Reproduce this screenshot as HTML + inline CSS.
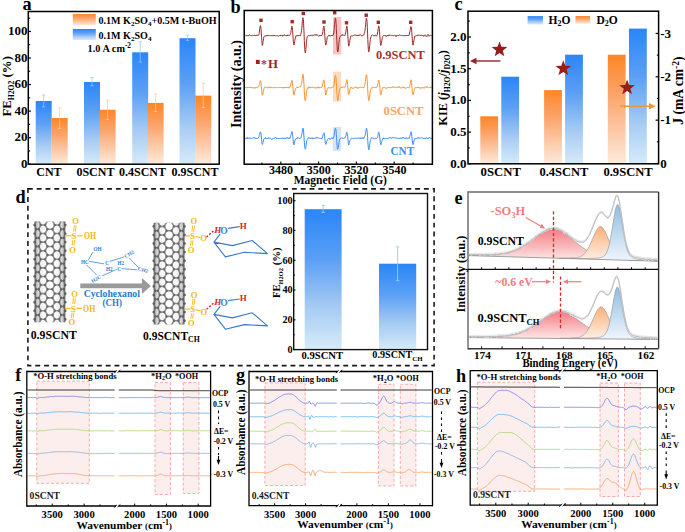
<!DOCTYPE html>
<html><head><meta charset="utf-8"><style>
html,body{margin:0;padding:0;background:#fff;width:685px;height:532px;overflow:hidden;}
svg{display:block;}
</style></head><body>
<svg width="685" height="532" viewBox="0 0 685 532" font-family="Liberation Serif">
<defs><linearGradient id="gb" x1="0" y1="0" x2="0" y2="1">
<stop offset="0" stop-color="#2a86f8"/><stop offset="0.35" stop-color="#5a9ff5"/><stop offset="0.7" stop-color="#a6cbf3"/><stop offset="1" stop-color="#d6ebf9"/></linearGradient>
<linearGradient id="go" x1="0" y1="0" x2="0" y2="1">
<stop offset="0" stop-color="#fc8626"/><stop offset="0.35" stop-color="#fba267"/><stop offset="0.7" stop-color="#fcc9a6"/><stop offset="1" stop-color="#fdebdc"/></linearGradient>
<linearGradient id="tubeg" x1="0" y1="0" x2="1" y2="0">
<stop offset="0" stop-color="#555" stop-opacity="0.55"/><stop offset="0.18" stop-color="#777" stop-opacity="0.15"/><stop offset="0.5" stop-color="#fff" stop-opacity="0"/><stop offset="0.82" stop-color="#777" stop-opacity="0.15"/><stop offset="1" stop-color="#555" stop-opacity="0.55"/></linearGradient>
<linearGradient id="gre" x1="0" y1="0" x2="0" y2="1"><stop offset="0" stop-color="#f47f83"/><stop offset="1" stop-color="#fdeaea"/></linearGradient>
<linearGradient id="gor" x1="0" y1="0" x2="0" y2="1"><stop offset="0" stop-color="#fbb079"/><stop offset="1" stop-color="#fdf1e7"/></linearGradient>
<linearGradient id="gbl" x1="0" y1="0" x2="0" y2="1"><stop offset="0" stop-color="#8ebde2"/><stop offset="1" stop-color="#f0f6fc"/></linearGradient></defs>
<rect width="685" height="532" fill="#fff"/>
<rect x="35.7" y="101" width="16" height="63.2" fill="url(#gb)" stroke="none" stroke-width="1"/>
<rect x="84" y="82" width="16" height="82.2" fill="url(#gb)" stroke="none" stroke-width="1"/>
<rect x="132.2" y="52.3" width="16" height="111.9" fill="url(#gb)" stroke="none" stroke-width="1"/>
<rect x="179.5" y="38.2" width="16" height="126" fill="url(#gb)" stroke="none" stroke-width="1"/>
<rect x="51.7" y="118" width="16" height="46.2" fill="url(#go)" stroke="none" stroke-width="1"/>
<rect x="99.6" y="109.7" width="16" height="54.5" fill="url(#go)" stroke="none" stroke-width="1"/>
<rect x="147.6" y="102.9" width="16" height="61.3" fill="url(#go)" stroke="none" stroke-width="1"/>
<rect x="195.2" y="95.6" width="16" height="68.6" fill="url(#go)" stroke="none" stroke-width="1"/>
<line x1="43.7" y1="95" x2="43.7" y2="106.9" stroke="#9ac8ee" stroke-width="0.75"/>
<line x1="42" y1="95" x2="45.4" y2="95" stroke="#9ac8ee" stroke-width="0.75"/>
<line x1="42" y1="106.9" x2="45.4" y2="106.9" stroke="#9ac8ee" stroke-width="0.75"/>
<line x1="92" y1="77.6" x2="92" y2="85.8" stroke="#9ac8ee" stroke-width="0.75"/>
<line x1="90.3" y1="77.6" x2="93.7" y2="77.6" stroke="#9ac8ee" stroke-width="0.75"/>
<line x1="90.3" y1="85.8" x2="93.7" y2="85.8" stroke="#9ac8ee" stroke-width="0.75"/>
<line x1="140.2" y1="41.7" x2="140.2" y2="62" stroke="#9ac8ee" stroke-width="0.75"/>
<line x1="138.5" y1="41.7" x2="141.9" y2="41.7" stroke="#9ac8ee" stroke-width="0.75"/>
<line x1="138.5" y1="62" x2="141.9" y2="62" stroke="#9ac8ee" stroke-width="0.75"/>
<line x1="187.5" y1="35" x2="187.5" y2="40.4" stroke="#9ac8ee" stroke-width="0.75"/>
<line x1="185.8" y1="35" x2="189.2" y2="35" stroke="#9ac8ee" stroke-width="0.75"/>
<line x1="185.8" y1="40.4" x2="189.2" y2="40.4" stroke="#9ac8ee" stroke-width="0.75"/>
<line x1="59.7" y1="107.8" x2="59.7" y2="128.5" stroke="#fcc8a6" stroke-width="0.75"/>
<line x1="58" y1="107.8" x2="61.4" y2="107.8" stroke="#fcc8a6" stroke-width="0.75"/>
<line x1="58" y1="128.5" x2="61.4" y2="128.5" stroke="#fcc8a6" stroke-width="0.75"/>
<line x1="107.6" y1="100.1" x2="107.6" y2="119.5" stroke="#fcc8a6" stroke-width="0.75"/>
<line x1="105.9" y1="100.1" x2="109.3" y2="100.1" stroke="#fcc8a6" stroke-width="0.75"/>
<line x1="105.9" y1="119.5" x2="109.3" y2="119.5" stroke="#fcc8a6" stroke-width="0.75"/>
<line x1="155.6" y1="94.1" x2="155.6" y2="111.6" stroke="#fcc8a6" stroke-width="0.75"/>
<line x1="153.9" y1="94.1" x2="157.3" y2="94.1" stroke="#fcc8a6" stroke-width="0.75"/>
<line x1="153.9" y1="111.6" x2="157.3" y2="111.6" stroke="#fcc8a6" stroke-width="0.75"/>
<line x1="203.2" y1="83.4" x2="203.2" y2="107.6" stroke="#fcc8a6" stroke-width="0.75"/>
<line x1="201.5" y1="83.4" x2="204.9" y2="83.4" stroke="#fcc8a6" stroke-width="0.75"/>
<line x1="201.5" y1="107.6" x2="204.9" y2="107.6" stroke="#fcc8a6" stroke-width="0.75"/>
<rect x="28.3" y="11.5" width="190.9" height="152.7" fill="none" stroke="#000" stroke-width="1.5"/>
<line x1="28.3" y1="164.2" x2="30.9" y2="164.2" stroke="#000" stroke-width="1.2"/>
<text x="27.6" y="167.7" font-size="13" text-anchor="end" fill="#000" font-weight="bold" font-family="Liberation Serif">0</text>
<line x1="28.3" y1="150.92" x2="30.1" y2="150.92" stroke="#000" stroke-width="1.2"/>
<line x1="28.3" y1="137.65" x2="30.9" y2="137.65" stroke="#000" stroke-width="1.2"/>
<text x="27.6" y="141.15" font-size="13" text-anchor="end" fill="#000" font-weight="bold" font-family="Liberation Serif">20</text>
<line x1="28.3" y1="124.38" x2="30.1" y2="124.38" stroke="#000" stroke-width="1.2"/>
<line x1="28.3" y1="111.1" x2="30.9" y2="111.1" stroke="#000" stroke-width="1.2"/>
<text x="27.6" y="114.6" font-size="13" text-anchor="end" fill="#000" font-weight="bold" font-family="Liberation Serif">40</text>
<line x1="28.3" y1="97.82" x2="30.1" y2="97.82" stroke="#000" stroke-width="1.2"/>
<line x1="28.3" y1="84.55" x2="30.9" y2="84.55" stroke="#000" stroke-width="1.2"/>
<text x="27.6" y="88.05" font-size="13" text-anchor="end" fill="#000" font-weight="bold" font-family="Liberation Serif">60</text>
<line x1="28.3" y1="71.27" x2="30.1" y2="71.27" stroke="#000" stroke-width="1.2"/>
<line x1="28.3" y1="58" x2="30.9" y2="58" stroke="#000" stroke-width="1.2"/>
<text x="27.6" y="61.5" font-size="13" text-anchor="end" fill="#000" font-weight="bold" font-family="Liberation Serif">80</text>
<line x1="28.3" y1="44.72" x2="30.1" y2="44.72" stroke="#000" stroke-width="1.2"/>
<line x1="28.3" y1="31.45" x2="30.9" y2="31.45" stroke="#000" stroke-width="1.2"/>
<text x="27.6" y="34.95" font-size="13" text-anchor="end" fill="#000" font-weight="bold" font-family="Liberation Serif">100</text>
<line x1="28.3" y1="18.18" x2="30.1" y2="18.18" stroke="#000" stroke-width="1.2"/>
<rect x="72.8" y="14" width="23" height="11.4" fill="url(#go)" stroke="none" stroke-width="1"/>
<rect x="72.8" y="29" width="23" height="11" fill="url(#gb)" stroke="none" stroke-width="1"/>
<text x="98.4" y="24" font-size="10.1" text-anchor="start" fill="#000" font-weight="bold" font-family="Liberation Serif">0.1M K<tspan dy="2.2" font-size="70%">2</tspan><tspan dy="-2.2">SO</tspan><tspan dy="2.2" font-size="70%">4</tspan><tspan dy="-2.2">+0.5M t-BuOH</tspan></text>
<text x="98.4" y="38.6" font-size="10.1" text-anchor="start" fill="#000" font-weight="bold" font-family="Liberation Serif">0.1M K<tspan dy="2.2" font-size="70%">2</tspan><tspan dy="-2.2">SO</tspan><tspan dy="2.2" font-size="70%">4</tspan></text>
<text x="87.5" y="52.4" font-size="10.3" text-anchor="start" fill="#000" font-weight="bold" font-family="Liberation Serif">1.0 A cm<tspan dy="-4" font-size="70%">-2</tspan></text>
<text x="48.9" y="176" font-size="12" text-anchor="middle" fill="#000" font-weight="bold" font-family="Liberation Serif">CNT</text>
<text x="95.4" y="176" font-size="12" text-anchor="middle" fill="#000" font-weight="bold" font-family="Liberation Serif">0SCNT</text>
<text x="142.5" y="176" font-size="12" text-anchor="middle" fill="#000" font-weight="bold" font-family="Liberation Serif">0.4SCNT</text>
<text x="195" y="176" font-size="12" text-anchor="middle" fill="#000" font-weight="bold" font-family="Liberation Serif">0.9SCNT</text>
<text x="11.4" y="86.3" font-size="12.8" text-anchor="middle" fill="#000" font-weight="bold" font-family="Liberation Serif" transform="rotate(-90 11.4 86.3)">FE<tspan dy="3" font-size="60%">H2O2</tspan><tspan dy="-3"> (%)</tspan></text>
<text x="22.4" y="9.9" font-size="18.3" text-anchor="start" fill="#000" font-weight="bold" font-family="Liberation Serif">a</text>
<rect x="333" y="17" width="8.2" height="37.5" fill="#f6b9b9" stroke="none" stroke-width="1" opacity="0.85"/>
<rect x="333" y="71.7" width="8.2" height="29.8" fill="#fcd5b4" stroke="none" stroke-width="1" opacity="0.85"/>
<rect x="332.8" y="127" width="8.4" height="24" fill="#cfe2f5" stroke="none" stroke-width="1" opacity="0.9"/>
<path d="M244.8 35.4 245.1 35.6 245.3 35.5 245.6 35.4 245.8 35.2 246.1 35.2 246.3 35.7 246.6 35.7 246.8 36 247.1 35.8 247.3 35.8 247.6 35.8 247.8 35.2 248.1 35.5 248.3 35.7 248.6 35.8 248.8 35.1 249.1 34.8 249.3 34.8 249.6 34.9 249.8 35.3 250.1 35.3 250.3 35.6 250.6 35.3 250.8 35.5 251.1 35.6 251.3 35.4 251.6 35.9 251.8 35.9 252.1 36.1 252.3 35.7 252.6 35.4 252.8 35.3 253.1 35.4 253.3 35.6 253.6 35.6 253.8 35.4 254.1 35.2 254.3 35.2 254.6 35.7 254.8 35.4 255.1 35.5 255.3 35.6 255.6 35.1 255.8 35.3 256.1 35.8 256.3 35.1 256.6 35.1 256.8 35.2 257.1 35.1 257.3 35.4 257.6 35.4 257.8 34.9 258.1 35.3 258.3 35.3 258.6 35.1 258.8 34.8 259.1 33.7 259.3 32.2 259.6 30 259.8 28.5 260.1 26.8 260.3 25.8 260.6 25.6 260.8 27 261.1 29.8 261.3 34 261.6 37.3 261.8 40.7 262.1 43.6 262.3 45.4 262.6 45.4 262.8 43.6 263.1 41.3 263.3 40.1 263.6 38.4 263.8 37 264.1 36.7 264.3 36.5 264.6 36.1 264.8 35.9 265.1 35.8 265.3 36.2 265.6 36.1 265.8 36 266.1 36 266.3 35.3 266.6 35.8 266.8 35.9 267.1 35.9 267.3 35.2 267.6 35.1 267.8 35.5 268.1 35 268.3 35.1 268.6 35.6 268.8 35.2 269.1 35.8 269.3 35.8 269.6 35.7 269.8 35.7 270.1 35.8 270.3 35.7 270.6 36 270.8 35.6 271.1 35.4 271.3 35.8 271.6 35.7 271.8 35.3 272.1 35.7 272.3 36.1 272.6 35.7 272.8 35.2 273.1 35.3 273.3 35.3 273.6 35.3 273.8 35.8 274.1 35.4 274.3 35.8 274.6 35.3 274.8 35.1 275.1 35.5 275.3 35.8 275.6 36 275.8 35.9 276.1 35.8 276.3 35.7 276.6 35.8 276.8 35.6 277.1 35.7 277.3 35.8 277.6 35.7 277.8 35.8 278.1 35.9 278.3 36.3 278.6 36.1 278.8 35.7 279.1 35.5 279.3 35.5 279.6 35.8 279.8 35.6 280.1 35.7 280.3 36.1 280.6 35.1 280.8 34.9 281.1 35.2 281.3 35.5 281.6 35.5 281.8 35.4 282.1 35.6 282.3 35.7 282.6 35.4 282.8 36.2 283.1 36 283.3 35.6 283.6 35.6 283.8 35.5 284.1 35.5 284.3 34.7 284.6 34.8 284.8 35.4 285.1 35.1 285.3 35.2 285.6 35.6 285.8 35.8 286.1 36.1 286.3 35.4 286.6 35.3 286.8 35.3 287.1 35.6 287.3 35.9 287.6 34.9 287.8 35.5 288.1 35.1 288.3 35.4 288.6 35 288.8 35.2 289.1 35.7 289.3 35.5 289.6 35.4 289.8 35.4 290.1 34.9 290.3 34.2 290.6 33.7 290.8 32.5 291.1 30.5 291.3 29.5 291.6 27.2 291.8 26.4 292.1 26.3 292.3 27.7 292.6 30.6 292.8 34.2 293.1 38.2 293.3 41.2 293.6 43.4 293.8 45 294.1 44.7 294.3 43.4 294.6 41.6 294.8 40.5 295.1 39.1 295.3 38.2 295.6 36.8 295.8 36.2 296.1 35.5 296.3 35.7 296.6 36.1 296.8 35.6 297.1 36 297.3 36.1 297.6 35.8 297.8 35.1 298.1 35.7 298.3 35.6 298.6 35.4 298.8 35.5 299.1 35.6 299.3 36 299.6 35.5 299.8 35.8 300.1 36 300.3 35.9 300.6 35.2 300.8 34.2 301.1 33.6 301.3 32.1 301.6 30.3 301.8 28.3 302.1 25.4 302.3 21.8 302.6 19.6 302.8 17.7 303.1 18.1 303.3 19.9 303.6 23.1 303.8 28.2 304.1 34.4 304.3 40.4 304.6 46 304.8 49.8 305.1 52.2 305.3 53 305.6 52.2 305.8 49.6 306.1 47.1 306.3 43.7 306.6 41.1 306.8 38.7 307.1 37.9 307.3 36.6 307.6 36.1 307.8 35.8 308.1 35.6 308.3 35.4 308.6 35.5 308.8 36 309.1 35.8 309.3 35.8 309.6 36 309.8 35.7 310.1 35.3 310.3 35.2 310.6 35.6 310.8 35.1 311.1 35.1 311.3 35.5 311.6 35.8 311.8 35.7 312.1 35.8 312.3 35.8 312.6 35.3 312.8 34.9 313.1 35 313.3 35.4 313.6 35.3 313.8 35.1 314.1 35 314.3 34.8 314.6 35 314.8 34.9 315.1 35.2 315.3 34.6 315.6 35.1 315.8 35.1 316.1 34.6 316.3 35.2 316.6 35.2 316.8 34.7 317.1 34.7 317.3 35.1 317.6 35.1 317.8 35.5 318.1 35.7 318.3 35.8 318.6 35.8 318.8 36.1 319.1 36 319.3 36 319.6 35.2 319.8 35.6 320.1 35.9 320.3 35.7 320.6 35.5 320.8 36 321.1 35.3 321.3 35.4 321.6 36 321.8 35.1 322.1 34.8 322.3 34.5 322.6 33.1 322.8 31.6 323.1 30 323.3 27.8 323.6 26.4 323.8 26 324.1 26.8 324.3 28.7 324.6 31.7 324.8 35.2 325.1 39.1 325.3 42.7 325.6 44.7 325.8 45.1 326.1 44.4 326.3 43.9 326.6 42.3 326.8 40.5 327.1 38 327.3 37.2 327.6 36.6 327.8 36.6 328.1 36.2 328.3 35.9 328.6 35.9 328.8 35.1 329.1 35.6 329.3 35.6 329.6 35.4 329.8 35.8 330.1 36.2 330.3 35.5 330.6 35.3 330.8 35.5 331.1 35.5 331.3 35.4 331.6 35.1 331.8 35.9 332.1 36 332.3 35.4 332.6 34.9 332.8 35.4 333.1 35.2 333.3 35 333.6 34 333.8 32.1 334.1 30.3 334.3 27.2 334.6 24.6 334.8 22 335.1 19.9 335.3 18.2 335.6 18.1 335.8 19.9 336.1 23.5 336.3 28.6 336.6 34.5 336.8 40.3 337.1 45.8 337.3 49.7 337.6 51.6 337.8 52 338.1 51.1 338.3 49.1 338.6 46.6 338.8 44 339.1 41.6 339.3 39.6 339.6 37.8 339.8 37 340.1 36.7 340.3 36.3 340.6 35.9 340.8 35.8 341.1 35.4 341.3 34.9 341.6 35.1 341.8 35 342.1 35.4 342.3 35.1 342.6 34.5 342.8 34.6 343.1 35.4 343.3 35.3 343.6 35 343.8 34.9 344.1 35.3 344.3 35.4 344.6 35.3 344.8 35.5 345.1 35 345.3 34.1 345.6 33 345.8 31.9 346.1 30.2 346.3 28.5 346.6 26.6 346.8 25.9 347.1 26.8 347.3 28.6 347.6 32 347.8 35.9 348.1 39.9 348.3 42.9 348.6 45.6 348.8 46.2 349.1 45.2 349.3 43.7 349.6 42.6 349.8 40.4 350.1 38.9 350.3 37.9 350.6 36.9 350.8 35.9 351.1 35.7 351.3 35.7 351.6 36 351.8 36 352.1 35.8 352.3 35.9 352.6 35.9 352.8 35.8 353.1 35.7 353.3 35.6 353.6 35.7 353.8 35.3 354.1 35.2 354.3 35.3 354.6 35 354.8 35 355.1 34.6 355.3 34.8 355.6 35.2 355.8 35.5 356.1 35.5 356.3 35.4 356.6 35 356.8 35.8 357.1 35.8 357.3 36 357.6 35.5 357.8 35.5 358.1 34.9 358.3 35.4 358.6 35.7 358.8 35.1 359.1 35.2 359.3 35.5 359.6 35 359.8 34.6 360.1 34.7 360.3 34.8 360.6 34.7 360.8 35 361.1 35.3 361.3 35.6 361.6 35.7 361.8 36.1 362.1 36.2 362.3 35.5 362.6 35.4 362.8 35.1 363.1 34.9 363.3 35 363.6 35.1 363.8 35.1 364.1 34.3 364.3 33.5 364.6 32.9 364.8 31.6 365.1 29.8 365.3 27.6 365.6 24.8 365.8 22.4 366.1 20.1 366.3 18.5 366.6 18.2 366.8 19.8 367.1 22.4 367.3 27.5 367.6 33.8 367.8 39.5 368.1 45.2 368.3 49.3 368.6 51.2 368.8 51.9 369.1 50.9 369.3 49.2 369.6 46.8 369.8 44.1 370.1 41.4 370.3 39.5 370.6 38 370.8 37.3 371.1 36.6 371.3 35.9 371.6 35.3 371.8 35.2 372.1 35.1 372.3 34.9 372.6 35.1 372.8 35.1 373.1 35.3 373.3 35.5 373.6 35.4 373.8 36.1 374.1 35.8 374.3 36 374.6 35.8 374.8 36 375.1 35.1 375.3 35 375.6 35.3 375.8 35.5 376.1 36.2 376.3 35.9 376.6 35.9 376.8 35.6 377.1 35.2 377.3 34.3 377.6 33 377.8 31.5 378.1 29.4 378.3 28.1 378.6 26.3 378.8 25.9 379.1 27.2 379.3 28.8 379.6 31.9 379.8 36 380.1 39.7 380.3 42.6 380.6 44.7 380.8 45.5 381.1 45.1 381.3 43.3 381.6 42.1 381.8 40.7 382.1 38.9 382.3 37.6 382.6 36.6 382.8 36.5 383.1 35.8 383.3 35.9 383.6 35.6 383.8 35.3 384.1 35.6 384.3 36 384.6 35.8 384.8 35.5 385.1 35.7 385.3 35.6 385.6 35.7 385.8 36.1 386.1 36.2 386.3 35.7 386.6 36.3 386.8 36 387.1 36 387.3 35.6 387.6 35.6 387.8 35 388.1 35.7 388.3 36.1 388.6 35.5 388.8 35 389.1 34.7 389.3 35.4 389.6 35.3 389.8 35.4 390.1 35.3 390.3 35.4 390.6 35.1 390.8 35.3 391.1 34.9 391.3 35.1 391.6 35.4 391.8 35.6 392.1 35.5 392.3 35.2 392.6 35.4 392.8 35.3 393.1 35.8 393.3 35.9 393.6 35.7 393.8 35.5 394.1 35.3 394.3 35.1 394.6 35.1 394.8 35.4 395.1 35.6 395.3 35.7 395.6 36.3 395.8 35.7 396.1 35.7 396.3 36.4 396.6 35.5 396.8 35.3 397.1 35.5 397.3 35.5 397.6 35.6 397.8 35.5 398.1 35.6 398.3 35.6 398.6 35.8 398.8 35.1 399.1 35 399.3 35.2 399.6 35 399.8 34.9 400.1 35.3 400.3 35.2 400.6 35.5 400.8 35.7 401.1 35.7 401.3 35.8 401.6 35.6 401.8 35.2 402.1 35.3 402.3 35.5 402.6 35.3 402.8 35.4 403.1 35.7 403.3 35.3 403.6 35.6 403.8 36.1 404.1 35.7 404.3 35.7 404.6 35.6 404.8 36 405.1 35.9 405.3 36 405.6 35.6 405.8 35.6 406.1 35.5 406.3 35 406.6 35.6 406.8 35.8 407.1 35.2 407.3 35.5 407.6 35.5 407.8 35.6 408.1 35.7 408.3 35.1 408.6 35.1 408.8 35.5 409.1 34.9 409.3 34.1 409.6 33 409.8 31.7 410.1 30.6 410.3 29.5 410.6 27.8 410.8 26.5 411.1 26.8 411.3 27.2 411.6 29.1 411.8 32.6 412.1 36.6 412.3 40 412.6 42.7 412.8 44.7 413.1 45.2 413.3 44.1 413.6 42.7 413.8 40.9 414.1 39.5 414.3 38.1 414.6 37 414.8 36.2 415.1 36.2 415.3 36.3 415.6 35.8 415.8 35.9 416.1 35.5 416.3 35.5 416.6 35.7 416.8 36.1 417.1 35.7 417.3 35.6 417.6 35.6 417.8 35.1 418.1 35.3 418.3 35.2 418.6 35.4 418.8 35.1 419.1 34.7 419.3 35 419.6 35.3 419.8 35.2 420.1 35.6 420.3 35.5 420.6 35.3 420.8 35.5 421.1 35 421.3 35 421.6 35.2 421.8 35.6 422.1 35.5 422.3 35.6 422.6 35.4 422.8 35.5 423.1 36 423.3 35.6 423.6 36.3 423.8 35.8 424.1 35.7 424.3 35.7 424.6 35.9 424.8 35.4 425.1 34.8 425.3 35.3 425.6 35.6 425.8 35.7 426.1 36.4 426.3 36.1 426.6 35.9 426.8 36 427.1 35.9 427.3 36.3 427.6 35.6 427.8 35.4 428.1 34.4 428.3 35.1 428.6 35.1 428.8 35.6 429.1 36.2 429.3 35.9 429.6 35.7 429.8 35.5 430.1 35.2 430.3 35.1 430.6 35.5 430.8 35.5 431.1 35.5 431.3 35.5 431.6 35.7 431.8 35.8" stroke="#a02626" stroke-width="1" fill="none" stroke-linejoin="round"/>
<path d="M244.8 87.5 245.1 87.7 245.3 87.6 245.6 87.2 245.8 87.8 246.1 87.8 246.3 87.4 246.6 87.8 246.8 87.8 247.1 87.2 247.3 87.8 247.6 87.8 247.8 87.9 248.1 87.8 248.3 87.6 248.6 87.1 248.8 87.6 249.1 87.5 249.3 87.4 249.6 87.6 249.8 87.6 250.1 87.7 250.3 87.5 250.6 87.5 250.8 86.9 251.1 87 251.3 87.4 251.6 87.8 251.8 87.6 252.1 87.5 252.3 88 252.6 87.7 252.8 87.8 253.1 88.2 253.3 87.9 253.6 88.1 253.8 87.7 254.1 87.7 254.3 87.6 254.6 87.6 254.8 87.9 255.1 88.4 255.3 87.9 255.6 87.5 255.8 87.7 256.1 87.3 256.3 87.5 256.6 87.7 256.8 87.5 257.1 87.7 257.3 87.1 257.6 87.5 257.8 87 258.1 86.9 258.3 86.7 258.6 86.5 258.8 86.5 259.1 85.7 259.3 84.6 259.6 83.6 259.8 82.7 260.1 81.3 260.3 80.6 260.6 80.9 260.8 81.9 261.1 83.4 261.3 87 261.6 90.4 261.8 92.1 262.1 94 262.3 95.1 262.6 95.2 262.8 94.4 263.1 92.9 263.3 91.2 263.6 90 263.8 89.4 264.1 88.3 264.3 87.6 264.6 87.5 264.8 86.9 265.1 87 265.3 87.1 265.6 87.4 265.8 87.2 266.1 87.1 266.3 87.1 266.6 87.3 266.8 87.2 267.1 87.3 267.3 87.6 267.6 87.9 267.8 88.3 268.1 87.7 268.3 87.5 268.6 86.8 268.8 87.6 269.1 87.4 269.3 87.4 269.6 87.6 269.8 87.2 270.1 87.4 270.3 87.5 270.6 86.9 270.8 87.2 271.1 87.7 271.3 87.1 271.6 87.5 271.8 87.6 272.1 87.7 272.3 87.7 272.6 88 272.8 87.8 273.1 87.9 273.3 87.6 273.6 87.8 273.8 87.4 274.1 87.4 274.3 88 274.6 87.9 274.8 87.7 275.1 87.3 275.3 87.1 275.6 87.3 275.8 87.7 276.1 87.7 276.3 87.8 276.6 87.7 276.8 88 277.1 87.7 277.3 87.4 277.6 87.7 277.8 87.7 278.1 87.5 278.3 87.3 278.6 87.3 278.8 87.6 279.1 87.7 279.3 87.2 279.6 87.5 279.8 87.5 280.1 87.2 280.3 87.6 280.6 87.5 280.8 87.4 281.1 87.7 281.3 88 281.6 87.6 281.8 87.7 282.1 87.3 282.3 88.1 282.6 87.7 282.8 88 283.1 87.6 283.3 87.8 283.6 88.3 283.8 87.2 284.1 87.2 284.3 87.5 284.6 87.5 284.8 87.3 285.1 88 285.3 87.8 285.6 87.2 285.8 87.6 286.1 87 286.3 87.6 286.6 87.4 286.8 87.5 287.1 87.9 287.3 87.7 287.6 87.2 287.8 86.8 288.1 87.5 288.3 87.7 288.6 87.4 288.8 87.7 289.1 87.7 289.3 87.8 289.6 86.9 289.8 86.8 290.1 87 290.3 86.7 290.6 86.1 290.8 84.2 291.1 83.2 291.3 82.1 291.6 81.7 291.8 80.4 292.1 80.4 292.3 81.5 292.6 83.8 292.8 86.3 293.1 89.7 293.3 92 293.6 94.1 293.8 94.8 294.1 94.8 294.3 93.8 294.6 92.1 294.8 91.3 295.1 90.2 295.3 89 295.6 88.5 295.8 88.3 296.1 87.7 296.3 87.5 296.6 87.7 296.8 87.7 297.1 87.5 297.3 86.9 297.6 87.5 297.8 87.6 298.1 87.6 298.3 87.5 298.6 87.6 298.8 87.4 299.1 87.1 299.3 87 299.6 87 299.8 87 300.1 86.7 300.3 87 300.6 86.4 300.8 86.4 301.1 85.5 301.3 84.7 301.6 83.8 301.8 82.1 302.1 79.8 302.3 77.8 302.6 76.1 302.8 74.4 303.1 74.3 303.3 75.7 303.6 78.2 303.8 82 304.1 86.7 304.3 91.5 304.6 95.8 304.8 99 305.1 100.5 305.3 100.8 305.6 99.9 305.8 98.2 306.1 96.1 306.3 93.6 306.6 91.8 306.8 90.5 307.1 89.1 307.3 88.5 307.6 88.2 307.8 87.8 308.1 88.3 308.3 87.2 308.6 87.2 308.8 86.8 309.1 87.4 309.3 88.2 309.6 87.2 309.8 87.3 310.1 87.6 310.3 87.4 310.6 87.6 310.8 86.9 311.1 87.4 311.3 87.6 311.6 87.5 311.8 87.3 312.1 87.6 312.3 87.4 312.6 87.5 312.8 87.4 313.1 86.7 313.3 87 313.6 87.3 313.8 87.6 314.1 87.3 314.3 87.4 314.6 87.6 314.8 87.6 315.1 87.9 315.3 88.4 315.6 87.7 315.8 87.1 316.1 87.5 316.3 88 316.6 88.1 316.8 88.1 317.1 87.7 317.3 87.4 317.6 87.7 317.8 87.3 318.1 86.9 318.3 86.8 318.6 87.8 318.8 88.3 319.1 87.8 319.3 87.4 319.6 87.5 319.8 87.3 320.1 87.8 320.3 87.6 320.6 87.3 320.8 87.7 321.1 87.4 321.3 87.5 321.6 87.3 321.8 87 322.1 86.8 322.3 86 322.6 84.7 322.8 83.2 323.1 81.9 323.3 80.8 323.6 80.1 323.8 79.9 324.1 80.7 324.3 82.2 324.6 84.4 324.8 87.2 325.1 89.7 325.3 92.4 325.6 94.3 325.8 95 326.1 94.6 326.3 93.5 326.6 92.4 326.8 91 327.1 90 327.3 89.2 327.6 88.6 327.8 88.5 328.1 87.9 328.3 87.6 328.6 87.3 328.8 87.1 329.1 87.7 329.3 88.2 329.6 87.9 329.8 87.9 330.1 88.1 330.3 88.1 330.6 88.2 330.8 87.6 331.1 87.3 331.3 87.5 331.6 87.9 331.8 87.8 332.1 87.4 332.3 87.3 332.6 87.1 332.8 86.8 333.1 87.1 333.3 86.4 333.6 85.8 333.8 85.5 334.1 84.2 334.3 82.3 334.6 80 334.8 78 335.1 76.6 335.3 75.5 335.6 75.5 335.8 76.4 336.1 78.9 336.3 82.4 336.6 86.8 336.8 91.8 337.1 95.3 337.3 98.4 337.6 100.3 337.8 100.5 338.1 99.7 338.3 98.4 338.6 96.9 338.8 94.8 339.1 92.7 339.3 90.6 339.6 90 339.8 89.1 340.1 88.4 340.3 87.7 340.6 87.5 340.8 87.2 341.1 87.3 341.3 87.5 341.6 87.5 341.8 87.6 342.1 87.3 342.3 87.8 342.6 87.5 342.8 86.9 343.1 87.1 343.3 87 343.6 86.9 343.8 87 344.1 87.3 344.3 86.9 344.6 87 344.8 87.3 345.1 87.1 345.3 86.3 345.6 85.5 345.8 84.3 346.1 83 346.3 81.9 346.6 80.7 346.8 79.5 347.1 80.3 347.3 81.7 347.6 84.5 347.8 87.3 348.1 90.4 348.3 93.5 348.6 94.5 348.8 94.7 349.1 94 349.3 92.4 349.6 91 349.8 90.2 350.1 89.2 350.3 88 350.6 87.3 350.8 87.5 351.1 87.2 351.3 87.2 351.6 87.4 351.8 87.8 352.1 88.3 352.3 88.3 352.6 88 352.8 87.9 353.1 88.3 353.3 88.4 353.6 87.9 353.8 87.9 354.1 87.8 354.3 87.7 354.6 87.5 354.8 87.1 355.1 87.1 355.3 86.8 355.6 87.4 355.8 87.6 356.1 87.2 356.3 87.7 356.6 87.9 356.8 87.2 357.1 87.9 357.3 88 357.6 88.4 357.8 87.7 358.1 87.8 358.3 87.8 358.6 87.7 358.8 87.7 359.1 87.9 359.3 87.3 359.6 87 359.8 86.8 360.1 86.9 360.3 87 360.6 87.3 360.8 87.5 361.1 87.5 361.3 87.3 361.6 87.2 361.8 87.6 362.1 87.8 362.3 87.7 362.6 87.5 362.8 88 363.1 87.6 363.3 87.7 363.6 87.9 363.8 87.4 364.1 87.3 364.3 86.4 364.6 86.1 364.8 85.1 365.1 83.1 365.3 81.8 365.6 79.5 365.8 78 366.1 76 366.3 74.8 366.6 74.8 366.8 75.9 367.1 78.5 367.3 82 367.6 86.7 367.8 91.3 368.1 95.5 368.3 97.7 368.6 100.2 368.8 100.6 369.1 99.3 369.3 98 369.6 96.2 369.8 94.5 370.1 92.1 370.3 91.1 370.6 89.8 370.8 89.6 371.1 88.7 371.3 88.4 371.6 87.9 371.8 87.4 372.1 87.7 372.3 87.9 372.6 88.2 372.8 88.2 373.1 87.7 373.3 87.1 373.6 87.1 373.8 87.1 374.1 87 374.3 87.4 374.6 87.5 374.8 87.4 375.1 87.5 375.3 87.5 375.6 87.5 375.8 87.7 376.1 87.9 376.3 87.5 376.6 86.9 376.8 87.3 377.1 86.9 377.3 86.6 377.6 85.1 377.8 84 378.1 82.8 378.3 81.1 378.6 80.1 378.8 80.1 379.1 81 379.3 82.8 379.6 84.7 379.8 87.2 380.1 90.4 380.3 93.2 380.6 94.7 380.8 94.7 381.1 94.7 381.3 93.8 381.6 92.5 381.8 90.9 382.1 89.8 382.3 89.2 382.6 88.3 382.8 87.4 383.1 87.5 383.3 87.6 383.6 87.6 383.8 87.8 384.1 87.5 384.3 87.5 384.6 87.4 384.8 87.6 385.1 88 385.3 87.7 385.6 88.3 385.8 88.4 386.1 88.3 386.3 88.1 386.6 88.4 386.8 88 387.1 87.8 387.3 87.3 387.6 87.5 387.8 87.9 388.1 87.9 388.3 87.9 388.6 87.7 388.8 87.7 389.1 87.2 389.3 87.6 389.6 87.4 389.8 87.1 390.1 87.1 390.3 87 390.6 87.4 390.8 87.8 391.1 87.3 391.3 87.6 391.6 87.8 391.8 87.5 392.1 87.1 392.3 87 392.6 87 392.8 87.3 393.1 87.3 393.3 86.8 393.6 87.1 393.8 86.8 394.1 87.4 394.3 87.1 394.6 87 394.8 87 395.1 87 395.3 87.6 395.6 87.8 395.8 87.9 396.1 87.8 396.3 87.2 396.6 87.2 396.8 87.1 397.1 87 397.3 87.3 397.6 87.2 397.8 87.1 398.1 86.9 398.3 86.6 398.6 87.1 398.8 87.7 399.1 87.7 399.3 87.3 399.6 86.6 399.8 87 400.1 87.6 400.3 87.6 400.6 87.9 400.8 88.2 401.1 88.2 401.3 87.8 401.6 88 401.8 88 402.1 87.4 402.3 87.3 402.6 86.9 402.8 87.1 403.1 87.5 403.3 87.2 403.6 86.7 403.8 87.4 404.1 87.5 404.3 88 404.6 87.4 404.8 87.7 405.1 88.3 405.3 88.6 405.6 88.1 405.8 87.9 406.1 87.7 406.3 87.9 406.6 88.1 406.8 87.9 407.1 87.3 407.3 87.6 407.6 87.4 407.8 87.6 408.1 87.6 408.3 88 408.6 88.1 408.8 87.6 409.1 87.3 409.3 87.3 409.6 86.3 409.8 85.4 410.1 84.5 410.3 83.4 410.6 82 410.8 80.4 411.1 79.8 411.3 80.7 411.6 82.6 411.8 85.9 412.1 88.3 412.3 91.5 412.6 93.9 412.8 94.5 413.1 94.6 413.3 94.2 413.6 93 413.8 91.7 414.1 90.6 414.3 89.3 414.6 88.7 414.8 88 415.1 87.6 415.3 87.7 415.6 87.4 415.8 87.5 416.1 88 416.3 87.8 416.6 87.6 416.8 87.8 417.1 87.6 417.3 87.9 417.6 87.3 417.8 87.6 418.1 87.4 418.3 87.2 418.6 87.9 418.8 87.5 419.1 88 419.3 88 419.6 88.2 419.8 87.6 420.1 87.9 420.3 88.2 420.6 87.9 420.8 87.7 421.1 88.4 421.3 88.1 421.6 87.7 421.8 87.4 422.1 87.6 422.3 87.7 422.6 87.6 422.8 88.1 423.1 87.8 423.3 87.8 423.6 88.1 423.8 87.6 424.1 87.9 424.3 88.3 424.6 87.6 424.8 87.2 425.1 87 425.3 86.7 425.6 87.1 425.8 86.7 426.1 87.2 426.3 87.7 426.6 87.2 426.8 87.2 427.1 86.7 427.3 87.3 427.6 87.1 427.8 87.2 428.1 87.3 428.3 87.6 428.6 87.4 428.8 87.5 429.1 87.3 429.3 87.4 429.6 87.1 429.8 87.3 430.1 86.8 430.3 86.9 430.6 87.7 430.8 87.7 431.1 87.2 431.3 87.4 431.6 87.2 431.8 86.8" stroke="#f7922c" stroke-width="1" fill="none" stroke-linejoin="round"/>
<path d="M244.8 138.1 245.1 138.4 245.3 138.5 245.6 138.4 245.8 138.1 246.1 137.8 246.3 138.4 246.6 138.4 246.8 138.1 247.1 137.5 247.3 137.4 247.6 138.5 247.8 138.1 248.1 138.2 248.3 138.3 248.6 138.2 248.8 138.2 249.1 137.8 249.3 137.7 249.6 138.4 249.8 138.2 250.1 138.5 250.3 137.9 250.6 138 250.8 138.2 251.1 138.5 251.3 138.1 251.6 138.4 251.8 138.5 252.1 138.2 252.3 138.4 252.6 138.1 252.8 137.9 253.1 138.1 253.3 137.3 253.6 137.7 253.8 137.6 254.1 137.5 254.3 137.7 254.6 138.2 254.8 138.1 255.1 138.6 255.3 138.1 255.6 137.8 255.8 138.5 256.1 138.5 256.3 138.7 256.6 138.3 256.8 138.5 257.1 138.5 257.3 138.6 257.6 138.5 257.8 138.7 258.1 138.3 258.3 137.8 258.6 137.2 258.8 137.4 259.1 136.6 259.3 135.6 259.6 134.4 259.8 133.4 260.1 132.3 260.3 131.9 260.6 132 260.8 132.9 261.1 134.5 261.3 137 261.6 139.5 261.8 141.9 262.1 143.7 262.3 144.5 262.6 143.8 262.8 143.1 263.1 142.1 263.3 141.4 263.6 139.9 263.8 139.1 264.1 138.7 264.3 138.4 264.6 138.6 264.8 138.3 265.1 138.6 265.3 138 265.6 137.6 265.8 138.2 266.1 138.4 266.3 138.5 266.6 138.5 266.8 138.5 267.1 138.1 267.3 138.5 267.6 138.2 267.8 138.6 268.1 138.5 268.3 137.8 268.6 137.6 268.8 138.2 269.1 138.2 269.3 138.1 269.6 138.3 269.8 138.2 270.1 138.1 270.3 138.2 270.6 138.3 270.8 138.7 271.1 138.6 271.3 139 271.6 139.3 271.8 139.4 272.1 139.3 272.3 138.9 272.6 138.7 272.8 138.5 273.1 138.2 273.3 138.2 273.6 138.1 273.8 138.6 274.1 138.7 274.3 138.4 274.6 137.8 274.8 138 275.1 138 275.3 137.8 275.6 137.6 275.8 137.2 276.1 137.8 276.3 138 276.6 138.9 276.8 138.6 277.1 138.5 277.3 138.8 277.6 138.7 277.8 138.6 278.1 138.3 278.3 138.1 278.6 138.7 278.8 138.8 279.1 139.1 279.3 138.7 279.6 138.5 279.8 138.2 280.1 138.5 280.3 138 280.6 138.3 280.8 138.6 281.1 138.9 281.3 138.4 281.6 138.7 281.8 138.3 282.1 138.1 282.3 137.8 282.6 138.3 282.8 138.8 283.1 138.4 283.3 138.1 283.6 138.1 283.8 138.9 284.1 139 284.3 138.5 284.6 137.9 284.8 137.9 285.1 138.4 285.3 138.9 285.6 138.6 285.8 138.3 286.1 138.1 286.3 137.6 286.6 138.2 286.8 137.9 287.1 138.4 287.3 137.8 287.6 137.6 287.8 138 288.1 137.9 288.3 138.3 288.6 138.3 288.8 137.9 289.1 138.2 289.3 138.5 289.6 137.7 289.8 138.3 290.1 138.1 290.3 137.8 290.6 136.5 290.8 135.6 291.1 134.6 291.3 134 291.6 132.6 291.8 131.9 292.1 131.5 292.3 132.7 292.6 134.8 292.8 136.7 293.1 139.2 293.3 141.9 293.6 144 293.8 144.9 294.1 144.5 294.3 143.4 294.6 142.2 294.8 141 295.1 140.2 295.3 139.5 295.6 139.5 295.8 139.1 296.1 138.4 296.3 138.8 296.6 138.9 296.8 138.7 297.1 138.3 297.3 137.7 297.6 137.7 297.8 138.2 298.1 138 298.3 137.7 298.6 138 298.8 138.2 299.1 138.4 299.3 138.6 299.6 138.9 299.8 138.3 300.1 138.5 300.3 138 300.6 138 300.8 137.7 301.1 137.2 301.3 136.6 301.6 135.4 301.8 134.3 302.1 132.8 302.3 131.1 302.6 129.4 302.8 128.3 303.1 128.1 303.3 129.1 303.6 131.1 303.8 135 304.1 138.3 304.3 142 304.6 145 304.8 147.3 305.1 148.8 305.3 149.2 305.6 148.3 305.8 147.6 306.1 145.6 306.3 144.2 306.6 141.8 306.8 140.7 307.1 139.9 307.3 139.3 307.6 139.1 307.8 138.8 308.1 138.6 308.3 137.9 308.6 137.8 308.8 137.3 309.1 137.9 309.3 138.1 309.6 138.1 309.8 138 310.1 137.9 310.3 138.6 310.6 139 310.8 138.7 311.1 138.9 311.3 138.2 311.6 137.7 311.8 137.8 312.1 137.7 312.3 137.8 312.6 138 312.8 139.1 313.1 138.6 313.3 138.5 313.6 138.5 313.8 138.4 314.1 138.6 314.3 139 314.6 138.4 314.8 138.4 315.1 138.3 315.3 138.4 315.6 137.9 315.8 137.5 316.1 137.1 316.3 137.8 316.6 138 316.8 138.2 317.1 137.5 317.3 137.7 317.6 137.7 317.8 137.5 318.1 137.6 318.3 138.1 318.6 138.3 318.8 138.3 319.1 138.5 319.3 138.2 319.6 138.3 319.8 138.3 320.1 138.5 320.3 138.4 320.6 138.3 320.8 138.2 321.1 138.1 321.3 138.8 321.6 138.6 321.8 138.4 322.1 138.6 322.3 138.2 322.6 136.7 322.8 135.9 323.1 135 323.3 134.3 323.6 133.5 323.8 133.1 324.1 132.8 324.3 133.7 324.6 135.9 324.8 138.4 325.1 140.5 325.3 142.6 325.6 143.8 325.8 144.4 326.1 144.2 326.3 143.2 326.6 141.8 326.8 141.2 327.1 140.7 327.3 139.7 327.6 139.4 327.8 139.1 328.1 138.9 328.3 138.8 328.6 138.4 328.8 138.5 329.1 138.7 329.3 138.3 329.6 138.9 329.8 139.3 330.1 139.4 330.3 139.6 330.6 139.3 330.8 138.8 331.1 138.4 331.3 138.1 331.6 138.2 331.8 138.2 332.1 138.4 332.3 137.7 332.6 138.6 332.8 139 333.1 138.4 333.3 138.1 333.6 137.5 333.8 136.6 334.1 135.3 334.3 133.9 334.6 132.1 334.8 130.6 335.1 129.3 335.3 128.5 335.6 128.2 335.8 129.2 336.1 131.2 336.3 134.3 336.6 137.4 336.8 141.4 337.1 145.2 337.3 147.8 337.6 149.1 337.8 149.2 338.1 148.5 338.3 147.4 338.6 146.2 338.8 144.2 339.1 142.3 339.3 141.1 339.6 140.2 339.8 139.2 340.1 138.6 340.3 138.4 340.6 138.5 340.8 138.1 341.1 137.8 341.3 138.2 341.6 137.9 341.8 138.1 342.1 138.3 342.3 138.2 342.6 138 342.8 138.1 343.1 138.1 343.3 138.3 343.6 138 343.8 138.4 344.1 137.9 344.3 137.9 344.6 138 344.8 138.2 345.1 137.6 345.3 137.3 345.6 136.4 345.8 135.8 346.1 135.2 346.3 133.7 346.6 132.9 346.8 132.2 347.1 132.9 347.3 134.4 347.6 136.2 347.8 138.1 348.1 140.8 348.3 143.2 348.6 144.6 348.8 145.1 349.1 143.9 349.3 142.9 349.6 142.4 349.8 140.8 350.1 140.3 350.3 140.1 350.6 139.6 350.8 139.4 351.1 138.8 351.3 138.2 351.6 138.2 351.8 138.2 352.1 138.2 352.3 138.5 352.6 138.3 352.8 138.4 353.1 138.5 353.3 138.4 353.6 138.9 353.8 138.8 354.1 138.6 354.3 138.4 354.6 138.2 354.8 138.6 355.1 138.5 355.3 138.1 355.6 138 355.8 138.1 356.1 138 356.3 138.5 356.6 138.1 356.8 138.3 357.1 138.3 357.3 138 357.6 138.1 357.8 138.2 358.1 138.4 358.3 138.2 358.6 138.3 358.8 137.8 359.1 137.7 359.3 138.2 359.6 138.5 359.8 138.4 360.1 138.2 360.3 138.6 360.6 137.8 360.8 137.8 361.1 138.2 361.3 138.4 361.6 138.1 361.8 137.6 362.1 138.3 362.3 138.4 362.6 138.1 362.8 138.2 363.1 138.5 363.3 137.6 363.6 138.1 363.8 138.3 364.1 137.4 364.3 137.5 364.6 136.4 364.8 136.2 365.1 135.3 365.3 134.6 365.6 132.6 365.8 130.9 366.1 129.8 366.3 128.5 366.6 128.2 366.8 129.1 367.1 131.1 367.3 133.7 367.6 137.5 367.8 141.5 368.1 145 368.3 148 368.6 149.2 368.8 149.8 369.1 148.8 369.3 147.6 369.6 145.2 369.8 143.7 370.1 142.1 370.3 140.8 370.6 139.7 370.8 139 371.1 138.5 371.3 137.7 371.6 137.8 371.8 137.8 372.1 137.8 372.3 137.7 372.6 137.9 372.8 138.3 373.1 138.2 373.3 138.1 373.6 138.6 373.8 138.8 374.1 138.9 374.3 139 374.6 138.6 374.8 138.4 375.1 138.7 375.3 138.4 375.6 138.3 375.8 138.4 376.1 138.5 376.3 138.3 376.6 138.4 376.8 138.1 377.1 138 377.3 137.7 377.6 137 377.8 136.1 378.1 134.5 378.3 133.1 378.6 132.2 378.8 132.2 379.1 133.1 379.3 133.8 379.6 135.9 379.8 138 380.1 140.4 380.3 142.5 380.6 144.1 380.8 144.6 381.1 144.6 381.3 143.2 381.6 142.4 381.8 141.5 382.1 140.4 382.3 139.7 382.6 139 382.8 138.3 383.1 138.2 383.3 138 383.6 139 383.8 138.6 384.1 138.9 384.3 138.7 384.6 138.7 384.8 138.7 385.1 138.3 385.3 138.6 385.6 138.6 385.8 138 386.1 138.3 386.3 138.5 386.6 138.5 386.8 138.9 387.1 138.5 387.3 138.6 387.6 138.7 387.8 138.3 388.1 138.6 388.3 138.1 388.6 137.8 388.8 138.1 389.1 137.9 389.3 138 389.6 137.6 389.8 137.9 390.1 137.7 390.3 138.1 390.6 137.7 390.8 138.1 391.1 138.1 391.3 138.2 391.6 138.2 391.8 138.3 392.1 137.9 392.3 137.3 392.6 137.7 392.8 137.7 393.1 137.8 393.3 138.1 393.6 137.6 393.8 137.6 394.1 137.7 394.3 137.6 394.6 138 394.8 138.1 395.1 137.9 395.3 137.8 395.6 138.2 395.8 138.1 396.1 138.3 396.3 138.5 396.6 137.8 396.8 137.7 397.1 137.9 397.3 138.2 397.6 138.5 397.8 138.6 398.1 138.8 398.3 138.5 398.6 138.4 398.8 138.6 399.1 138.3 399.3 138.6 399.6 138 399.8 138.3 400.1 138.3 400.3 137.7 400.6 138.2 400.8 138.4 401.1 138.3 401.3 138 401.6 138 401.8 138.6 402.1 138.2 402.3 137.2 402.6 137.4 402.8 137.4 403.1 137.7 403.3 137.8 403.6 137.7 403.8 137.7 404.1 138.3 404.3 137.8 404.6 138.6 404.8 138.3 405.1 138 405.3 138.3 405.6 138.5 405.8 138.1 406.1 138.4 406.3 137.8 406.6 137.7 406.8 138.3 407.1 138.2 407.3 137.9 407.6 138.2 407.8 138.5 408.1 138.4 408.3 137.8 408.6 137.8 408.8 138 409.1 138.1 409.3 138.3 409.6 137.4 409.8 136.4 410.1 135.4 410.3 134.7 410.6 133.2 410.8 132.9 411.1 131.7 411.3 132.8 411.6 134 411.8 136.3 412.1 139 412.3 141 412.6 143 412.8 144.2 413.1 144.6 413.3 143.8 413.6 142.7 413.8 141.1 414.1 141.1 414.3 140.1 414.6 139.3 414.8 138.4 415.1 138.6 415.3 138.3 415.6 138.7 415.8 138.8 416.1 138.6 416.3 138.7 416.6 138.2 416.8 138.1 417.1 138 417.3 137.8 417.6 138 417.8 138.1 418.1 138.6 418.3 137.5 418.6 137.6 418.8 137.6 419.1 137.7 419.3 138.1 419.6 138.3 419.8 138.3 420.1 138.2 420.3 138.4 420.6 138.4 420.8 137.8 421.1 137.9 421.3 137.7 421.6 137.6 421.8 137.9 422.1 138.1 422.3 138.2 422.6 138 422.8 138 423.1 137.9 423.3 138.2 423.6 138.4 423.8 138.9 424.1 139 424.3 138.5 424.6 138.3 424.8 138 425.1 138.2 425.3 138.8 425.6 138.8 425.8 138 426.1 137.7 426.3 137.6 426.6 138 426.8 138.1 427.1 138.3 427.3 138.8 427.6 138.4 427.8 138.1 428.1 138.8 428.3 138.7 428.6 138.3 428.8 137.7 429.1 137.5 429.3 137.1 429.6 137.6 429.8 137.9 430.1 138.3 430.3 138.3 430.6 138.1 430.8 137.9 431.1 138.7 431.3 138 431.6 138.2 431.8 138.2" stroke="#3a8cf2" stroke-width="1" fill="none" stroke-linejoin="round"/>
<rect x="259.3" y="18.6" width="3.4" height="3.4" fill="#a02c2c" stroke="none" stroke-width="1"/>
<rect x="290.5" y="20" width="3.4" height="3.4" fill="#a02c2c" stroke="none" stroke-width="1"/>
<rect x="301.6" y="11.8" width="3.4" height="3.4" fill="#a02c2c" stroke="none" stroke-width="1"/>
<rect x="322.3" y="20.3" width="3.4" height="3.4" fill="#a02c2c" stroke="none" stroke-width="1"/>
<rect x="333" y="11" width="3.4" height="3.4" fill="#a02c2c" stroke="none" stroke-width="1"/>
<rect x="344.8" y="21.1" width="3.4" height="3.4" fill="#a02c2c" stroke="none" stroke-width="1"/>
<rect x="364.5" y="13.5" width="3.4" height="3.4" fill="#a02c2c" stroke="none" stroke-width="1"/>
<rect x="376.6" y="20.6" width="3.4" height="3.4" fill="#a02c2c" stroke="none" stroke-width="1"/>
<rect x="409" y="20.6" width="3.4" height="3.4" fill="#a02c2c" stroke="none" stroke-width="1"/>
<rect x="244.2" y="10.5" width="188.2" height="153.7" fill="none" stroke="#000" stroke-width="1.5"/>
<line x1="261.9" y1="164.2" x2="261.9" y2="162.5" stroke="#000" stroke-width="1.1"/>
<line x1="280.8" y1="164.2" x2="280.8" y2="161.4" stroke="#000" stroke-width="1.1"/>
<text x="281" y="174.2" font-size="12" text-anchor="middle" fill="#000" font-weight="bold" font-family="Liberation Serif">3480</text>
<line x1="299.7" y1="164.2" x2="299.7" y2="162.5" stroke="#000" stroke-width="1.1"/>
<line x1="318.6" y1="164.2" x2="318.6" y2="161.4" stroke="#000" stroke-width="1.1"/>
<text x="318.8" y="174.2" font-size="12" text-anchor="middle" fill="#000" font-weight="bold" font-family="Liberation Serif">3500</text>
<line x1="337.5" y1="164.2" x2="337.5" y2="162.5" stroke="#000" stroke-width="1.1"/>
<line x1="356.4" y1="164.2" x2="356.4" y2="161.4" stroke="#000" stroke-width="1.1"/>
<text x="356.6" y="174.2" font-size="12" text-anchor="middle" fill="#000" font-weight="bold" font-family="Liberation Serif">3520</text>
<line x1="375.3" y1="164.2" x2="375.3" y2="162.5" stroke="#000" stroke-width="1.1"/>
<line x1="394.2" y1="164.2" x2="394.2" y2="161.4" stroke="#000" stroke-width="1.1"/>
<text x="394.4" y="174.2" font-size="12" text-anchor="middle" fill="#000" font-weight="bold" font-family="Liberation Serif">3540</text>
<line x1="413.1" y1="164.2" x2="413.1" y2="162.5" stroke="#000" stroke-width="1.1"/>
<text x="340.3" y="183.8" font-size="12.5" text-anchor="middle" fill="#000" font-weight="bold" font-family="Liberation Serif" textLength="93.3" lengthAdjust="spacingAndGlyphs">Magnetic Field (G)</text>
<text x="241.4" y="84" font-size="14" text-anchor="middle" fill="#000" font-weight="bold" font-family="Liberation Serif" textLength="88" lengthAdjust="spacingAndGlyphs" transform="rotate(-90 241.4 84)">Intensity (a.u.)</text>
<text x="230.6" y="12.8" font-size="18.3" text-anchor="start" fill="#000" font-weight="bold" font-family="Liberation Serif">b</text>
<rect x="255.9" y="59.9" width="3.8" height="4.1" fill="#9e1f1f" stroke="none" stroke-width="1"/>
<text x="260.9" y="67.6" font-size="12" text-anchor="start" fill="#b0403f" font-weight="bold" font-family="Liberation Serif">*</text>
<text x="268" y="67.6" font-size="12.8" text-anchor="start" fill="#9e1f1f" font-weight="bold" font-family="Liberation Serif">H</text>
<text x="376" y="59.2" font-size="12.5" text-anchor="start" fill="#a13131" font-weight="bold" font-family="Liberation Serif" textLength="48.8" lengthAdjust="spacingAndGlyphs">0.9SCNT</text>
<text x="383.6" y="114.8" font-size="12.5" text-anchor="start" fill="#f6a46a" font-weight="bold" font-family="Liberation Serif" textLength="39.8" lengthAdjust="spacingAndGlyphs">0SCNT</text>
<text x="390.5" y="155.2" font-size="12.5" text-anchor="start" fill="#3a8ef0" font-weight="bold" font-family="Liberation Serif" textLength="23.7" lengthAdjust="spacingAndGlyphs">CNT</text>
<rect x="480.3" y="116.3" width="17.8" height="47.5" fill="url(#go)" stroke="none" stroke-width="1"/>
<rect x="544.1" y="90.1" width="17.8" height="73.7" fill="url(#go)" stroke="none" stroke-width="1"/>
<rect x="607.8" y="54.7" width="17.8" height="109.1" fill="url(#go)" stroke="none" stroke-width="1"/>
<rect x="501.3" y="76.7" width="17.8" height="87.1" fill="url(#gb)" stroke="none" stroke-width="1"/>
<rect x="565.1" y="54.7" width="17.8" height="109.1" fill="url(#gb)" stroke="none" stroke-width="1"/>
<rect x="629" y="28.6" width="17.8" height="135.2" fill="url(#gb)" stroke="none" stroke-width="1"/>
<rect x="468" y="11.2" width="190.6" height="152.6" fill="none" stroke="#000" stroke-width="1.5"/>
<line x1="468" y1="163.8" x2="471" y2="163.8" stroke="#000" stroke-width="1.2"/>
<text x="466.6" y="167.7" font-size="13" text-anchor="end" fill="#000" font-weight="bold" font-family="Liberation Serif">0.0</text>
<line x1="468" y1="147.95" x2="469.7" y2="147.95" stroke="#000" stroke-width="1.2"/>
<line x1="468" y1="132.1" x2="471" y2="132.1" stroke="#000" stroke-width="1.2"/>
<text x="466.6" y="136" font-size="13" text-anchor="end" fill="#000" font-weight="bold" font-family="Liberation Serif">0.5</text>
<line x1="468" y1="116.25" x2="469.7" y2="116.25" stroke="#000" stroke-width="1.2"/>
<line x1="468" y1="100.4" x2="471" y2="100.4" stroke="#000" stroke-width="1.2"/>
<text x="466.6" y="104.3" font-size="13" text-anchor="end" fill="#000" font-weight="bold" font-family="Liberation Serif">1.0</text>
<line x1="468" y1="84.55" x2="469.7" y2="84.55" stroke="#000" stroke-width="1.2"/>
<line x1="468" y1="68.7" x2="471" y2="68.7" stroke="#000" stroke-width="1.2"/>
<text x="466.6" y="72.6" font-size="13" text-anchor="end" fill="#000" font-weight="bold" font-family="Liberation Serif">1.5</text>
<line x1="468" y1="52.85" x2="469.7" y2="52.85" stroke="#000" stroke-width="1.2"/>
<line x1="468" y1="37" x2="471" y2="37" stroke="#000" stroke-width="1.2"/>
<text x="466.6" y="40.9" font-size="13" text-anchor="end" fill="#000" font-weight="bold" font-family="Liberation Serif">2.0</text>
<line x1="468" y1="21.15" x2="469.7" y2="21.15" stroke="#000" stroke-width="1.2"/>
<line x1="655.6" y1="163.5" x2="658.6" y2="163.5" stroke="#000" stroke-width="1.2"/>
<text x="660.2" y="167.6" font-size="13" text-anchor="start" fill="#000" font-weight="bold" font-family="Liberation Serif">0</text>
<line x1="656.9" y1="141.82" x2="658.6" y2="141.82" stroke="#000" stroke-width="1.2"/>
<line x1="655.6" y1="120.15" x2="658.6" y2="120.15" stroke="#000" stroke-width="1.2"/>
<text x="660.2" y="124.25" font-size="13" text-anchor="start" fill="#000" font-weight="bold" font-family="Liberation Serif">-1</text>
<line x1="656.9" y1="98.47" x2="658.6" y2="98.47" stroke="#000" stroke-width="1.2"/>
<line x1="655.6" y1="76.8" x2="658.6" y2="76.8" stroke="#000" stroke-width="1.2"/>
<text x="660.2" y="80.9" font-size="13" text-anchor="start" fill="#000" font-weight="bold" font-family="Liberation Serif">-2</text>
<line x1="656.9" y1="55.12" x2="658.6" y2="55.12" stroke="#000" stroke-width="1.2"/>
<line x1="655.6" y1="33.45" x2="658.6" y2="33.45" stroke="#000" stroke-width="1.2"/>
<text x="660.2" y="37.55" font-size="13" text-anchor="start" fill="#000" font-weight="bold" font-family="Liberation Serif">-3</text>
<rect x="527.6" y="16.1" width="15.4" height="8.4" fill="url(#gb)" stroke="none" stroke-width="1"/>
<text x="548.6" y="24.2" font-size="11.5" text-anchor="start" fill="#000" font-weight="bold" font-family="Liberation Serif">H<tspan dy="2.2" font-size="70%">2</tspan><tspan dy="-2.2">O</tspan></text>
<rect x="575.5" y="16" width="14.6" height="7.8" fill="url(#go)" stroke="none" stroke-width="1"/>
<text x="596.5" y="24.2" font-size="11.5" text-anchor="start" fill="#000" font-weight="bold" font-family="Liberation Serif">D<tspan dy="2.2" font-size="70%">2</tspan><tspan dy="-2.2">O</tspan></text>
<path d="M499.5 41.4 501.5 46.8 507.3 47.1 502.8 50.7 504.3 56.2 499.5 53 494.7 56.2 496.2 50.7 491.7 47.1 497.5 46.8Z" stroke="none" stroke-width="0" fill="#971c1c"/>
<path d="M563.3 60.3 565.3 65.7 571.1 66 566.6 69.6 568.1 75.1 563.3 71.9 558.5 75.1 560 69.6 555.5 66 561.3 65.7Z" stroke="none" stroke-width="0" fill="#971c1c"/>
<path d="M627.1 79.5 629.1 84.9 634.9 85.2 630.4 88.8 631.9 94.3 627.1 91.1 622.3 94.3 623.8 88.8 619.3 85.2 625.1 84.9Z" stroke="none" stroke-width="0" fill="#971c1c"/>
<line x1="500.4" y1="61" x2="476" y2="61" stroke="#962424" stroke-width="1.4"/>
<path d="M470 61 476.5 57.7 476.5 64.3Z" stroke="none" stroke-width="0" fill="#962424"/>
<line x1="620.2" y1="106.2" x2="649.5" y2="106.2" stroke="#f7922f" stroke-width="1.4"/>
<path d="M655.5 106.2 649 109.5 649 102.9Z" stroke="none" stroke-width="0" fill="#f7922f"/>
<text x="500.75" y="175.6" font-size="12" text-anchor="middle" fill="#000" font-weight="bold" font-family="Liberation Serif" textLength="40.3" lengthAdjust="spacingAndGlyphs">0SCNT</text>
<text x="563.9" y="175.6" font-size="12" text-anchor="middle" fill="#000" font-weight="bold" font-family="Liberation Serif" textLength="49" lengthAdjust="spacingAndGlyphs">0.4SCNT</text>
<text x="628.1" y="175.6" font-size="12" text-anchor="middle" fill="#000" font-weight="bold" font-family="Liberation Serif" textLength="49.4" lengthAdjust="spacingAndGlyphs">0.9SCNT</text>
<text x="454.4" y="10.1" font-size="18.3" text-anchor="start" fill="#000" font-weight="bold" font-family="Liberation Serif">c</text>
<text x="447.3" y="87.9" font-size="12.4" text-anchor="middle" fill="#000" font-weight="bold" font-family="Liberation Serif" transform="rotate(-90 447.3 87.9)">KIE (<tspan font-style="italic">j</tspan><tspan dy="2.6" font-size="62%">H2O</tspan><tspan dy="-2.6">/</tspan><tspan font-style="italic">j</tspan><tspan dy="2.6" font-size="62%">D2O</tspan><tspan dy="-2.6">)</tspan></text>
<text x="683.4" y="90.6" font-size="13.6" text-anchor="middle" fill="#000" font-weight="bold" font-family="Liberation Serif" transform="rotate(-90 683.4 90.6)">J (mA cm<tspan dy="-4.7" font-size="70%">-2</tspan><tspan dy="4.7">)</tspan></text>
<rect x="27.9" y="188.9" width="406.2" height="176.7" fill="none" stroke="#1a1a1a" stroke-width="1.6" stroke-dasharray="4.9 3.9"/>
<text x="15.4" y="202.7" font-size="18.3" text-anchor="start" fill="#000" font-weight="bold" font-family="Liberation Serif">d</text>
<clipPath id="ct1"><rect x="33.3" y="221.4" width="33.3" height="100.9"/></clipPath>
<g clip-path="url(#ct1)">
<rect x="34.3" y="221.4" width="31.3" height="100.9" fill="#ffffff" stroke="none" stroke-width="1"/>
<path d="M35.95 212.14L35.03 216.43M35.03 216.43L34.3 216.43M34.3 207.85L35.03 207.85M35.03 207.85L35.95 212.14M35.95 220.71L35.03 225M35.03 225L34.3 225M34.3 216.43L35.03 216.43M35.03 216.43L35.95 220.71M35.95 229.29L35.03 233.57M35.03 233.57L34.3 233.57M34.3 225L35.03 225M35.03 225L35.95 229.29M35.95 237.86L35.03 242.15M35.03 242.15L34.3 242.15M34.3 233.57L35.03 233.57M35.03 233.57L35.95 237.86M35.95 246.43L35.03 250.72M35.03 250.72L34.3 250.72M34.3 242.15L35.03 242.15M35.03 242.15L35.95 246.43M35.95 255.01L35.03 259.29M35.03 259.29L34.3 259.29M34.3 250.72L35.03 250.72M35.03 250.72L35.95 255.01M35.95 263.58L35.03 267.87M35.03 267.87L34.3 267.87M34.3 259.29L35.03 259.29M35.03 259.29L35.95 263.58M35.95 272.16L35.03 276.44M35.03 276.44L34.3 276.44M34.3 267.87L35.03 267.87M35.03 267.87L35.95 272.16M35.95 280.73L35.03 285.02M35.03 285.02L34.3 285.02M34.3 276.44L35.03 276.44M35.03 276.44L35.95 280.73M35.95 289.3L35.03 293.59M35.03 293.59L34.3 293.59M34.3 285.02L35.03 285.02M35.03 285.02L35.95 289.3M35.95 297.88L35.03 302.16M35.03 302.16L34.3 302.16M34.3 293.59L35.03 293.59M35.03 293.59L35.95 297.88M35.95 306.45L35.03 310.74M35.03 310.74L34.3 310.74M34.3 302.16L35.03 302.16M35.03 302.16L35.95 306.45M35.95 315.02L35.03 319.31M35.03 319.31L34.3 319.31M34.3 310.74L35.03 310.74M35.03 310.74L35.95 315.02M35.95 323.6L35.03 327.88M35.03 327.88L34.3 327.88M34.3 319.31L35.03 319.31M35.03 319.31L35.95 323.6M40.7 207.85L38.82 212.14M38.82 212.14L35.95 212.14M35.95 212.14L35.03 207.85M35.03 207.85L35.95 203.57M35.95 203.57L38.82 203.57M38.82 203.57L40.7 207.85M40.7 216.43L38.82 220.71M38.82 220.71L35.95 220.71M35.95 220.71L35.03 216.43M35.03 216.43L35.95 212.14M35.95 212.14L38.82 212.14M38.82 212.14L40.7 216.43M40.7 225L38.82 229.29M38.82 229.29L35.95 229.29M35.95 229.29L35.03 225M35.03 225L35.95 220.71M35.95 220.71L38.82 220.71M38.82 220.71L40.7 225M40.7 233.57L38.82 237.86M38.82 237.86L35.95 237.86M35.95 237.86L35.03 233.57M35.03 233.57L35.95 229.29M35.95 229.29L38.82 229.29M38.82 229.29L40.7 233.57M40.7 242.15L38.82 246.43M38.82 246.43L35.95 246.43M35.95 246.43L35.03 242.15M35.03 242.15L35.95 237.86M35.95 237.86L38.82 237.86M38.82 237.86L40.7 242.15M40.7 250.72L38.82 255.01M38.82 255.01L35.95 255.01M35.95 255.01L35.03 250.72M35.03 250.72L35.95 246.43M35.95 246.43L38.82 246.43M38.82 246.43L40.7 250.72M40.7 259.29L38.82 263.58M38.82 263.58L35.95 263.58M35.95 263.58L35.03 259.29M35.03 259.29L35.95 255.01M35.95 255.01L38.82 255.01M38.82 255.01L40.7 259.29M40.7 267.87L38.82 272.16M38.82 272.16L35.95 272.16M35.95 272.16L35.03 267.87M35.03 267.87L35.95 263.58M35.95 263.58L38.82 263.58M38.82 263.58L40.7 267.87M40.7 276.44L38.82 280.73M38.82 280.73L35.95 280.73M35.95 280.73L35.03 276.44M35.03 276.44L35.95 272.16M35.95 272.16L38.82 272.16M38.82 272.16L40.7 276.44M40.7 285.02L38.82 289.3M38.82 289.3L35.95 289.3M35.95 289.3L35.03 285.02M35.03 285.02L35.95 280.73M35.95 280.73L38.82 280.73M38.82 280.73L40.7 285.02M40.7 293.59L38.82 297.88M38.82 297.88L35.95 297.88M35.95 297.88L35.03 293.59M35.03 293.59L35.95 289.3M35.95 289.3L38.82 289.3M38.82 289.3L40.7 293.59M40.7 302.16L38.82 306.45M38.82 306.45L35.95 306.45M35.95 306.45L35.03 302.16M35.03 302.16L35.95 297.88M35.95 297.88L38.82 297.88M38.82 297.88L40.7 302.16M40.7 310.74L38.82 315.02M38.82 315.02L35.95 315.02M35.95 315.02L35.03 310.74M35.03 310.74L35.95 306.45M35.95 306.45L38.82 306.45M38.82 306.45L40.7 310.74M40.7 319.31L38.82 323.6M38.82 323.6L35.95 323.6M35.95 323.6L35.03 319.31M35.03 319.31L35.95 315.02M35.95 315.02L38.82 315.02M38.82 315.02L40.7 319.31M40.7 327.88L38.82 332.17M38.82 332.17L35.95 332.17M35.95 332.17L35.03 327.88M35.03 327.88L35.95 323.6M35.95 323.6L38.82 323.6M38.82 323.6L40.7 327.88M47.49 212.14L45.08 216.43M45.08 216.43L40.7 216.43M40.7 216.43L38.82 212.14M38.82 212.14L40.7 207.85M40.7 207.85L45.08 207.85M45.08 207.85L47.49 212.14M47.49 220.71L45.08 225M45.08 225L40.7 225M40.7 225L38.82 220.71M38.82 220.71L40.7 216.43M40.7 216.43L45.08 216.43M45.08 216.43L47.49 220.71M47.49 229.29L45.08 233.57M45.08 233.57L40.7 233.57M40.7 233.57L38.82 229.29M38.82 229.29L40.7 225M40.7 225L45.08 225M45.08 225L47.49 229.29M47.49 237.86L45.08 242.15M45.08 242.15L40.7 242.15M40.7 242.15L38.82 237.86M38.82 237.86L40.7 233.57M40.7 233.57L45.08 233.57M45.08 233.57L47.49 237.86M47.49 246.43L45.08 250.72M45.08 250.72L40.7 250.72M40.7 250.72L38.82 246.43M38.82 246.43L40.7 242.15M40.7 242.15L45.08 242.15M45.08 242.15L47.49 246.43M47.49 255.01L45.08 259.29M45.08 259.29L40.7 259.29M40.7 259.29L38.82 255.01M38.82 255.01L40.7 250.72M40.7 250.72L45.08 250.72M45.08 250.72L47.49 255.01M47.49 263.58L45.08 267.87M45.08 267.87L40.7 267.87M40.7 267.87L38.82 263.58M38.82 263.58L40.7 259.29M40.7 259.29L45.08 259.29M45.08 259.29L47.49 263.58M47.49 272.16L45.08 276.44M45.08 276.44L40.7 276.44M40.7 276.44L38.82 272.16M38.82 272.16L40.7 267.87M40.7 267.87L45.08 267.87M45.08 267.87L47.49 272.16M47.49 280.73L45.08 285.02M45.08 285.02L40.7 285.02M40.7 285.02L38.82 280.73M38.82 280.73L40.7 276.44M40.7 276.44L45.08 276.44M45.08 276.44L47.49 280.73M47.49 289.3L45.08 293.59M45.08 293.59L40.7 293.59M40.7 293.59L38.82 289.3M38.82 289.3L40.7 285.02M40.7 285.02L45.08 285.02M45.08 285.02L47.49 289.3M47.49 297.88L45.08 302.16M45.08 302.16L40.7 302.16M40.7 302.16L38.82 297.88M38.82 297.88L40.7 293.59M40.7 293.59L45.08 293.59M45.08 293.59L47.49 297.88M47.49 306.45L45.08 310.74M45.08 310.74L40.7 310.74M40.7 310.74L38.82 306.45M38.82 306.45L40.7 302.16M40.7 302.16L45.08 302.16M45.08 302.16L47.49 306.45M47.49 315.02L45.08 319.31M45.08 319.31L40.7 319.31M40.7 319.31L38.82 315.02M38.82 315.02L40.7 310.74M40.7 310.74L45.08 310.74M45.08 310.74L47.49 315.02M47.49 323.6L45.08 327.88M45.08 327.88L40.7 327.88M40.7 327.88L38.82 323.6M38.82 323.6L40.7 319.31M40.7 319.31L45.08 319.31M45.08 319.31L47.49 323.6M54.82 207.85L52.41 212.14M52.41 212.14L47.49 212.14M47.49 212.14L45.08 207.85M45.08 207.85L47.49 203.57M47.49 203.57L52.41 203.57M52.41 203.57L54.82 207.85M54.82 216.43L52.41 220.71M52.41 220.71L47.49 220.71M47.49 220.71L45.08 216.43M45.08 216.43L47.49 212.14M47.49 212.14L52.41 212.14M52.41 212.14L54.82 216.43M54.82 225L52.41 229.29M52.41 229.29L47.49 229.29M47.49 229.29L45.08 225M45.08 225L47.49 220.71M47.49 220.71L52.41 220.71M52.41 220.71L54.82 225M54.82 233.57L52.41 237.86M52.41 237.86L47.49 237.86M47.49 237.86L45.08 233.57M45.08 233.57L47.49 229.29M47.49 229.29L52.41 229.29M52.41 229.29L54.82 233.57M54.82 242.15L52.41 246.43M52.41 246.43L47.49 246.43M47.49 246.43L45.08 242.15M45.08 242.15L47.49 237.86M47.49 237.86L52.41 237.86M52.41 237.86L54.82 242.15M54.82 250.72L52.41 255.01M52.41 255.01L47.49 255.01M47.49 255.01L45.08 250.72M45.08 250.72L47.49 246.43M47.49 246.43L52.41 246.43M52.41 246.43L54.82 250.72M54.82 259.29L52.41 263.58M52.41 263.58L47.49 263.58M47.49 263.58L45.08 259.29M45.08 259.29L47.49 255.01M47.49 255.01L52.41 255.01M52.41 255.01L54.82 259.29M54.82 267.87L52.41 272.16M52.41 272.16L47.49 272.16M47.49 272.16L45.08 267.87M45.08 267.87L47.49 263.58M47.49 263.58L52.41 263.58M52.41 263.58L54.82 267.87M54.82 276.44L52.41 280.73M52.41 280.73L47.49 280.73M47.49 280.73L45.08 276.44M45.08 276.44L47.49 272.16M47.49 272.16L52.41 272.16M52.41 272.16L54.82 276.44M54.82 285.02L52.41 289.3M52.41 289.3L47.49 289.3M47.49 289.3L45.08 285.02M45.08 285.02L47.49 280.73M47.49 280.73L52.41 280.73M52.41 280.73L54.82 285.02M54.82 293.59L52.41 297.88M52.41 297.88L47.49 297.88M47.49 297.88L45.08 293.59M45.08 293.59L47.49 289.3M47.49 289.3L52.41 289.3M52.41 289.3L54.82 293.59M54.82 302.16L52.41 306.45M52.41 306.45L47.49 306.45M47.49 306.45L45.08 302.16M45.08 302.16L47.49 297.88M47.49 297.88L52.41 297.88M52.41 297.88L54.82 302.16M54.82 310.74L52.41 315.02M52.41 315.02L47.49 315.02M47.49 315.02L45.08 310.74M45.08 310.74L47.49 306.45M47.49 306.45L52.41 306.45M52.41 306.45L54.82 310.74M54.82 319.31L52.41 323.6M52.41 323.6L47.49 323.6M47.49 323.6L45.08 319.31M45.08 319.31L47.49 315.02M47.49 315.02L52.41 315.02M52.41 315.02L54.82 319.31M54.82 327.88L52.41 332.17M52.41 332.17L47.49 332.17M47.49 332.17L45.08 327.88M45.08 327.88L47.49 323.6M47.49 323.6L52.41 323.6M52.41 323.6L54.82 327.88M61.08 212.14L59.2 216.43M59.2 216.43L54.82 216.43M54.82 216.43L52.41 212.14M52.41 212.14L54.82 207.85M54.82 207.85L59.2 207.85M59.2 207.85L61.08 212.14M61.08 220.71L59.2 225M59.2 225L54.82 225M54.82 225L52.41 220.71M52.41 220.71L54.82 216.43M54.82 216.43L59.2 216.43M59.2 216.43L61.08 220.71M61.08 229.29L59.2 233.57M59.2 233.57L54.82 233.57M54.82 233.57L52.41 229.29M52.41 229.29L54.82 225M54.82 225L59.2 225M59.2 225L61.08 229.29M61.08 237.86L59.2 242.15M59.2 242.15L54.82 242.15M54.82 242.15L52.41 237.86M52.41 237.86L54.82 233.57M54.82 233.57L59.2 233.57M59.2 233.57L61.08 237.86M61.08 246.43L59.2 250.72M59.2 250.72L54.82 250.72M54.82 250.72L52.41 246.43M52.41 246.43L54.82 242.15M54.82 242.15L59.2 242.15M59.2 242.15L61.08 246.43M61.08 255.01L59.2 259.29M59.2 259.29L54.82 259.29M54.82 259.29L52.41 255.01M52.41 255.01L54.82 250.72M54.82 250.72L59.2 250.72M59.2 250.72L61.08 255.01M61.08 263.58L59.2 267.87M59.2 267.87L54.82 267.87M54.82 267.87L52.41 263.58M52.41 263.58L54.82 259.29M54.82 259.29L59.2 259.29M59.2 259.29L61.08 263.58M61.08 272.16L59.2 276.44M59.2 276.44L54.82 276.44M54.82 276.44L52.41 272.16M52.41 272.16L54.82 267.87M54.82 267.87L59.2 267.87M59.2 267.87L61.08 272.16M61.08 280.73L59.2 285.02M59.2 285.02L54.82 285.02M54.82 285.02L52.41 280.73M52.41 280.73L54.82 276.44M54.82 276.44L59.2 276.44M59.2 276.44L61.08 280.73M61.08 289.3L59.2 293.59M59.2 293.59L54.82 293.59M54.82 293.59L52.41 289.3M52.41 289.3L54.82 285.02M54.82 285.02L59.2 285.02M59.2 285.02L61.08 289.3M61.08 297.88L59.2 302.16M59.2 302.16L54.82 302.16M54.82 302.16L52.41 297.88M52.41 297.88L54.82 293.59M54.82 293.59L59.2 293.59M59.2 293.59L61.08 297.88M61.08 306.45L59.2 310.74M59.2 310.74L54.82 310.74M54.82 310.74L52.41 306.45M52.41 306.45L54.82 302.16M54.82 302.16L59.2 302.16M59.2 302.16L61.08 306.45M61.08 315.02L59.2 319.31M59.2 319.31L54.82 319.31M54.82 319.31L52.41 315.02M52.41 315.02L54.82 310.74M54.82 310.74L59.2 310.74M59.2 310.74L61.08 315.02M61.08 323.6L59.2 327.88M59.2 327.88L54.82 327.88M54.82 327.88L52.41 323.6M52.41 323.6L54.82 319.31M54.82 319.31L59.2 319.31M59.2 319.31L61.08 323.6M64.87 207.85L63.95 212.14M63.95 212.14L61.08 212.14M61.08 212.14L59.2 207.85M59.2 207.85L61.08 203.57M61.08 203.57L63.95 203.57M63.95 203.57L64.87 207.85M64.87 216.43L63.95 220.71M63.95 220.71L61.08 220.71M61.08 220.71L59.2 216.43M59.2 216.43L61.08 212.14M61.08 212.14L63.95 212.14M63.95 212.14L64.87 216.43M64.87 225L63.95 229.29M63.95 229.29L61.08 229.29M61.08 229.29L59.2 225M59.2 225L61.08 220.71M61.08 220.71L63.95 220.71M63.95 220.71L64.87 225M64.87 233.57L63.95 237.86M63.95 237.86L61.08 237.86M61.08 237.86L59.2 233.57M59.2 233.57L61.08 229.29M61.08 229.29L63.95 229.29M63.95 229.29L64.87 233.57M64.87 242.15L63.95 246.43M63.95 246.43L61.08 246.43M61.08 246.43L59.2 242.15M59.2 242.15L61.08 237.86M61.08 237.86L63.95 237.86M63.95 237.86L64.87 242.15M64.87 250.72L63.95 255.01M63.95 255.01L61.08 255.01M61.08 255.01L59.2 250.72M59.2 250.72L61.08 246.43M61.08 246.43L63.95 246.43M63.95 246.43L64.87 250.72M64.87 259.29L63.95 263.58M63.95 263.58L61.08 263.58M61.08 263.58L59.2 259.29M59.2 259.29L61.08 255.01M61.08 255.01L63.95 255.01M63.95 255.01L64.87 259.29M64.87 267.87L63.95 272.16M63.95 272.16L61.08 272.16M61.08 272.16L59.2 267.87M59.2 267.87L61.08 263.58M61.08 263.58L63.95 263.58M63.95 263.58L64.87 267.87M64.87 276.44L63.95 280.73M63.95 280.73L61.08 280.73M61.08 280.73L59.2 276.44M59.2 276.44L61.08 272.16M61.08 272.16L63.95 272.16M63.95 272.16L64.87 276.44M64.87 285.02L63.95 289.3M63.95 289.3L61.08 289.3M61.08 289.3L59.2 285.02M59.2 285.02L61.08 280.73M61.08 280.73L63.95 280.73M63.95 280.73L64.87 285.02M64.87 293.59L63.95 297.88M63.95 297.88L61.08 297.88M61.08 297.88L59.2 293.59M59.2 293.59L61.08 289.3M61.08 289.3L63.95 289.3M63.95 289.3L64.87 293.59M64.87 302.16L63.95 306.45M63.95 306.45L61.08 306.45M61.08 306.45L59.2 302.16M59.2 302.16L61.08 297.88M61.08 297.88L63.95 297.88M63.95 297.88L64.87 302.16M64.87 310.74L63.95 315.02M63.95 315.02L61.08 315.02M61.08 315.02L59.2 310.74M59.2 310.74L61.08 306.45M61.08 306.45L63.95 306.45M63.95 306.45L64.87 310.74M64.87 319.31L63.95 323.6M63.95 323.6L61.08 323.6M61.08 323.6L59.2 319.31M59.2 319.31L61.08 315.02M61.08 315.02L63.95 315.02M63.95 315.02L64.87 319.31M64.87 327.88L63.95 332.17M63.95 332.17L61.08 332.17M61.08 332.17L59.2 327.88M59.2 327.88L61.08 323.6M61.08 323.6L63.95 323.6M63.95 323.6L64.87 327.88M65.6 216.43L64.87 216.43M64.87 216.43L63.95 212.14M63.95 212.14L64.87 207.85M64.87 207.85L65.6 207.85M65.6 225L64.87 225M64.87 225L63.95 220.71M63.95 220.71L64.87 216.43M64.87 216.43L65.6 216.43M65.6 233.57L64.87 233.57M64.87 233.57L63.95 229.29M63.95 229.29L64.87 225M64.87 225L65.6 225M65.6 242.15L64.87 242.15M64.87 242.15L63.95 237.86M63.95 237.86L64.87 233.57M64.87 233.57L65.6 233.57M65.6 250.72L64.87 250.72M64.87 250.72L63.95 246.43M63.95 246.43L64.87 242.15M64.87 242.15L65.6 242.15M65.6 259.29L64.87 259.29M64.87 259.29L63.95 255.01M63.95 255.01L64.87 250.72M64.87 250.72L65.6 250.72M65.6 267.87L64.87 267.87M64.87 267.87L63.95 263.58M63.95 263.58L64.87 259.29M64.87 259.29L65.6 259.29M65.6 276.44L64.87 276.44M64.87 276.44L63.95 272.16M63.95 272.16L64.87 267.87M64.87 267.87L65.6 267.87M65.6 285.02L64.87 285.02M64.87 285.02L63.95 280.73M63.95 280.73L64.87 276.44M64.87 276.44L65.6 276.44M65.6 293.59L64.87 293.59M64.87 293.59L63.95 289.3M63.95 289.3L64.87 285.02M64.87 285.02L65.6 285.02M65.6 302.16L64.87 302.16M64.87 302.16L63.95 297.88M63.95 297.88L64.87 293.59M64.87 293.59L65.6 293.59M65.6 310.74L64.87 310.74M64.87 310.74L63.95 306.45M63.95 306.45L64.87 302.16M64.87 302.16L65.6 302.16M65.6 319.31L64.87 319.31M64.87 319.31L63.95 315.02M63.95 315.02L64.87 310.74M64.87 310.74L65.6 310.74M65.6 327.88L64.87 327.88M64.87 327.88L63.95 323.6M63.95 323.6L64.87 319.31M64.87 319.31L65.6 319.31" stroke="#8a8a8a" stroke-width="1.6" fill="none" stroke-linecap="round"/>
<path d="M34.3 225h0M34.3 233.6h0M34.3 242.1h0M34.3 250.7h0M34.3 259.3h0M34.3 267.9h0M34.3 276.4h0M34.3 285h0M34.3 293.6h0M34.3 302.2h0M34.3 310.7h0M34.3 319.3h0M35 225h0M35 233.6h0M35 242.1h0M35 250.7h0M35 259.3h0M35 267.9h0M35 276.4h0M35 285h0M35 293.6h0M35 302.2h0M35 310.7h0M35 319.3h0M36 229.3h0M36 237.9h0M36 246.4h0M36 255h0M36 263.6h0M36 272.2h0M36 280.7h0M36 289.3h0M36 297.9h0M36 306.4h0M36 315h0M38.8 229.3h0M38.8 237.9h0M38.8 246.4h0M38.8 255h0M38.8 263.6h0M38.8 272.2h0M38.8 280.7h0M38.8 289.3h0M38.8 297.9h0M38.8 306.4h0M38.8 315h0M40.7 225h0M40.7 233.6h0M40.7 242.1h0M40.7 250.7h0M40.7 259.3h0M40.7 267.9h0M40.7 276.4h0M40.7 285h0M40.7 293.6h0M40.7 302.2h0M40.7 310.7h0M40.7 319.3h0M45.1 225h0M45.1 233.6h0M45.1 242.1h0M45.1 250.7h0M45.1 259.3h0M45.1 267.9h0M45.1 276.4h0M45.1 285h0M45.1 293.6h0M45.1 302.2h0M45.1 310.7h0M45.1 319.3h0M47.5 229.3h0M47.5 237.9h0M47.5 246.4h0M47.5 255h0M47.5 263.6h0M47.5 272.2h0M47.5 280.7h0M47.5 289.3h0M47.5 297.9h0M47.5 306.4h0M47.5 315h0M52.4 229.3h0M52.4 237.9h0M52.4 246.4h0M52.4 255h0M52.4 263.6h0M52.4 272.2h0M52.4 280.7h0M52.4 289.3h0M52.4 297.9h0M52.4 306.4h0M52.4 315h0M54.8 225h0M54.8 233.6h0M54.8 242.1h0M54.8 250.7h0M54.8 259.3h0M54.8 267.9h0M54.8 276.4h0M54.8 285h0M54.8 293.6h0M54.8 302.2h0M54.8 310.7h0M54.8 319.3h0M59.2 225h0M59.2 233.6h0M59.2 242.1h0M59.2 250.7h0M59.2 259.3h0M59.2 267.9h0M59.2 276.4h0M59.2 285h0M59.2 293.6h0M59.2 302.2h0M59.2 310.7h0M59.2 319.3h0M61.1 229.3h0M61.1 237.9h0M61.1 246.4h0M61.1 255h0M61.1 263.6h0M61.1 272.2h0M61.1 280.7h0M61.1 289.3h0M61.1 297.9h0M61.1 306.4h0M61.1 315h0M63.9 229.3h0M63.9 237.9h0M63.9 246.4h0M63.9 255h0M63.9 263.6h0M63.9 272.2h0M63.9 280.7h0M63.9 289.3h0M63.9 297.9h0M63.9 306.4h0M63.9 315h0M64.9 225h0M64.9 233.6h0M64.9 242.1h0M64.9 250.7h0M64.9 259.3h0M64.9 267.9h0M64.9 276.4h0M64.9 285h0M64.9 293.6h0M64.9 302.2h0M64.9 310.7h0M64.9 319.3h0M65.6 225h0M65.6 233.6h0M65.6 242.1h0M65.6 250.7h0M65.6 259.3h0M65.6 267.9h0M65.6 276.4h0M65.6 285h0M65.6 293.6h0M65.6 302.2h0M65.6 310.7h0M65.6 319.3h0" stroke="#626262" stroke-width="2.4" fill="none" stroke-linecap="round"/>
</g>
<rect x="34.3" y="221.4" width="31.3" height="100.9" fill="url(#tubeg)"/>
<clipPath id="ct2"><rect x="152.4" y="222.8" width="33.4" height="101.5"/></clipPath>
<g clip-path="url(#ct2)">
<rect x="153.4" y="222.8" width="31.4" height="101.5" fill="#ffffff" stroke="none" stroke-width="1"/>
<path d="M155.08 213.54L154.15 217.83M154.15 217.83L153.4 217.83M153.4 209.25L154.15 209.25M154.15 209.25L155.08 213.54M155.08 222.11L154.15 226.4M154.15 226.4L153.4 226.4M153.4 217.83L154.15 217.83M154.15 217.83L155.08 222.11M155.08 230.69L154.15 234.97M154.15 234.97L153.4 234.97M153.4 226.4L154.15 226.4M154.15 226.4L155.08 230.69M155.08 239.26L154.15 243.55M154.15 243.55L153.4 243.55M153.4 234.97L154.15 234.97M154.15 234.97L155.08 239.26M155.08 247.83L154.15 252.12M154.15 252.12L153.4 252.12M153.4 243.55L154.15 243.55M154.15 243.55L155.08 247.83M155.08 256.41L154.15 260.69M154.15 260.69L153.4 260.69M153.4 252.12L154.15 252.12M154.15 252.12L155.08 256.41M155.08 264.98L154.15 269.27M154.15 269.27L153.4 269.27M153.4 260.69L154.15 260.69M154.15 260.69L155.08 264.98M155.08 273.56L154.15 277.84M154.15 277.84L153.4 277.84M153.4 269.27L154.15 269.27M154.15 269.27L155.08 273.56M155.08 282.13L154.15 286.42M154.15 286.42L153.4 286.42M153.4 277.84L154.15 277.84M154.15 277.84L155.08 282.13M155.08 290.7L154.15 294.99M154.15 294.99L153.4 294.99M153.4 286.42L154.15 286.42M154.15 286.42L155.08 290.7M155.08 299.28L154.15 303.56M154.15 303.56L153.4 303.56M153.4 294.99L154.15 294.99M154.15 294.99L155.08 299.28M155.08 307.85L154.15 312.14M154.15 312.14L153.4 312.14M153.4 303.56L154.15 303.56M154.15 303.56L155.08 307.85M155.08 316.42L154.15 320.71M154.15 320.71L153.4 320.71M153.4 312.14L154.15 312.14M154.15 312.14L155.08 316.42M155.08 325L154.15 329.28M154.15 329.28L153.4 329.28M153.4 320.71L154.15 320.71M154.15 320.71L155.08 325M159.84 209.25L157.97 213.54M157.97 213.54L155.08 213.54M155.08 213.54L154.15 209.25M154.15 209.25L155.08 204.97M155.08 204.97L157.97 204.97M157.97 204.97L159.84 209.25M159.84 217.83L157.97 222.11M157.97 222.11L155.08 222.11M155.08 222.11L154.15 217.83M154.15 217.83L155.08 213.54M155.08 213.54L157.97 213.54M157.97 213.54L159.84 217.83M159.84 226.4L157.97 230.69M157.97 230.69L155.08 230.69M155.08 230.69L154.15 226.4M154.15 226.4L155.08 222.11M155.08 222.11L157.97 222.11M157.97 222.11L159.84 226.4M159.84 234.97L157.97 239.26M157.97 239.26L155.08 239.26M155.08 239.26L154.15 234.97M154.15 234.97L155.08 230.69M155.08 230.69L157.97 230.69M157.97 230.69L159.84 234.97M159.84 243.55L157.97 247.83M157.97 247.83L155.08 247.83M155.08 247.83L154.15 243.55M154.15 243.55L155.08 239.26M155.08 239.26L157.97 239.26M157.97 239.26L159.84 243.55M159.84 252.12L157.97 256.41M157.97 256.41L155.08 256.41M155.08 256.41L154.15 252.12M154.15 252.12L155.08 247.83M155.08 247.83L157.97 247.83M157.97 247.83L159.84 252.12M159.84 260.69L157.97 264.98M157.97 264.98L155.08 264.98M155.08 264.98L154.15 260.69M154.15 260.69L155.08 256.41M155.08 256.41L157.97 256.41M157.97 256.41L159.84 260.69M159.84 269.27L157.97 273.56M157.97 273.56L155.08 273.56M155.08 273.56L154.15 269.27M154.15 269.27L155.08 264.98M155.08 264.98L157.97 264.98M157.97 264.98L159.84 269.27M159.84 277.84L157.97 282.13M157.97 282.13L155.08 282.13M155.08 282.13L154.15 277.84M154.15 277.84L155.08 273.56M155.08 273.56L157.97 273.56M157.97 273.56L159.84 277.84M159.84 286.42L157.97 290.7M157.97 290.7L155.08 290.7M155.08 290.7L154.15 286.42M154.15 286.42L155.08 282.13M155.08 282.13L157.97 282.13M157.97 282.13L159.84 286.42M159.84 294.99L157.97 299.28M157.97 299.28L155.08 299.28M155.08 299.28L154.15 294.99M154.15 294.99L155.08 290.7M155.08 290.7L157.97 290.7M157.97 290.7L159.84 294.99M159.84 303.56L157.97 307.85M157.97 307.85L155.08 307.85M155.08 307.85L154.15 303.56M154.15 303.56L155.08 299.28M155.08 299.28L157.97 299.28M157.97 299.28L159.84 303.56M159.84 312.14L157.97 316.42M157.97 316.42L155.08 316.42M155.08 316.42L154.15 312.14M154.15 312.14L155.08 307.85M155.08 307.85L157.97 307.85M157.97 307.85L159.84 312.14M159.84 320.71L157.97 325M157.97 325L155.08 325M155.08 325L154.15 320.71M154.15 320.71L155.08 316.42M155.08 316.42L157.97 316.42M157.97 316.42L159.84 320.71M159.84 329.28L157.97 333.57M157.97 333.57L155.08 333.57M155.08 333.57L154.15 329.28M154.15 329.28L155.08 325M155.08 325L157.97 325M157.97 325L159.84 329.28M166.64 213.54L164.23 217.83M164.23 217.83L159.84 217.83M159.84 217.83L157.97 213.54M157.97 213.54L159.84 209.25M159.84 209.25L164.23 209.25M164.23 209.25L166.64 213.54M166.64 222.11L164.23 226.4M164.23 226.4L159.84 226.4M159.84 226.4L157.97 222.11M157.97 222.11L159.84 217.83M159.84 217.83L164.23 217.83M164.23 217.83L166.64 222.11M166.64 230.69L164.23 234.97M164.23 234.97L159.84 234.97M159.84 234.97L157.97 230.69M157.97 230.69L159.84 226.4M159.84 226.4L164.23 226.4M164.23 226.4L166.64 230.69M166.64 239.26L164.23 243.55M164.23 243.55L159.84 243.55M159.84 243.55L157.97 239.26M157.97 239.26L159.84 234.97M159.84 234.97L164.23 234.97M164.23 234.97L166.64 239.26M166.64 247.83L164.23 252.12M164.23 252.12L159.84 252.12M159.84 252.12L157.97 247.83M157.97 247.83L159.84 243.55M159.84 243.55L164.23 243.55M164.23 243.55L166.64 247.83M166.64 256.41L164.23 260.69M164.23 260.69L159.84 260.69M159.84 260.69L157.97 256.41M157.97 256.41L159.84 252.12M159.84 252.12L164.23 252.12M164.23 252.12L166.64 256.41M166.64 264.98L164.23 269.27M164.23 269.27L159.84 269.27M159.84 269.27L157.97 264.98M157.97 264.98L159.84 260.69M159.84 260.69L164.23 260.69M164.23 260.69L166.64 264.98M166.64 273.56L164.23 277.84M164.23 277.84L159.84 277.84M159.84 277.84L157.97 273.56M157.97 273.56L159.84 269.27M159.84 269.27L164.23 269.27M164.23 269.27L166.64 273.56M166.64 282.13L164.23 286.42M164.23 286.42L159.84 286.42M159.84 286.42L157.97 282.13M157.97 282.13L159.84 277.84M159.84 277.84L164.23 277.84M164.23 277.84L166.64 282.13M166.64 290.7L164.23 294.99M164.23 294.99L159.84 294.99M159.84 294.99L157.97 290.7M157.97 290.7L159.84 286.42M159.84 286.42L164.23 286.42M164.23 286.42L166.64 290.7M166.64 299.28L164.23 303.56M164.23 303.56L159.84 303.56M159.84 303.56L157.97 299.28M157.97 299.28L159.84 294.99M159.84 294.99L164.23 294.99M164.23 294.99L166.64 299.28M166.64 307.85L164.23 312.14M164.23 312.14L159.84 312.14M159.84 312.14L157.97 307.85M157.97 307.85L159.84 303.56M159.84 303.56L164.23 303.56M164.23 303.56L166.64 307.85M166.64 316.42L164.23 320.71M164.23 320.71L159.84 320.71M159.84 320.71L157.97 316.42M157.97 316.42L159.84 312.14M159.84 312.14L164.23 312.14M164.23 312.14L166.64 316.42M166.64 325L164.23 329.28M164.23 329.28L159.84 329.28M159.84 329.28L157.97 325M157.97 325L159.84 320.71M159.84 320.71L164.23 320.71M164.23 320.71L166.64 325M173.97 209.25L171.56 213.54M171.56 213.54L166.64 213.54M166.64 213.54L164.23 209.25M164.23 209.25L166.64 204.97M166.64 204.97L171.56 204.97M171.56 204.97L173.97 209.25M173.97 217.83L171.56 222.11M171.56 222.11L166.64 222.11M166.64 222.11L164.23 217.83M164.23 217.83L166.64 213.54M166.64 213.54L171.56 213.54M171.56 213.54L173.97 217.83M173.97 226.4L171.56 230.69M171.56 230.69L166.64 230.69M166.64 230.69L164.23 226.4M164.23 226.4L166.64 222.11M166.64 222.11L171.56 222.11M171.56 222.11L173.97 226.4M173.97 234.97L171.56 239.26M171.56 239.26L166.64 239.26M166.64 239.26L164.23 234.97M164.23 234.97L166.64 230.69M166.64 230.69L171.56 230.69M171.56 230.69L173.97 234.97M173.97 243.55L171.56 247.83M171.56 247.83L166.64 247.83M166.64 247.83L164.23 243.55M164.23 243.55L166.64 239.26M166.64 239.26L171.56 239.26M171.56 239.26L173.97 243.55M173.97 252.12L171.56 256.41M171.56 256.41L166.64 256.41M166.64 256.41L164.23 252.12M164.23 252.12L166.64 247.83M166.64 247.83L171.56 247.83M171.56 247.83L173.97 252.12M173.97 260.69L171.56 264.98M171.56 264.98L166.64 264.98M166.64 264.98L164.23 260.69M164.23 260.69L166.64 256.41M166.64 256.41L171.56 256.41M171.56 256.41L173.97 260.69M173.97 269.27L171.56 273.56M171.56 273.56L166.64 273.56M166.64 273.56L164.23 269.27M164.23 269.27L166.64 264.98M166.64 264.98L171.56 264.98M171.56 264.98L173.97 269.27M173.97 277.84L171.56 282.13M171.56 282.13L166.64 282.13M166.64 282.13L164.23 277.84M164.23 277.84L166.64 273.56M166.64 273.56L171.56 273.56M171.56 273.56L173.97 277.84M173.97 286.42L171.56 290.7M171.56 290.7L166.64 290.7M166.64 290.7L164.23 286.42M164.23 286.42L166.64 282.13M166.64 282.13L171.56 282.13M171.56 282.13L173.97 286.42M173.97 294.99L171.56 299.28M171.56 299.28L166.64 299.28M166.64 299.28L164.23 294.99M164.23 294.99L166.64 290.7M166.64 290.7L171.56 290.7M171.56 290.7L173.97 294.99M173.97 303.56L171.56 307.85M171.56 307.85L166.64 307.85M166.64 307.85L164.23 303.56M164.23 303.56L166.64 299.28M166.64 299.28L171.56 299.28M171.56 299.28L173.97 303.56M173.97 312.14L171.56 316.42M171.56 316.42L166.64 316.42M166.64 316.42L164.23 312.14M164.23 312.14L166.64 307.85M166.64 307.85L171.56 307.85M171.56 307.85L173.97 312.14M173.97 320.71L171.56 325M171.56 325L166.64 325M166.64 325L164.23 320.71M164.23 320.71L166.64 316.42M166.64 316.42L171.56 316.42M171.56 316.42L173.97 320.71M173.97 329.28L171.56 333.57M171.56 333.57L166.64 333.57M166.64 333.57L164.23 329.28M164.23 329.28L166.64 325M166.64 325L171.56 325M171.56 325L173.97 329.28M180.23 213.54L178.36 217.83M178.36 217.83L173.97 217.83M173.97 217.83L171.56 213.54M171.56 213.54L173.97 209.25M173.97 209.25L178.36 209.25M178.36 209.25L180.23 213.54M180.23 222.11L178.36 226.4M178.36 226.4L173.97 226.4M173.97 226.4L171.56 222.11M171.56 222.11L173.97 217.83M173.97 217.83L178.36 217.83M178.36 217.83L180.23 222.11M180.23 230.69L178.36 234.97M178.36 234.97L173.97 234.97M173.97 234.97L171.56 230.69M171.56 230.69L173.97 226.4M173.97 226.4L178.36 226.4M178.36 226.4L180.23 230.69M180.23 239.26L178.36 243.55M178.36 243.55L173.97 243.55M173.97 243.55L171.56 239.26M171.56 239.26L173.97 234.97M173.97 234.97L178.36 234.97M178.36 234.97L180.23 239.26M180.23 247.83L178.36 252.12M178.36 252.12L173.97 252.12M173.97 252.12L171.56 247.83M171.56 247.83L173.97 243.55M173.97 243.55L178.36 243.55M178.36 243.55L180.23 247.83M180.23 256.41L178.36 260.69M178.36 260.69L173.97 260.69M173.97 260.69L171.56 256.41M171.56 256.41L173.97 252.12M173.97 252.12L178.36 252.12M178.36 252.12L180.23 256.41M180.23 264.98L178.36 269.27M178.36 269.27L173.97 269.27M173.97 269.27L171.56 264.98M171.56 264.98L173.97 260.69M173.97 260.69L178.36 260.69M178.36 260.69L180.23 264.98M180.23 273.56L178.36 277.84M178.36 277.84L173.97 277.84M173.97 277.84L171.56 273.56M171.56 273.56L173.97 269.27M173.97 269.27L178.36 269.27M178.36 269.27L180.23 273.56M180.23 282.13L178.36 286.42M178.36 286.42L173.97 286.42M173.97 286.42L171.56 282.13M171.56 282.13L173.97 277.84M173.97 277.84L178.36 277.84M178.36 277.84L180.23 282.13M180.23 290.7L178.36 294.99M178.36 294.99L173.97 294.99M173.97 294.99L171.56 290.7M171.56 290.7L173.97 286.42M173.97 286.42L178.36 286.42M178.36 286.42L180.23 290.7M180.23 299.28L178.36 303.56M178.36 303.56L173.97 303.56M173.97 303.56L171.56 299.28M171.56 299.28L173.97 294.99M173.97 294.99L178.36 294.99M178.36 294.99L180.23 299.28M180.23 307.85L178.36 312.14M178.36 312.14L173.97 312.14M173.97 312.14L171.56 307.85M171.56 307.85L173.97 303.56M173.97 303.56L178.36 303.56M178.36 303.56L180.23 307.85M180.23 316.42L178.36 320.71M178.36 320.71L173.97 320.71M173.97 320.71L171.56 316.42M171.56 316.42L173.97 312.14M173.97 312.14L178.36 312.14M178.36 312.14L180.23 316.42M180.23 325L178.36 329.28M178.36 329.28L173.97 329.28M173.97 329.28L171.56 325M171.56 325L173.97 320.71M173.97 320.71L178.36 320.71M178.36 320.71L180.23 325M184.05 209.25L183.12 213.54M183.12 213.54L180.23 213.54M180.23 213.54L178.36 209.25M178.36 209.25L180.23 204.97M180.23 204.97L183.12 204.97M183.12 204.97L184.05 209.25M184.05 217.83L183.12 222.11M183.12 222.11L180.23 222.11M180.23 222.11L178.36 217.83M178.36 217.83L180.23 213.54M180.23 213.54L183.12 213.54M183.12 213.54L184.05 217.83M184.05 226.4L183.12 230.69M183.12 230.69L180.23 230.69M180.23 230.69L178.36 226.4M178.36 226.4L180.23 222.11M180.23 222.11L183.12 222.11M183.12 222.11L184.05 226.4M184.05 234.97L183.12 239.26M183.12 239.26L180.23 239.26M180.23 239.26L178.36 234.97M178.36 234.97L180.23 230.69M180.23 230.69L183.12 230.69M183.12 230.69L184.05 234.97M184.05 243.55L183.12 247.83M183.12 247.83L180.23 247.83M180.23 247.83L178.36 243.55M178.36 243.55L180.23 239.26M180.23 239.26L183.12 239.26M183.12 239.26L184.05 243.55M184.05 252.12L183.12 256.41M183.12 256.41L180.23 256.41M180.23 256.41L178.36 252.12M178.36 252.12L180.23 247.83M180.23 247.83L183.12 247.83M183.12 247.83L184.05 252.12M184.05 260.69L183.12 264.98M183.12 264.98L180.23 264.98M180.23 264.98L178.36 260.69M178.36 260.69L180.23 256.41M180.23 256.41L183.12 256.41M183.12 256.41L184.05 260.69M184.05 269.27L183.12 273.56M183.12 273.56L180.23 273.56M180.23 273.56L178.36 269.27M178.36 269.27L180.23 264.98M180.23 264.98L183.12 264.98M183.12 264.98L184.05 269.27M184.05 277.84L183.12 282.13M183.12 282.13L180.23 282.13M180.23 282.13L178.36 277.84M178.36 277.84L180.23 273.56M180.23 273.56L183.12 273.56M183.12 273.56L184.05 277.84M184.05 286.42L183.12 290.7M183.12 290.7L180.23 290.7M180.23 290.7L178.36 286.42M178.36 286.42L180.23 282.13M180.23 282.13L183.12 282.13M183.12 282.13L184.05 286.42M184.05 294.99L183.12 299.28M183.12 299.28L180.23 299.28M180.23 299.28L178.36 294.99M178.36 294.99L180.23 290.7M180.23 290.7L183.12 290.7M183.12 290.7L184.05 294.99M184.05 303.56L183.12 307.85M183.12 307.85L180.23 307.85M180.23 307.85L178.36 303.56M178.36 303.56L180.23 299.28M180.23 299.28L183.12 299.28M183.12 299.28L184.05 303.56M184.05 312.14L183.12 316.42M183.12 316.42L180.23 316.42M180.23 316.42L178.36 312.14M178.36 312.14L180.23 307.85M180.23 307.85L183.12 307.85M183.12 307.85L184.05 312.14M184.05 320.71L183.12 325M183.12 325L180.23 325M180.23 325L178.36 320.71M178.36 320.71L180.23 316.42M180.23 316.42L183.12 316.42M183.12 316.42L184.05 320.71M184.05 329.28L183.12 333.57M183.12 333.57L180.23 333.57M180.23 333.57L178.36 329.28M178.36 329.28L180.23 325M180.23 325L183.12 325M183.12 325L184.05 329.28M184.8 217.83L184.05 217.83M184.05 217.83L183.12 213.54M183.12 213.54L184.05 209.25M184.05 209.25L184.8 209.25M184.8 226.4L184.05 226.4M184.05 226.4L183.12 222.11M183.12 222.11L184.05 217.83M184.05 217.83L184.8 217.83M184.8 234.97L184.05 234.97M184.05 234.97L183.12 230.69M183.12 230.69L184.05 226.4M184.05 226.4L184.8 226.4M184.8 243.55L184.05 243.55M184.05 243.55L183.12 239.26M183.12 239.26L184.05 234.97M184.05 234.97L184.8 234.97M184.8 252.12L184.05 252.12M184.05 252.12L183.12 247.83M183.12 247.83L184.05 243.55M184.05 243.55L184.8 243.55M184.8 260.69L184.05 260.69M184.05 260.69L183.12 256.41M183.12 256.41L184.05 252.12M184.05 252.12L184.8 252.12M184.8 269.27L184.05 269.27M184.05 269.27L183.12 264.98M183.12 264.98L184.05 260.69M184.05 260.69L184.8 260.69M184.8 277.84L184.05 277.84M184.05 277.84L183.12 273.56M183.12 273.56L184.05 269.27M184.05 269.27L184.8 269.27M184.8 286.42L184.05 286.42M184.05 286.42L183.12 282.13M183.12 282.13L184.05 277.84M184.05 277.84L184.8 277.84M184.8 294.99L184.05 294.99M184.05 294.99L183.12 290.7M183.12 290.7L184.05 286.42M184.05 286.42L184.8 286.42M184.8 303.56L184.05 303.56M184.05 303.56L183.12 299.28M183.12 299.28L184.05 294.99M184.05 294.99L184.8 294.99M184.8 312.14L184.05 312.14M184.05 312.14L183.12 307.85M183.12 307.85L184.05 303.56M184.05 303.56L184.8 303.56M184.8 320.71L184.05 320.71M184.05 320.71L183.12 316.42M183.12 316.42L184.05 312.14M184.05 312.14L184.8 312.14M184.8 329.28L184.05 329.28M184.05 329.28L183.12 325M183.12 325L184.05 320.71M184.05 320.71L184.8 320.71" stroke="#8a8a8a" stroke-width="1.6" fill="none" stroke-linecap="round"/>
<path d="M153.4 226.4h0M153.4 235h0M153.4 243.5h0M153.4 252.1h0M153.4 260.7h0M153.4 269.3h0M153.4 277.8h0M153.4 286.4h0M153.4 295h0M153.4 303.6h0M153.4 312.1h0M153.4 320.7h0M154.1 226.4h0M154.1 235h0M154.1 243.5h0M154.1 252.1h0M154.1 260.7h0M154.1 269.3h0M154.1 277.8h0M154.1 286.4h0M154.1 295h0M154.1 303.6h0M154.1 312.1h0M154.1 320.7h0M155.1 230.7h0M155.1 239.3h0M155.1 247.8h0M155.1 256.4h0M155.1 265h0M155.1 273.6h0M155.1 282.1h0M155.1 290.7h0M155.1 299.3h0M155.1 307.8h0M155.1 316.4h0M155.1 325h0M158 230.7h0M158 239.3h0M158 247.8h0M158 256.4h0M158 265h0M158 273.6h0M158 282.1h0M158 290.7h0M158 299.3h0M158 307.8h0M158 316.4h0M158 325h0M159.8 226.4h0M159.8 235h0M159.8 243.5h0M159.8 252.1h0M159.8 260.7h0M159.8 269.3h0M159.8 277.8h0M159.8 286.4h0M159.8 295h0M159.8 303.6h0M159.8 312.1h0M159.8 320.7h0M164.2 226.4h0M164.2 235h0M164.2 243.5h0M164.2 252.1h0M164.2 260.7h0M164.2 269.3h0M164.2 277.8h0M164.2 286.4h0M164.2 295h0M164.2 303.6h0M164.2 312.1h0M164.2 320.7h0M166.6 230.7h0M166.6 239.3h0M166.6 247.8h0M166.6 256.4h0M166.6 265h0M166.6 273.6h0M166.6 282.1h0M166.6 290.7h0M166.6 299.3h0M166.6 307.8h0M166.6 316.4h0M166.6 325h0M171.6 230.7h0M171.6 239.3h0M171.6 247.8h0M171.6 256.4h0M171.6 265h0M171.6 273.6h0M171.6 282.1h0M171.6 290.7h0M171.6 299.3h0M171.6 307.8h0M171.6 316.4h0M171.6 325h0M174 226.4h0M174 235h0M174 243.5h0M174 252.1h0M174 260.7h0M174 269.3h0M174 277.8h0M174 286.4h0M174 295h0M174 303.6h0M174 312.1h0M174 320.7h0M178.4 226.4h0M178.4 235h0M178.4 243.5h0M178.4 252.1h0M178.4 260.7h0M178.4 269.3h0M178.4 277.8h0M178.4 286.4h0M178.4 295h0M178.4 303.6h0M178.4 312.1h0M178.4 320.7h0M180.2 230.7h0M180.2 239.3h0M180.2 247.8h0M180.2 256.4h0M180.2 265h0M180.2 273.6h0M180.2 282.1h0M180.2 290.7h0M180.2 299.3h0M180.2 307.8h0M180.2 316.4h0M180.2 325h0M183.1 230.7h0M183.1 239.3h0M183.1 247.8h0M183.1 256.4h0M183.1 265h0M183.1 273.6h0M183.1 282.1h0M183.1 290.7h0M183.1 299.3h0M183.1 307.8h0M183.1 316.4h0M183.1 325h0M184.1 226.4h0M184.1 235h0M184.1 243.5h0M184.1 252.1h0M184.1 260.7h0M184.1 269.3h0M184.1 277.8h0M184.1 286.4h0M184.1 295h0M184.1 303.6h0M184.1 312.1h0M184.1 320.7h0M184.8 226.4h0M184.8 235h0M184.8 243.5h0M184.8 252.1h0M184.8 260.7h0M184.8 269.3h0M184.8 277.8h0M184.8 286.4h0M184.8 295h0M184.8 303.6h0M184.8 312.1h0M184.8 320.7h0" stroke="#626262" stroke-width="2.4" fill="none" stroke-linecap="round"/>
</g>
<rect x="153.4" y="222.8" width="31.4" height="101.5" fill="url(#tubeg)"/>
<line x1="65.6" y1="235.8" x2="71.5" y2="235.8" stroke="#f6b60a" stroke-width="1.1"/>
<text x="74.1" y="239.1" font-size="9" text-anchor="middle" fill="#f6b60a" font-weight="bold" font-family="Liberation Serif">S</text>
<text x="75.5" y="224.2" font-size="8.6" text-anchor="middle" fill="#f6b60a" font-weight="bold" font-family="Liberation Serif">O</text>
<text x="72.7" y="252.8" font-size="8.6" text-anchor="middle" fill="#f6b60a" font-weight="bold" font-family="Liberation Serif">O</text>
<line x1="73.55" y1="231.6" x2="74.3" y2="225.4" stroke="#f6b60a" stroke-width="0.9"/>
<line x1="72.85" y1="240.2" x2="72.1" y2="245.4" stroke="#f6b60a" stroke-width="0.9"/>
<line x1="75.35" y1="231.6" x2="76.1" y2="225.4" stroke="#f6b60a" stroke-width="0.9"/>
<line x1="74.65" y1="240.2" x2="73.9" y2="245.4" stroke="#f6b60a" stroke-width="0.9"/>
<line x1="77.1" y1="235.8" x2="82.7" y2="235.8" stroke="#f6b60a" stroke-width="1.1"/>
<text x="83.9" y="239.4" font-size="10" text-anchor="start" fill="#f6b60a" font-weight="bold" font-family="Liberation Serif" textLength="12.2" lengthAdjust="spacingAndGlyphs">OH</text>
<line x1="65.6" y1="308.3" x2="70.7" y2="308.3" stroke="#f6b60a" stroke-width="1.1"/>
<text x="73.3" y="311.6" font-size="9" text-anchor="middle" fill="#f6b60a" font-weight="bold" font-family="Liberation Serif">S</text>
<text x="74.7" y="296.7" font-size="8.6" text-anchor="middle" fill="#f6b60a" font-weight="bold" font-family="Liberation Serif">O</text>
<text x="71.9" y="325.3" font-size="8.6" text-anchor="middle" fill="#f6b60a" font-weight="bold" font-family="Liberation Serif">O</text>
<line x1="72.75" y1="304.1" x2="73.5" y2="297.9" stroke="#f6b60a" stroke-width="0.9"/>
<line x1="72.05" y1="312.7" x2="71.3" y2="317.9" stroke="#f6b60a" stroke-width="0.9"/>
<line x1="74.55" y1="304.1" x2="75.3" y2="297.9" stroke="#f6b60a" stroke-width="0.9"/>
<line x1="73.85" y1="312.7" x2="73.1" y2="317.9" stroke="#f6b60a" stroke-width="0.9"/>
<line x1="76.3" y1="308.3" x2="81.9" y2="308.3" stroke="#f6b60a" stroke-width="1.1"/>
<text x="83.1" y="311.9" font-size="10" text-anchor="start" fill="#f6b60a" font-weight="bold" font-family="Liberation Serif" textLength="12.2" lengthAdjust="spacingAndGlyphs">OH</text>
<line x1="184.8" y1="235.9" x2="189.9" y2="235.9" stroke="#f6b60a" stroke-width="1.1"/>
<text x="192.5" y="239.2" font-size="9" text-anchor="middle" fill="#f6b60a" font-weight="bold" font-family="Liberation Serif">S</text>
<text x="193.9" y="224.3" font-size="8.6" text-anchor="middle" fill="#f6b60a" font-weight="bold" font-family="Liberation Serif">O</text>
<text x="191.1" y="252.9" font-size="8.6" text-anchor="middle" fill="#f6b60a" font-weight="bold" font-family="Liberation Serif">O</text>
<line x1="191.95" y1="231.7" x2="192.7" y2="225.5" stroke="#f6b60a" stroke-width="0.9"/>
<line x1="191.25" y1="240.3" x2="190.5" y2="245.5" stroke="#f6b60a" stroke-width="0.9"/>
<line x1="193.75" y1="231.7" x2="194.5" y2="225.5" stroke="#f6b60a" stroke-width="0.9"/>
<line x1="193.05" y1="240.3" x2="192.3" y2="245.5" stroke="#f6b60a" stroke-width="0.9"/>
<line x1="195.5" y1="236.5" x2="200" y2="237.5" stroke="#f6b60a" stroke-width="1.1"/>
<text x="203.5" y="241.3" font-size="8.6" text-anchor="middle" fill="#f6b60a" font-weight="bold" font-family="Liberation Serif">O</text>
<line x1="184.8" y1="309.1" x2="190.2" y2="309.1" stroke="#f6b60a" stroke-width="1.1"/>
<text x="192.8" y="312.4" font-size="9" text-anchor="middle" fill="#f6b60a" font-weight="bold" font-family="Liberation Serif">S</text>
<text x="194.2" y="297.5" font-size="8.6" text-anchor="middle" fill="#f6b60a" font-weight="bold" font-family="Liberation Serif">O</text>
<text x="191.4" y="326.1" font-size="8.6" text-anchor="middle" fill="#f6b60a" font-weight="bold" font-family="Liberation Serif">O</text>
<line x1="192.25" y1="304.9" x2="193" y2="298.7" stroke="#f6b60a" stroke-width="0.9"/>
<line x1="191.55" y1="313.5" x2="190.8" y2="318.7" stroke="#f6b60a" stroke-width="0.9"/>
<line x1="194.05" y1="304.9" x2="194.8" y2="298.7" stroke="#f6b60a" stroke-width="0.9"/>
<line x1="193.35" y1="313.5" x2="192.6" y2="318.7" stroke="#f6b60a" stroke-width="0.9"/>
<line x1="195.8" y1="309.7" x2="200.3" y2="310.7" stroke="#f6b60a" stroke-width="1.1"/>
<text x="203.8" y="314.5" font-size="8.6" text-anchor="middle" fill="#f6b60a" font-weight="bold" font-family="Liberation Serif">O</text>
<line x1="206.5" y1="237" x2="214.2" y2="230.3" stroke="#d1252a" stroke-width="1.4" stroke-dasharray="2 1.6"/>
<text x="217.8" y="233" font-size="9" text-anchor="middle" fill="#cf2a2f" font-weight="bold" font-family="Liberation Serif" font-style="italic">H</text>
<text x="223.9" y="233.6" font-size="9.6" text-anchor="middle" fill="#2d86d8" font-weight="bold" font-family="Liberation Serif">O</text>
<line x1="228" y1="228.3" x2="239.7" y2="226.7" stroke="#2d86d8" stroke-width="1.2"/>
<text x="243.3" y="228.6" font-size="9" text-anchor="middle" fill="#cf2a2f" font-weight="bold" font-family="Liberation Serif">H</text>
<path d="M214 242.1 232.4 245.6 252.2 240.5 267.5 253.6 244.3 252.3 225.4 256.9Z" stroke="#3b78d6" stroke-width="1.1" fill="none" stroke-linejoin="round"/>
<line x1="214" y1="242.1" x2="220.3" y2="233.8" stroke="#3b78d6" stroke-width="1.1"/>
<line x1="206.5" y1="309.3" x2="214.2" y2="302.6" stroke="#d1252a" stroke-width="1.4" stroke-dasharray="2 1.6"/>
<text x="217.8" y="305.3" font-size="9" text-anchor="middle" fill="#cf2a2f" font-weight="bold" font-family="Liberation Serif" font-style="italic">H</text>
<text x="223.9" y="305.9" font-size="9.6" text-anchor="middle" fill="#2d86d8" font-weight="bold" font-family="Liberation Serif">O</text>
<line x1="228" y1="300.6" x2="239.7" y2="299" stroke="#2d86d8" stroke-width="1.2"/>
<text x="243.3" y="300.9" font-size="9" text-anchor="middle" fill="#cf2a2f" font-weight="bold" font-family="Liberation Serif">H</text>
<path d="M214 314.4 232.4 317.9 252.2 312.8 267.5 325.9 244.3 324.6 225.4 329.2Z" stroke="#3b78d6" stroke-width="1.1" fill="none" stroke-linejoin="round"/>
<line x1="214" y1="314.4" x2="220.3" y2="306.1" stroke="#3b78d6" stroke-width="1.1"/>
<path d="M80.3 283.4 141.9 283.4 141.9 278.1 150.9 285.9 141.9 293.9 141.9 288.3 80.3 288.3Z" stroke="none" stroke-width="0" fill="#9a9a9a"/>
<text x="111.8" y="296.9" font-size="10.2" text-anchor="middle" fill="#1f7bd1" font-weight="bold" font-family="Liberation Serif" textLength="56.3" lengthAdjust="spacingAndGlyphs">Cyclohexanol</text>
<text x="112.2" y="306" font-size="10.2" text-anchor="middle" fill="#1f7bd1" font-weight="bold" font-family="Liberation Serif" textLength="19.4" lengthAdjust="spacingAndGlyphs">(CH)</text>
<line x1="92.7" y1="252.4" x2="88.4" y2="259.9" stroke="#2f7fd0" stroke-width="0.75"/>
<line x1="89.4" y1="261.4" x2="104.3" y2="263.9" stroke="#2f7fd0" stroke-width="0.75"/>
<line x1="109.8" y1="261.4" x2="124.2" y2="256.9" stroke="#2f7fd0" stroke-width="0.75"/>
<line x1="129.2" y1="257.9" x2="138.6" y2="267.8" stroke="#2f7fd0" stroke-width="0.75"/>
<line x1="137.1" y1="269.8" x2="121.7" y2="268.6" stroke="#2f7fd0" stroke-width="0.75"/>
<line x1="116.7" y1="269.3" x2="102.3" y2="275.8" stroke="#2f7fd0" stroke-width="0.75"/>
<line x1="96.9" y1="275.3" x2="86.5" y2="264.8" stroke="#2f7fd0" stroke-width="0.75"/>
<text x="84.9" y="264.1" font-size="5.2" text-anchor="middle" fill="#2f7fd0" font-weight="bold" font-family="Liberation Serif">HC</text>
<text x="97.5" y="251" font-size="5.2" text-anchor="middle" fill="#2f7fd0" font-weight="bold" font-family="Liberation Serif">OH</text>
<text x="107" y="265.1" font-size="5.2" text-anchor="middle" fill="#2f7fd0" font-weight="bold" font-family="Liberation Serif">C</text>
<text x="120.7" y="265.1" font-size="5.2" text-anchor="middle" fill="#2f7fd0" font-weight="bold" font-family="Liberation Serif">H2</text>
<text x="130.1" y="255.6" font-size="5.2" text-anchor="middle" fill="#2f7fd0" font-weight="bold" font-family="Liberation Serif" transform="rotate(-30 130.1 255.6)">CH2</text>
<text x="109.3" y="271" font-size="5.2" text-anchor="middle" fill="#2f7fd0" font-weight="bold" font-family="Liberation Serif">H2</text>
<text x="119.2" y="271" font-size="5.2" text-anchor="middle" fill="#2f7fd0" font-weight="bold" font-family="Liberation Serif">C</text>
<text x="142.6" y="271.5" font-size="5.2" text-anchor="middle" fill="#2f7fd0" font-weight="bold" font-family="Liberation Serif" transform="rotate(15 142.6 271.5)">CH2</text>
<text x="96.9" y="280.4" font-size="5.2" text-anchor="middle" fill="#2f7fd0" font-weight="bold" font-family="Liberation Serif" transform="rotate(-30 96.9 280.4)">H2C</text>
<text x="30.7" y="339.3" font-size="11.5" text-anchor="start" fill="#000" font-weight="bold" font-family="Liberation Serif" textLength="46.1" lengthAdjust="spacingAndGlyphs">0.9SCNT</text>
<text x="143" y="339.6" font-size="11.5" text-anchor="start" fill="#000" font-weight="bold" font-family="Liberation Serif">0.9SCNT<tspan dy="2.6" font-size="68%">CH</tspan></text>
<rect x="304.7" y="209.2" width="36.9" height="140.4" fill="url(#gb)" stroke="none" stroke-width="1"/>
<rect x="379" y="263.7" width="37.2" height="85.9" fill="url(#gb)" stroke="none" stroke-width="1"/>
<line x1="323.1" y1="205.3" x2="323.1" y2="212.4" stroke="#9ccaf4" stroke-width="0.9"/>
<line x1="321.3" y1="205.3" x2="324.9" y2="205.3" stroke="#9ccaf4" stroke-width="0.9"/>
<line x1="321.3" y1="212.4" x2="324.9" y2="212.4" stroke="#9ccaf4" stroke-width="0.9"/>
<line x1="397.6" y1="246.9" x2="397.6" y2="280.7" stroke="#9ccaf4" stroke-width="0.9"/>
<line x1="395.8" y1="246.9" x2="399.4" y2="246.9" stroke="#9ccaf4" stroke-width="0.9"/>
<line x1="395.8" y1="280.7" x2="399.4" y2="280.7" stroke="#9ccaf4" stroke-width="0.9"/>
<rect x="293.7" y="193.5" width="133.8" height="156.1" fill="none" stroke="#111" stroke-width="1.4"/>
<line x1="293.7" y1="349.6" x2="295.5" y2="349.6" stroke="#000" stroke-width="1.1"/>
<text x="292.6" y="353" font-size="10.2" text-anchor="end" fill="#000" font-weight="bold" font-family="Liberation Serif">0</text>
<line x1="293.7" y1="334.71" x2="294.7" y2="334.71" stroke="#000" stroke-width="1.1"/>
<line x1="293.7" y1="319.82" x2="295.5" y2="319.82" stroke="#000" stroke-width="1.1"/>
<text x="292.6" y="323.22" font-size="10.2" text-anchor="end" fill="#000" font-weight="bold" font-family="Liberation Serif">20</text>
<line x1="293.7" y1="304.93" x2="294.7" y2="304.93" stroke="#000" stroke-width="1.1"/>
<line x1="293.7" y1="290.04" x2="295.5" y2="290.04" stroke="#000" stroke-width="1.1"/>
<text x="292.6" y="293.44" font-size="10.2" text-anchor="end" fill="#000" font-weight="bold" font-family="Liberation Serif">40</text>
<line x1="293.7" y1="275.15" x2="294.7" y2="275.15" stroke="#000" stroke-width="1.1"/>
<line x1="293.7" y1="260.26" x2="295.5" y2="260.26" stroke="#000" stroke-width="1.1"/>
<text x="292.6" y="263.66" font-size="10.2" text-anchor="end" fill="#000" font-weight="bold" font-family="Liberation Serif">60</text>
<line x1="293.7" y1="245.37" x2="294.7" y2="245.37" stroke="#000" stroke-width="1.1"/>
<line x1="293.7" y1="230.48" x2="295.5" y2="230.48" stroke="#000" stroke-width="1.1"/>
<text x="292.6" y="233.88" font-size="10.2" text-anchor="end" fill="#000" font-weight="bold" font-family="Liberation Serif">80</text>
<line x1="293.7" y1="215.59" x2="294.7" y2="215.59" stroke="#000" stroke-width="1.1"/>
<line x1="293.7" y1="200.7" x2="295.5" y2="200.7" stroke="#000" stroke-width="1.1"/>
<text x="292.6" y="204.1" font-size="10.2" text-anchor="end" fill="#000" font-weight="bold" font-family="Liberation Serif">100</text>
<text x="322.3" y="358.9" font-size="10.2" text-anchor="middle" fill="#000" font-weight="bold" font-family="Liberation Serif" textLength="41.7" lengthAdjust="spacingAndGlyphs">0.9SCNT</text>
<text x="372.3" y="358.4" font-size="10.2" text-anchor="start" fill="#000" font-weight="bold" font-family="Liberation Serif">0.9SCNT<tspan dy="2.4" font-size="68%">CH</tspan></text>
<text x="280.2" y="272.8" font-size="10.7" text-anchor="middle" fill="#000" font-weight="bold" font-family="Liberation Serif" transform="rotate(-90 280.2 272.8)">FE<tspan dy="2.4" font-size="60%">H2O2</tspan><tspan dy="-2.4"> (%)</tspan></text>
<path d="M468.8 255.2 469.3 255.2 469.8 255.2 470.3 255.2 470.8 255.2 471.3 255.2 471.8 255.2 472.3 255.2 472.8 255.2 473.3 255.2 473.8 255.2 474.3 255.2 474.8 255.2 475.3 255.3 475.8 255.3 476.3 255.3 476.8 255.3 477.3 255.3 477.8 255.3 478.3 255.3 478.8 255.3 479.3 255.3 479.8 255.3 480.3 255.3 480.8 255.3 481.3 255.3 481.8 255.3 482.3 255.3 482.8 255.3 483.3 255.3 483.8 255.3 484.3 255.3 484.8 255.3 485.3 255.3 485.8 255.3 486.3 255.3 486.8 255.3 487.3 255.3 487.8 255.3 488.3 255.2 488.8 255.2 489.3 255.2 489.8 255.2 490.3 255.2 490.8 255.2 491.3 255.2 491.8 255.1 492.3 255.1 492.8 255.1 493.3 255.1 493.8 255 494.3 255 494.8 255 495.3 255 495.8 254.9 496.3 254.9 496.8 254.8 497.3 254.8 497.8 254.8 498.3 254.7 498.8 254.7 499.3 254.6 499.8 254.6 500.3 254.5 500.8 254.4 501.3 254.4 501.8 254.3 502.3 254.2 502.8 254.2 503.3 254.1 503.8 254 504.3 253.9 504.8 253.8 505.3 253.7 505.8 253.6 506.3 253.5 506.8 253.4 507.3 253.3 507.8 253.1 508.3 253 508.8 252.9 509.3 252.8 509.8 252.6 510.3 252.5 510.8 252.3 511.3 252.1 511.8 252 512.3 251.8 512.8 251.6 513.3 251.5 513.8 251.3 514.3 251.1 514.8 250.9 515.3 250.7 515.8 250.4 516.3 250.2 516.8 250 517.3 249.8 517.8 249.5 518.3 249.3 518.8 249 519.3 248.8 519.8 248.5 520.3 248.2 520.8 247.9 521.3 247.6 521.8 247.3 522.3 247.1 522.8 246.7 523.3 246.4 523.8 246.1 524.3 245.8 524.8 245.5 525.3 245.1 525.8 244.8 526.3 244.4 526.8 244.1 527.3 243.7 527.8 243.4 528.3 243 528.8 242.7 529.3 242.3 529.8 241.9 530.3 241.5 530.8 241.2 531.3 240.8 531.8 240.4 532.3 240 532.8 239.6 533.3 239.3 533.8 238.9 534.3 238.5 534.8 238.1 535.3 237.7 535.8 237.3 536.3 237 536.8 236.6 537.3 236.2 537.8 235.8 538.3 235.5 538.8 235.1 539.3 234.8 539.8 234.4 540.3 234.1 540.8 233.7 541.3 233.4 541.8 233.1 542.3 232.8 542.8 232.5 543.3 232.2 543.8 231.9 544.3 231.6 544.8 231.4 545.3 231.1 545.8 230.9 546.3 230.6 546.8 230.4 547.3 230.2 547.8 230.1 548.3 229.9 548.8 229.7 549.3 229.6 549.8 229.5 550.3 229.4 550.8 229.3 551.3 229.2 551.8 229.2 552.3 229.1 552.8 229.1 553.3 229.1 553.8 229.1 554.3 229.2 554.8 229.2 555.3 229.3 555.8 229.4 556.3 229.5 556.8 229.6 557.3 229.7 557.8 229.9 558.3 230.1 558.8 230.2 559.3 230.4 559.8 230.7 560.3 230.9 560.8 231.1 561.3 231.4 561.8 231.6 562.3 231.9 562.8 232.2 563.3 232.5 563.8 232.8 564.3 233.2 564.8 233.5 565.3 233.8 565.8 234.2 566.3 234.6 566.8 234.9 567.3 235.3 567.8 235.7 568.3 236.1 568.8 236.5 569.3 236.9 569.8 237.3 570.3 237.7 570.8 238.1 571.3 238.5 571.8 238.9 572.3 239.3 572.8 239.7 573.3 240.1 573.8 240.5 574.3 240.9 574.8 241.4 575.3 241.8 575.8 242.2 576.3 242.6 576.8 243 577.3 243.4 577.8 243.8 578.3 244.2 578.8 244.6 579.3 245 579.8 245.4 580.3 245.8 580.8 246.1 581.3 246.5 581.8 246.9 582.3 247.2 582.8 247.6 583.3 247.9 583.8 248.3 584.3 248.6 584.8 249 585.3 249.3 585.8 249.6 586.3 249.9 586.8 250.2 587.3 250.5 587.8 250.8 588.3 251.1 588.8 251.4 589.3 251.7 589.8 251.9 590.3 252.2 590.8 252.5 591.3 252.7 591.8 253 592.3 253.2 592.8 253.4 593.3 253.6 593.8 253.9 594.3 254.1 594.8 254.3 595.3 254.5 595.8 254.7 596.3 254.9 596.8 255 597.3 255.2 597.8 255.4 598.3 255.6 598.8 255.7 599.3 255.9 599.8 256 600.3 256.2 600.8 256.3 601.3 256.4 601.8 256.6 602.3 256.7 602.8 256.8 603.3 256.9 603.8 257.1 604.3 257.2 604.8 257.3 605.3 257.4 605.8 257.5 606.3 257.6 606.8 257.7 607.3 257.7 607.8 257.8 608.3 257.9 608.8 258 609.3 258.1 609.8 258.1 610.3 258.2 610.8 258.3 611.3 258.3 611.8 258.4 612.3 258.5 612.8 258.5 613.3 258.6 613.8 258.6 614.3 258.7 614.8 258.7 615.3 258.8 615.8 258.8 616.3 258.9 616.8 258.9 617.3 259 617.8 259 618.3 259.1 618.8 259.1 619.3 259.1 619.8 259.2 620.3 259.2 620.8 259.2 621.3 259.3 621.8 259.3 622.3 259.3 622.8 259.4 623.3 259.4 623.8 259.4 624.3 259.5 624.8 259.5 625.3 259.5 625.8 259.6 626.3 259.6 626.8 259.6 627.3 259.6 627.8 259.7 628.3 259.7 628.8 259.7 629.3 259.7 629.8 259.8 630.3 259.8 630.8 259.8 631.3 259.8 631.8 259.9 632.3 259.9 632.8 259.9 633.3 259.9 633.8 260 634.3 260 634.8 260 635.3 260 635.8 260 636.3 260.1 636.8 260.1 637.3 260.1 637.8 260.1 638.3 260.1 638.8 260.2 639.3 260.2 639.8 260.2 640.3 260.2 640.8 260.2 641.3 260.3 641.8 260.3 642.3 260.3 642.8 260.3 643.3 260.3 643.8 260.4 644.3 260.4 644.8 260.4 645.3 260.4 645.8 260.4 646.3 260.5 646.8 260.5 647.3 260.5 647.8 260.5 648.3 260.5 648.8 260.6 649.3 260.6 649.8 260.6 650.3 260.6 650.8 260.6 651.3 260.6 651.8 260.7 652.3 260.7 652.8 260.7 653.3 260.7 653.8 260.7 654.3 260.8 654.8 260.8 655.3 260.8 655.8 260.8 656.3 260.8 656.8 260.8 657.3 260.9 657.3 261.2 656.8 261.2 656.3 261.1 655.8 261.1 655.3 261.1 654.8 261.1 654.3 261.1 653.8 261.1 653.3 261.1 652.8 261 652.3 261 651.8 261 651.3 261 650.8 261 650.3 261 649.8 261 649.3 260.9 648.8 260.9 648.3 260.9 647.8 260.9 647.3 260.9 646.8 260.9 646.3 260.9 645.8 260.8 645.3 260.8 644.8 260.8 644.3 260.8 643.8 260.8 643.3 260.8 642.8 260.8 642.3 260.7 641.8 260.7 641.3 260.7 640.8 260.7 640.3 260.7 639.8 260.7 639.3 260.6 638.8 260.6 638.3 260.6 637.8 260.6 637.3 260.6 636.8 260.6 636.3 260.6 635.8 260.5 635.3 260.5 634.8 260.5 634.3 260.5 633.8 260.5 633.3 260.5 632.8 260.5 632.3 260.4 631.8 260.4 631.3 260.4 630.8 260.4 630.3 260.4 629.8 260.4 629.3 260.4 628.8 260.3 628.3 260.3 627.8 260.3 627.3 260.3 626.8 260.3 626.3 260.3 625.8 260.3 625.3 260.2 624.8 260.2 624.3 260.2 623.8 260.2 623.3 260.2 622.8 260.2 622.3 260.1 621.8 260.1 621.3 260.1 620.8 260.1 620.3 260.1 619.8 260.1 619.3 260.1 618.8 260 618.3 260 617.8 260 617.3 260 616.8 260 616.3 260 615.8 260 615.3 259.9 614.8 259.9 614.3 259.9 613.8 259.9 613.3 259.9 612.8 259.9 612.3 259.9 611.8 259.8 611.3 259.8 610.8 259.8 610.3 259.8 609.8 259.8 609.3 259.8 608.8 259.7 608.3 259.7 607.8 259.7 607.3 259.7 606.8 259.7 606.3 259.7 605.8 259.7 605.3 259.6 604.8 259.6 604.3 259.6 603.8 259.6 603.3 259.6 602.8 259.6 602.3 259.6 601.8 259.5 601.3 259.5 600.8 259.5 600.3 259.5 599.8 259.5 599.3 259.5 598.8 259.5 598.3 259.4 597.8 259.4 597.3 259.4 596.8 259.4 596.3 259.4 595.8 259.4 595.3 259.4 594.8 259.3 594.3 259.3 593.8 259.3 593.3 259.3 592.8 259.3 592.3 259.3 591.8 259.2 591.3 259.2 590.8 259.2 590.3 259.2 589.8 259.2 589.3 259.2 588.8 259.2 588.3 259.1 587.8 259.1 587.3 259.1 586.8 259.1 586.3 259.1 585.8 259.1 585.3 259.1 584.8 259 584.3 259 583.8 259 583.3 259 582.8 259 582.3 259 581.8 259 581.3 258.9 580.8 258.9 580.3 258.9 579.8 258.9 579.3 258.9 578.8 258.9 578.3 258.9 577.8 258.8 577.3 258.8 576.8 258.8 576.3 258.8 575.8 258.8 575.3 258.8 574.8 258.7 574.3 258.7 573.8 258.7 573.3 258.7 572.8 258.7 572.3 258.7 571.8 258.7 571.3 258.6 570.8 258.6 570.3 258.6 569.8 258.6 569.3 258.6 568.8 258.6 568.3 258.6 567.8 258.5 567.3 258.5 566.8 258.5 566.3 258.5 565.8 258.5 565.3 258.5 564.8 258.5 564.3 258.4 563.8 258.4 563.3 258.4 562.8 258.4 562.3 258.4 561.8 258.4 561.3 258.3 560.8 258.3 560.3 258.3 559.8 258.3 559.3 258.3 558.8 258.3 558.3 258.3 557.8 258.2 557.3 258.2 556.8 258.2 556.3 258.2 555.8 258.2 555.3 258.2 554.8 258.2 554.3 258.1 553.8 258.1 553.3 258.1 552.8 258.1 552.3 258.1 551.8 258.1 551.3 258.1 550.8 258 550.3 258 549.8 258 549.3 258 548.8 258 548.3 258 547.8 258 547.3 257.9 546.8 257.9 546.3 257.9 545.8 257.9 545.3 257.9 544.8 257.9 544.3 257.8 543.8 257.8 543.3 257.8 542.8 257.8 542.3 257.8 541.8 257.8 541.3 257.8 540.8 257.7 540.3 257.7 539.8 257.7 539.3 257.7 538.8 257.7 538.3 257.7 537.8 257.7 537.3 257.6 536.8 257.6 536.3 257.6 535.8 257.6 535.3 257.6 534.8 257.6 534.3 257.6 533.8 257.5 533.3 257.5 532.8 257.5 532.3 257.5 531.8 257.5 531.3 257.5 530.8 257.5 530.3 257.4 529.8 257.4 529.3 257.4 528.8 257.4 528.3 257.4 527.8 257.4 527.3 257.3 526.8 257.3 526.3 257.3 525.8 257.3 525.3 257.3 524.8 257.3 524.3 257.3 523.8 257.2 523.3 257.2 522.8 257.2 522.3 257.2 521.8 257.2 521.3 257.2 520.8 257.2 520.3 257.1 519.8 257.1 519.3 257.1 518.8 257.1 518.3 257.1 517.8 257.1 517.3 257.1 516.8 257 516.3 257 515.8 257 515.3 257 514.8 257 514.3 257 513.8 256.9 513.3 256.9 512.8 256.9 512.3 256.9 511.8 256.9 511.3 256.9 510.8 256.9 510.3 256.8 509.8 256.8 509.3 256.8 508.8 256.8 508.3 256.8 507.8 256.8 507.3 256.8 506.8 256.7 506.3 256.7 505.8 256.7 505.3 256.7 504.8 256.7 504.3 256.7 503.8 256.7 503.3 256.6 502.8 256.6 502.3 256.6 501.8 256.6 501.3 256.6 500.8 256.6 500.3 256.6 499.8 256.5 499.3 256.5 498.8 256.5 498.3 256.5 497.8 256.5 497.3 256.5 496.8 256.4 496.3 256.4 495.8 256.4 495.3 256.4 494.8 256.4 494.3 256.4 493.8 256.4 493.3 256.3 492.8 256.3 492.3 256.3 491.8 256.3 491.3 256.3 490.8 256.3 490.3 256.3 489.8 256.2 489.3 256.2 488.8 256.2 488.3 256.2 487.8 256.2 487.3 256.2 486.8 256.2 486.3 256.1 485.8 256.1 485.3 256.1 484.8 256.1 484.3 256.1 483.8 256.1 483.3 256.1 482.8 256 482.3 256 481.8 256 481.3 256 480.8 256 480.3 256 479.8 255.9 479.3 255.9 478.8 255.9 478.3 255.9 477.8 255.9 477.3 255.9 476.8 255.9 476.3 255.8 475.8 255.8 475.3 255.8 474.8 255.8 474.3 255.8 473.8 255.8 473.3 255.8 472.8 255.7 472.3 255.7 471.8 255.7 471.3 255.7 470.8 255.7 470.3 255.7 469.8 255.7 469.3 255.6 468.8 255.6Z" fill="url(#gre)" stroke="none"/>
<path d="M468.8 255.2 469.3 255.2 469.8 255.2 470.3 255.2 470.8 255.2 471.3 255.2 471.8 255.2 472.3 255.2 472.8 255.2 473.3 255.2 473.8 255.2 474.3 255.2 474.8 255.2 475.3 255.3 475.8 255.3 476.3 255.3 476.8 255.3 477.3 255.3 477.8 255.3 478.3 255.3 478.8 255.3 479.3 255.3 479.8 255.3 480.3 255.3 480.8 255.3 481.3 255.3 481.8 255.3 482.3 255.3 482.8 255.3 483.3 255.3 483.8 255.3 484.3 255.3 484.8 255.3 485.3 255.3 485.8 255.3 486.3 255.3 486.8 255.3 487.3 255.3 487.8 255.3 488.3 255.2 488.8 255.2 489.3 255.2 489.8 255.2 490.3 255.2 490.8 255.2 491.3 255.2 491.8 255.1 492.3 255.1 492.8 255.1 493.3 255.1 493.8 255 494.3 255 494.8 255 495.3 255 495.8 254.9 496.3 254.9 496.8 254.8 497.3 254.8 497.8 254.8 498.3 254.7 498.8 254.7 499.3 254.6 499.8 254.6 500.3 254.5 500.8 254.4 501.3 254.4 501.8 254.3 502.3 254.2 502.8 254.2 503.3 254.1 503.8 254 504.3 253.9 504.8 253.8 505.3 253.7 505.8 253.6 506.3 253.5 506.8 253.4 507.3 253.3 507.8 253.1 508.3 253 508.8 252.9 509.3 252.8 509.8 252.6 510.3 252.5 510.8 252.3 511.3 252.1 511.8 252 512.3 251.8 512.8 251.6 513.3 251.5 513.8 251.3 514.3 251.1 514.8 250.9 515.3 250.7 515.8 250.4 516.3 250.2 516.8 250 517.3 249.8 517.8 249.5 518.3 249.3 518.8 249 519.3 248.8 519.8 248.5 520.3 248.2 520.8 247.9 521.3 247.6 521.8 247.3 522.3 247.1 522.8 246.7 523.3 246.4 523.8 246.1 524.3 245.8 524.8 245.5 525.3 245.1 525.8 244.8 526.3 244.4 526.8 244.1 527.3 243.7 527.8 243.4 528.3 243 528.8 242.7 529.3 242.3 529.8 241.9 530.3 241.5 530.8 241.2 531.3 240.8 531.8 240.4 532.3 240 532.8 239.6 533.3 239.3 533.8 238.9 534.3 238.5 534.8 238.1 535.3 237.7 535.8 237.3 536.3 237 536.8 236.6 537.3 236.2 537.8 235.8 538.3 235.5 538.8 235.1 539.3 234.8 539.8 234.4 540.3 234.1 540.8 233.7 541.3 233.4 541.8 233.1 542.3 232.8 542.8 232.5 543.3 232.2 543.8 231.9 544.3 231.6 544.8 231.4 545.3 231.1 545.8 230.9 546.3 230.6 546.8 230.4 547.3 230.2 547.8 230.1 548.3 229.9 548.8 229.7 549.3 229.6 549.8 229.5 550.3 229.4 550.8 229.3 551.3 229.2 551.8 229.2 552.3 229.1 552.8 229.1 553.3 229.1 553.8 229.1 554.3 229.2 554.8 229.2 555.3 229.3 555.8 229.4 556.3 229.5 556.8 229.6 557.3 229.7 557.8 229.9 558.3 230.1 558.8 230.2 559.3 230.4 559.8 230.7 560.3 230.9 560.8 231.1 561.3 231.4 561.8 231.6 562.3 231.9 562.8 232.2 563.3 232.5 563.8 232.8 564.3 233.2 564.8 233.5 565.3 233.8 565.8 234.2 566.3 234.6 566.8 234.9 567.3 235.3 567.8 235.7 568.3 236.1 568.8 236.5 569.3 236.9 569.8 237.3 570.3 237.7 570.8 238.1 571.3 238.5 571.8 238.9 572.3 239.3 572.8 239.7 573.3 240.1 573.8 240.5 574.3 240.9 574.8 241.4 575.3 241.8 575.8 242.2 576.3 242.6 576.8 243 577.3 243.4 577.8 243.8 578.3 244.2 578.8 244.6 579.3 245 579.8 245.4 580.3 245.8 580.8 246.1 581.3 246.5 581.8 246.9 582.3 247.2 582.8 247.6 583.3 247.9 583.8 248.3 584.3 248.6 584.8 249 585.3 249.3 585.8 249.6 586.3 249.9 586.8 250.2 587.3 250.5 587.8 250.8 588.3 251.1 588.8 251.4 589.3 251.7 589.8 251.9 590.3 252.2 590.8 252.5 591.3 252.7 591.8 253 592.3 253.2 592.8 253.4 593.3 253.6 593.8 253.9 594.3 254.1 594.8 254.3 595.3 254.5 595.8 254.7 596.3 254.9 596.8 255 597.3 255.2 597.8 255.4 598.3 255.6 598.8 255.7 599.3 255.9 599.8 256 600.3 256.2 600.8 256.3 601.3 256.4 601.8 256.6 602.3 256.7 602.8 256.8 603.3 256.9 603.8 257.1 604.3 257.2 604.8 257.3 605.3 257.4 605.8 257.5 606.3 257.6 606.8 257.7 607.3 257.7 607.8 257.8 608.3 257.9 608.8 258 609.3 258.1 609.8 258.1 610.3 258.2 610.8 258.3 611.3 258.3 611.8 258.4 612.3 258.5 612.8 258.5 613.3 258.6 613.8 258.6 614.3 258.7 614.8 258.7 615.3 258.8 615.8 258.8 616.3 258.9 616.8 258.9 617.3 259 617.8 259 618.3 259.1 618.8 259.1 619.3 259.1 619.8 259.2 620.3 259.2 620.8 259.2 621.3 259.3 621.8 259.3 622.3 259.3 622.8 259.4 623.3 259.4 623.8 259.4 624.3 259.5 624.8 259.5 625.3 259.5 625.8 259.6 626.3 259.6 626.8 259.6 627.3 259.6 627.8 259.7 628.3 259.7 628.8 259.7 629.3 259.7 629.8 259.8 630.3 259.8 630.8 259.8 631.3 259.8 631.8 259.9 632.3 259.9 632.8 259.9 633.3 259.9 633.8 260 634.3 260 634.8 260 635.3 260 635.8 260 636.3 260.1 636.8 260.1 637.3 260.1 637.8 260.1 638.3 260.1 638.8 260.2 639.3 260.2 639.8 260.2 640.3 260.2 640.8 260.2 641.3 260.3 641.8 260.3 642.3 260.3 642.8 260.3 643.3 260.3 643.8 260.4 644.3 260.4 644.8 260.4 645.3 260.4 645.8 260.4 646.3 260.5 646.8 260.5 647.3 260.5 647.8 260.5 648.3 260.5 648.8 260.6 649.3 260.6 649.8 260.6 650.3 260.6 650.8 260.6 651.3 260.6 651.8 260.7 652.3 260.7 652.8 260.7 653.3 260.7 653.8 260.7 654.3 260.8 654.8 260.8 655.3 260.8 655.8 260.8 656.3 260.8 656.8 260.8 657.3 260.9" stroke="#9a9a9a" stroke-width="0.7" fill="none"/>
<path d="M559.3 258 559.8 258 560.3 258.1 560.8 258.1 561.3 258.1 561.8 258.1 562.3 258.1 562.8 258.1 563.3 258.1 563.8 258.1 564.3 258.1 564.8 258.1 565.3 258.1 565.8 258.1 566.3 258.1 566.8 258.1 567.3 258.1 567.8 258.1 568.3 258.1 568.8 258.1 569.3 258.1 569.8 258.1 570.3 258.1 570.8 258.1 571.3 258.1 571.8 258.1 572.3 258.1 572.8 258.1 573.3 258 573.8 258 574.3 258 574.8 257.9 575.3 257.9 575.8 257.8 576.3 257.8 576.8 257.7 577.3 257.6 577.8 257.5 578.3 257.4 578.8 257.2 579.3 257.1 579.8 256.9 580.3 256.7 580.8 256.5 581.3 256.2 581.8 255.9 582.3 255.6 582.8 255.2 583.3 254.8 583.8 254.3 584.3 253.8 584.8 253.3 585.3 252.7 585.8 252.1 586.3 251.4 586.8 250.6 587.3 249.8 587.8 249 588.3 248.1 588.8 247.1 589.3 246.2 589.8 245.1 590.3 244.1 590.8 242.9 591.3 241.8 591.8 240.7 592.3 239.5 592.8 238.3 593.3 237.1 593.8 236 594.3 234.8 594.8 233.7 595.3 232.6 595.8 231.6 596.3 230.7 596.8 229.8 597.3 229 597.8 228.3 598.3 227.7 598.8 227.2 599.3 226.8 599.8 226.6 600.3 226.5 600.8 226.5 601.3 226.7 601.8 227 602.3 227.4 602.8 227.9 603.3 228.6 603.8 229.3 604.3 230.2 604.8 231.1 605.3 232.1 605.8 233.2 606.3 234.3 606.8 235.4 607.3 236.6 607.8 237.8 608.3 239 608.8 240.2 609.3 241.4 609.8 242.6 610.3 243.7 610.8 244.9 611.3 246 611.8 247 612.3 248 612.8 249 613.3 249.9 613.8 250.8 614.3 251.6 614.8 252.4 615.3 253.1 615.8 253.7 616.3 254.3 616.8 254.9 617.3 255.4 617.8 255.9 618.3 256.3 618.8 256.7 619.3 257.1 619.8 257.4 620.3 257.7 620.8 257.9 621.3 258.2 621.8 258.4 622.3 258.6 622.8 258.7 623.3 258.9 623.8 259 624.3 259.1 624.8 259.2 625.3 259.3 625.8 259.4 626.3 259.5 626.8 259.5 627.3 259.6 627.8 259.7 628.3 259.7 628.8 259.8 629.3 259.8 629.8 259.8 630.3 259.9 630.8 259.9 631.3 260 631.8 260 632.3 260 632.8 260 633.3 260.1 633.8 260.1 634.3 260.1 634.8 260.2 635.3 260.2 635.8 260.2 636.3 260.2 636.8 260.3 637.3 260.3 637.8 260.3 638.3 260.3 638.8 260.3 639.3 260.4 639.8 260.4 640.3 260.4 640.8 260.4 641.3 260.4 641.8 260.5 641.8 260.7 641.3 260.7 640.8 260.7 640.3 260.7 639.8 260.7 639.3 260.6 638.8 260.6 638.3 260.6 637.8 260.6 637.3 260.6 636.8 260.6 636.3 260.6 635.8 260.5 635.3 260.5 634.8 260.5 634.3 260.5 633.8 260.5 633.3 260.5 632.8 260.5 632.3 260.4 631.8 260.4 631.3 260.4 630.8 260.4 630.3 260.4 629.8 260.4 629.3 260.4 628.8 260.3 628.3 260.3 627.8 260.3 627.3 260.3 626.8 260.3 626.3 260.3 625.8 260.3 625.3 260.2 624.8 260.2 624.3 260.2 623.8 260.2 623.3 260.2 622.8 260.2 622.3 260.1 621.8 260.1 621.3 260.1 620.8 260.1 620.3 260.1 619.8 260.1 619.3 260.1 618.8 260 618.3 260 617.8 260 617.3 260 616.8 260 616.3 260 615.8 260 615.3 259.9 614.8 259.9 614.3 259.9 613.8 259.9 613.3 259.9 612.8 259.9 612.3 259.9 611.8 259.8 611.3 259.8 610.8 259.8 610.3 259.8 609.8 259.8 609.3 259.8 608.8 259.7 608.3 259.7 607.8 259.7 607.3 259.7 606.8 259.7 606.3 259.7 605.8 259.7 605.3 259.6 604.8 259.6 604.3 259.6 603.8 259.6 603.3 259.6 602.8 259.6 602.3 259.6 601.8 259.5 601.3 259.5 600.8 259.5 600.3 259.5 599.8 259.5 599.3 259.5 598.8 259.5 598.3 259.4 597.8 259.4 597.3 259.4 596.8 259.4 596.3 259.4 595.8 259.4 595.3 259.4 594.8 259.3 594.3 259.3 593.8 259.3 593.3 259.3 592.8 259.3 592.3 259.3 591.8 259.2 591.3 259.2 590.8 259.2 590.3 259.2 589.8 259.2 589.3 259.2 588.8 259.2 588.3 259.1 587.8 259.1 587.3 259.1 586.8 259.1 586.3 259.1 585.8 259.1 585.3 259.1 584.8 259 584.3 259 583.8 259 583.3 259 582.8 259 582.3 259 581.8 259 581.3 258.9 580.8 258.9 580.3 258.9 579.8 258.9 579.3 258.9 578.8 258.9 578.3 258.9 577.8 258.8 577.3 258.8 576.8 258.8 576.3 258.8 575.8 258.8 575.3 258.8 574.8 258.7 574.3 258.7 573.8 258.7 573.3 258.7 572.8 258.7 572.3 258.7 571.8 258.7 571.3 258.6 570.8 258.6 570.3 258.6 569.8 258.6 569.3 258.6 568.8 258.6 568.3 258.6 567.8 258.5 567.3 258.5 566.8 258.5 566.3 258.5 565.8 258.5 565.3 258.5 564.8 258.5 564.3 258.4 563.8 258.4 563.3 258.4 562.8 258.4 562.3 258.4 561.8 258.4 561.3 258.3 560.8 258.3 560.3 258.3 559.8 258.3 559.3 258.3Z" fill="url(#gor)" stroke="none"/>
<path d="M559.3 258 559.8 258 560.3 258.1 560.8 258.1 561.3 258.1 561.8 258.1 562.3 258.1 562.8 258.1 563.3 258.1 563.8 258.1 564.3 258.1 564.8 258.1 565.3 258.1 565.8 258.1 566.3 258.1 566.8 258.1 567.3 258.1 567.8 258.1 568.3 258.1 568.8 258.1 569.3 258.1 569.8 258.1 570.3 258.1 570.8 258.1 571.3 258.1 571.8 258.1 572.3 258.1 572.8 258.1 573.3 258 573.8 258 574.3 258 574.8 257.9 575.3 257.9 575.8 257.8 576.3 257.8 576.8 257.7 577.3 257.6 577.8 257.5 578.3 257.4 578.8 257.2 579.3 257.1 579.8 256.9 580.3 256.7 580.8 256.5 581.3 256.2 581.8 255.9 582.3 255.6 582.8 255.2 583.3 254.8 583.8 254.3 584.3 253.8 584.8 253.3 585.3 252.7 585.8 252.1 586.3 251.4 586.8 250.6 587.3 249.8 587.8 249 588.3 248.1 588.8 247.1 589.3 246.2 589.8 245.1 590.3 244.1 590.8 242.9 591.3 241.8 591.8 240.7 592.3 239.5 592.8 238.3 593.3 237.1 593.8 236 594.3 234.8 594.8 233.7 595.3 232.6 595.8 231.6 596.3 230.7 596.8 229.8 597.3 229 597.8 228.3 598.3 227.7 598.8 227.2 599.3 226.8 599.8 226.6 600.3 226.5 600.8 226.5 601.3 226.7 601.8 227 602.3 227.4 602.8 227.9 603.3 228.6 603.8 229.3 604.3 230.2 604.8 231.1 605.3 232.1 605.8 233.2 606.3 234.3 606.8 235.4 607.3 236.6 607.8 237.8 608.3 239 608.8 240.2 609.3 241.4 609.8 242.6 610.3 243.7 610.8 244.9 611.3 246 611.8 247 612.3 248 612.8 249 613.3 249.9 613.8 250.8 614.3 251.6 614.8 252.4 615.3 253.1 615.8 253.7 616.3 254.3 616.8 254.9 617.3 255.4 617.8 255.9 618.3 256.3 618.8 256.7 619.3 257.1 619.8 257.4 620.3 257.7 620.8 257.9 621.3 258.2 621.8 258.4 622.3 258.6 622.8 258.7 623.3 258.9 623.8 259 624.3 259.1 624.8 259.2 625.3 259.3 625.8 259.4 626.3 259.5 626.8 259.5 627.3 259.6 627.8 259.7 628.3 259.7 628.8 259.8 629.3 259.8 629.8 259.8 630.3 259.9 630.8 259.9 631.3 260 631.8 260 632.3 260 632.8 260 633.3 260.1 633.8 260.1 634.3 260.1 634.8 260.2 635.3 260.2 635.8 260.2 636.3 260.2 636.8 260.3 637.3 260.3 637.8 260.3 638.3 260.3 638.8 260.3 639.3 260.4 639.8 260.4 640.3 260.4 640.8 260.4 641.3 260.4 641.8 260.5" stroke="#9a9a9a" stroke-width="0.7" fill="none"/>
<path d="M570.3 258.4 570.8 258.4 571.3 258.4 571.8 258.4 572.3 258.4 572.8 258.4 573.3 258.4 573.8 258.4 574.3 258.4 574.8 258.4 575.3 258.4 575.8 258.5 576.3 258.5 576.8 258.5 577.3 258.5 577.8 258.5 578.3 258.5 578.8 258.5 579.3 258.5 579.8 258.5 580.3 258.5 580.8 258.5 581.3 258.5 581.8 258.5 582.3 258.5 582.8 258.5 583.3 258.5 583.8 258.5 584.3 258.5 584.8 258.5 585.3 258.5 585.8 258.5 586.3 258.5 586.8 258.5 587.3 258.5 587.8 258.5 588.3 258.5 588.8 258.5 589.3 258.5 589.8 258.5 590.3 258.5 590.8 258.4 591.3 258.4 591.8 258.4 592.3 258.4 592.8 258.4 593.3 258.4 593.8 258.3 594.3 258.3 594.8 258.3 595.3 258.3 595.8 258.2 596.3 258.2 596.8 258.1 597.3 258.1 597.8 258.1 598.3 258 598.8 257.9 599.3 257.9 599.8 257.8 600.3 257.7 600.8 257.5 601.3 257.4 601.8 257.2 602.3 257 602.8 256.8 603.3 256.5 603.8 256.2 604.3 255.7 604.8 255.2 605.3 254.6 605.8 253.9 606.3 253.1 606.8 252.1 607.3 250.9 607.8 249.6 608.3 248 608.8 246.3 609.3 244.3 609.8 242.2 610.3 239.8 610.8 237.2 611.3 234.4 611.8 231.5 612.3 228.4 612.8 225.3 613.3 222.1 613.8 219 614.3 216 614.8 213.1 615.3 210.5 615.8 208.3 616.3 206.5 616.8 205.3 617.3 204.6 617.8 204.6 618.3 205.1 618.8 206.3 619.3 208 619.8 210.2 620.3 212.7 620.8 215.6 621.3 218.6 621.8 221.7 622.3 224.9 622.8 228.1 623.3 231.2 623.8 234.2 624.3 237 624.8 239.7 625.3 242.1 625.8 244.4 626.3 246.4 626.8 248.2 627.3 249.8 627.8 251.2 628.3 252.5 628.8 253.5 629.3 254.4 629.8 255.2 630.3 255.9 630.8 256.4 631.3 256.9 631.8 257.3 632.3 257.6 632.8 257.9 633.3 258.1 633.8 258.3 634.3 258.5 634.8 258.7 635.3 258.8 635.8 258.9 636.3 259 636.8 259.1 637.3 259.2 637.8 259.3 638.3 259.4 638.8 259.4 639.3 259.5 639.8 259.6 640.3 259.6 640.8 259.7 641.3 259.7 641.8 259.8 642.3 259.8 642.8 259.9 643.3 259.9 643.8 260 644.3 260 644.8 260.1 645.3 260.1 645.8 260.1 646.3 260.2 646.8 260.2 647.3 260.3 647.8 260.3 648.3 260.3 648.8 260.4 649.3 260.4 649.8 260.4 650.3 260.4 650.8 260.5 651.3 260.5 651.8 260.5 652.3 260.6 652.8 260.6 653.3 260.6 653.8 260.6 654.3 260.7 654.8 260.7 655.3 260.7 655.8 260.7 656.3 260.8 656.8 260.8 657.3 260.8 657.3 261.2 656.8 261.2 656.3 261.1 655.8 261.1 655.3 261.1 654.8 261.1 654.3 261.1 653.8 261.1 653.3 261.1 652.8 261 652.3 261 651.8 261 651.3 261 650.8 261 650.3 261 649.8 261 649.3 260.9 648.8 260.9 648.3 260.9 647.8 260.9 647.3 260.9 646.8 260.9 646.3 260.9 645.8 260.8 645.3 260.8 644.8 260.8 644.3 260.8 643.8 260.8 643.3 260.8 642.8 260.8 642.3 260.7 641.8 260.7 641.3 260.7 640.8 260.7 640.3 260.7 639.8 260.7 639.3 260.6 638.8 260.6 638.3 260.6 637.8 260.6 637.3 260.6 636.8 260.6 636.3 260.6 635.8 260.5 635.3 260.5 634.8 260.5 634.3 260.5 633.8 260.5 633.3 260.5 632.8 260.5 632.3 260.4 631.8 260.4 631.3 260.4 630.8 260.4 630.3 260.4 629.8 260.4 629.3 260.4 628.8 260.3 628.3 260.3 627.8 260.3 627.3 260.3 626.8 260.3 626.3 260.3 625.8 260.3 625.3 260.2 624.8 260.2 624.3 260.2 623.8 260.2 623.3 260.2 622.8 260.2 622.3 260.1 621.8 260.1 621.3 260.1 620.8 260.1 620.3 260.1 619.8 260.1 619.3 260.1 618.8 260 618.3 260 617.8 260 617.3 260 616.8 260 616.3 260 615.8 260 615.3 259.9 614.8 259.9 614.3 259.9 613.8 259.9 613.3 259.9 612.8 259.9 612.3 259.9 611.8 259.8 611.3 259.8 610.8 259.8 610.3 259.8 609.8 259.8 609.3 259.8 608.8 259.7 608.3 259.7 607.8 259.7 607.3 259.7 606.8 259.7 606.3 259.7 605.8 259.7 605.3 259.6 604.8 259.6 604.3 259.6 603.8 259.6 603.3 259.6 602.8 259.6 602.3 259.6 601.8 259.5 601.3 259.5 600.8 259.5 600.3 259.5 599.8 259.5 599.3 259.5 598.8 259.5 598.3 259.4 597.8 259.4 597.3 259.4 596.8 259.4 596.3 259.4 595.8 259.4 595.3 259.4 594.8 259.3 594.3 259.3 593.8 259.3 593.3 259.3 592.8 259.3 592.3 259.3 591.8 259.2 591.3 259.2 590.8 259.2 590.3 259.2 589.8 259.2 589.3 259.2 588.8 259.2 588.3 259.1 587.8 259.1 587.3 259.1 586.8 259.1 586.3 259.1 585.8 259.1 585.3 259.1 584.8 259 584.3 259 583.8 259 583.3 259 582.8 259 582.3 259 581.8 259 581.3 258.9 580.8 258.9 580.3 258.9 579.8 258.9 579.3 258.9 578.8 258.9 578.3 258.9 577.8 258.8 577.3 258.8 576.8 258.8 576.3 258.8 575.8 258.8 575.3 258.8 574.8 258.7 574.3 258.7 573.8 258.7 573.3 258.7 572.8 258.7 572.3 258.7 571.8 258.7 571.3 258.6 570.8 258.6 570.3 258.6Z" fill="url(#gbl)" stroke="none"/>
<path d="M570.3 258.4 570.8 258.4 571.3 258.4 571.8 258.4 572.3 258.4 572.8 258.4 573.3 258.4 573.8 258.4 574.3 258.4 574.8 258.4 575.3 258.4 575.8 258.5 576.3 258.5 576.8 258.5 577.3 258.5 577.8 258.5 578.3 258.5 578.8 258.5 579.3 258.5 579.8 258.5 580.3 258.5 580.8 258.5 581.3 258.5 581.8 258.5 582.3 258.5 582.8 258.5 583.3 258.5 583.8 258.5 584.3 258.5 584.8 258.5 585.3 258.5 585.8 258.5 586.3 258.5 586.8 258.5 587.3 258.5 587.8 258.5 588.3 258.5 588.8 258.5 589.3 258.5 589.8 258.5 590.3 258.5 590.8 258.4 591.3 258.4 591.8 258.4 592.3 258.4 592.8 258.4 593.3 258.4 593.8 258.3 594.3 258.3 594.8 258.3 595.3 258.3 595.8 258.2 596.3 258.2 596.8 258.1 597.3 258.1 597.8 258.1 598.3 258 598.8 257.9 599.3 257.9 599.8 257.8 600.3 257.7 600.8 257.5 601.3 257.4 601.8 257.2 602.3 257 602.8 256.8 603.3 256.5 603.8 256.2 604.3 255.7 604.8 255.2 605.3 254.6 605.8 253.9 606.3 253.1 606.8 252.1 607.3 250.9 607.8 249.6 608.3 248 608.8 246.3 609.3 244.3 609.8 242.2 610.3 239.8 610.8 237.2 611.3 234.4 611.8 231.5 612.3 228.4 612.8 225.3 613.3 222.1 613.8 219 614.3 216 614.8 213.1 615.3 210.5 615.8 208.3 616.3 206.5 616.8 205.3 617.3 204.6 617.8 204.6 618.3 205.1 618.8 206.3 619.3 208 619.8 210.2 620.3 212.7 620.8 215.6 621.3 218.6 621.8 221.7 622.3 224.9 622.8 228.1 623.3 231.2 623.8 234.2 624.3 237 624.8 239.7 625.3 242.1 625.8 244.4 626.3 246.4 626.8 248.2 627.3 249.8 627.8 251.2 628.3 252.5 628.8 253.5 629.3 254.4 629.8 255.2 630.3 255.9 630.8 256.4 631.3 256.9 631.8 257.3 632.3 257.6 632.8 257.9 633.3 258.1 633.8 258.3 634.3 258.5 634.8 258.7 635.3 258.8 635.8 258.9 636.3 259 636.8 259.1 637.3 259.2 637.8 259.3 638.3 259.4 638.8 259.4 639.3 259.5 639.8 259.6 640.3 259.6 640.8 259.7 641.3 259.7 641.8 259.8 642.3 259.8 642.8 259.9 643.3 259.9 643.8 260 644.3 260 644.8 260.1 645.3 260.1 645.8 260.1 646.3 260.2 646.8 260.2 647.3 260.3 647.8 260.3 648.3 260.3 648.8 260.4 649.3 260.4 649.8 260.4 650.3 260.4 650.8 260.5 651.3 260.5 651.8 260.5 652.3 260.6 652.8 260.6 653.3 260.6 653.8 260.6 654.3 260.7 654.8 260.7 655.3 260.7 655.8 260.7 656.3 260.8 656.8 260.8 657.3 260.8" stroke="#9a9a9a" stroke-width="0.7" fill="none"/>
<line x1="468.8" y1="255.62" x2="657.8" y2="261.19" stroke="#8a8a8a" stroke-width="0.8"/>
<path d="M468.8 255.2 469.8 254.3 470.8 255.1 471.8 255.4 472.8 254.5 473.8 254.3 474.8 254.5 475.8 253.8 476.8 254.5 477.8 254.4 478.8 254.9 479.8 255.9 480.8 255.9 481.8 254.3 482.8 255.3 483.8 255 484.8 255.4 485.8 254.7 486.8 254.9 487.8 254.3 488.8 254 489.8 255.4 490.8 255.8 491.8 255.2 492.8 254.9 493.8 254.7 494.8 254 495.8 252.7 496.8 254.9 497.8 254.4 498.8 253.6 499.8 253.1 500.8 255 501.8 252.1 502.8 255.1 503.8 254 504.8 255.3 505.8 252.4 506.8 252.8 507.8 252.1 508.8 252.4 509.8 251.8 510.8 251 511.8 252.3 512.8 250.3 513.8 250.2 514.8 250.7 515.8 249.3 516.8 249 517.8 249.2 518.8 248.1 519.8 246.7 520.8 247.2 521.8 246.5 522.8 247.6 523.8 244.5 524.8 245.7 525.8 243.4 526.8 243.1 527.8 242.4 528.8 242.2 529.8 242 530.8 242.1 531.8 239.2 532.8 240.2 533.8 239.1 534.8 238.2 535.8 236 536.8 236.7 537.8 235 538.8 234.7 539.8 233.5 540.8 233.6 541.8 233.4 542.8 232.8 543.8 231 544.8 231.5 545.8 231.4 546.8 228.8 547.8 230.6 548.8 227.8 549.8 229.2 550.8 229 551.8 229.7 552.8 228.5 553.8 227.9 554.8 227.6 555.8 227.4 556.8 229.4 557.8 228.8 558.8 228.7 559.8 230.2 560.8 229.5 561.8 230.3 562.8 230.8 563.8 233.3 564.8 233.8 565.8 233 566.8 232.4 567.8 234.8 568.8 235.3 569.8 236.3 570.8 237.3 571.8 237.2 572.8 239.1 573.8 239.8 574.8 239.9 575.8 240 576.8 240.5 577.8 242.1 578.8 240.9 579.8 242.1 580.8 241.7 581.8 241.2 582.8 242.8 583.8 241.8 584.8 241.2 585.8 241.1 586.8 237.8 587.8 237.6 588.8 236.2 589.8 234.7 590.8 230.8 591.8 230 592.8 227.1 593.8 225.5 594.8 222.8 595.8 219.9 596.8 219.2 597.8 215.4 598.8 213.6 599.8 212.8 600.8 211.9 601.8 212.8 602.8 211.7 603.8 214.3 604.8 215.8 605.8 217.4 606.8 217 607.8 218.9 608.8 216.7 609.8 216 610.8 212.4 611.8 210.5 612.8 206.9 613.8 205 614.8 200.5 615.8 196.2 616.8 196.3 617.8 197 618.8 199.3 619.8 204.5 620.8 210.4 621.8 217.1 622.8 223 623.8 231 624.8 238.1 625.8 243.2 626.8 245.8 627.8 248.6 628.8 251.5 629.8 254.3 630.8 255.1 631.8 255.2 632.8 256.7 633.8 256.7 634.8 257.7 635.8 257.2 636.8 256.5 637.8 258 638.8 258.8 639.8 257.4 640.8 258.4 641.8 259.4 642.8 258.4 643.8 258.3 644.8 260.7 645.8 259.8 646.8 260 647.8 258.4 648.8 260.7 649.8 257.9 650.8 259 651.8 260.2 652.8 260.7 653.8 258.8 654.8 259.1 655.8 259.9 656.8 258.1" stroke="#e0e0e0" stroke-width="1" fill="none"/>
<path d="M468.8 254.6 469.3 254.6 469.8 254.6 470.3 254.6 470.8 254.6 471.3 254.6 471.8 254.6 472.3 254.7 472.8 254.7 473.3 254.7 473.8 254.7 474.3 254.7 474.8 254.7 475.3 254.7 475.8 254.7 476.3 254.7 476.8 254.7 477.3 254.7 477.8 254.7 478.3 254.7 478.8 254.7 479.3 254.7 479.8 254.7 480.3 254.7 480.8 254.7 481.3 254.7 481.8 254.7 482.3 254.7 482.8 254.7 483.3 254.7 483.8 254.7 484.3 254.7 484.8 254.7 485.3 254.7 485.8 254.7 486.3 254.7 486.8 254.7 487.3 254.7 487.8 254.7 488.3 254.7 488.8 254.7 489.3 254.7 489.8 254.6 490.3 254.6 490.8 254.6 491.3 254.6 491.8 254.6 492.3 254.5 492.8 254.5 493.3 254.5 493.8 254.5 494.3 254.4 494.8 254.4 495.3 254.4 495.8 254.3 496.3 254.3 496.8 254.3 497.3 254.2 497.8 254.2 498.3 254.1 498.8 254.1 499.3 254 499.8 254 500.3 253.9 500.8 253.8 501.3 253.8 501.8 253.7 502.3 253.6 502.8 253.6 503.3 253.5 503.8 253.4 504.3 253.3 504.8 253.2 505.3 253.1 505.8 253 506.3 252.9 506.8 252.8 507.3 252.7 507.8 252.5 508.3 252.4 508.8 252.3 509.3 252.1 509.8 252 510.3 251.9 510.8 251.7 511.3 251.5 511.8 251.4 512.3 251.2 512.8 251 513.3 250.8 513.8 250.6 514.3 250.5 514.8 250.2 515.3 250 515.8 249.8 516.3 249.6 516.8 249.4 517.3 249.1 517.8 248.9 518.3 248.6 518.8 248.4 519.3 248.1 519.8 247.9 520.3 247.6 520.8 247.3 521.3 247 521.8 246.7 522.3 246.4 522.8 246.1 523.3 245.8 523.8 245.5 524.3 245.2 524.8 244.8 525.3 244.5 525.8 244.1 526.3 243.8 526.8 243.4 527.3 243.1 527.8 242.7 528.3 242.4 528.8 242 529.3 241.6 529.8 241.3 530.3 240.9 530.8 240.5 531.3 240.1 531.8 239.7 532.3 239.4 532.8 239 533.3 238.6 533.8 238.2 534.3 237.8 534.8 237.4 535.3 237 535.8 236.7 536.3 236.3 536.8 235.9 537.3 235.5 537.8 235.1 538.3 234.8 538.8 234.4 539.3 234.1 539.8 233.7 540.3 233.4 540.8 233 541.3 232.7 541.8 232.4 542.3 232 542.8 231.7 543.3 231.4 543.8 231.1 544.3 230.9 544.8 230.6 545.3 230.4 545.8 230.1 546.3 229.9 546.8 229.7 547.3 229.5 547.8 229.3 548.3 229.1 548.8 229 549.3 228.8 549.8 228.7 550.3 228.6 550.8 228.5 551.3 228.4 551.8 228.4 552.3 228.3 552.8 228.3 553.3 228.3 553.8 228.3 554.3 228.3 554.8 228.4 555.3 228.4 555.8 228.5 556.3 228.6 556.8 228.7 557.3 228.8 557.8 229 558.3 229.1 558.8 229.3 559.3 229.5 559.8 229.7 560.3 229.9 560.8 230.2 561.3 230.4 561.8 230.7 562.3 230.9 562.8 231.2 563.3 231.5 563.8 231.8 564.3 232.1 564.8 232.5 565.3 232.8 565.8 233.1 566.3 233.5 566.8 233.8 567.3 234.2 567.8 234.5 568.3 234.9 568.8 235.3 569.3 235.7 569.8 236 570.3 236.4 570.8 236.8 571.3 237.2 571.8 237.5 572.3 237.9 572.8 238.3 573.3 238.6 573.8 239 574.3 239.4 574.8 239.7 575.3 240 575.8 240.3 576.3 240.7 576.8 240.9 577.3 241.2 577.8 241.5 578.3 241.7 578.8 241.9 579.3 242.1 579.8 242.2 580.3 242.3 580.8 242.4 581.3 242.4 581.8 242.4 582.3 242.3 582.8 242.2 583.3 242.1 583.8 241.8 584.3 241.6 584.8 241.2 585.3 240.8 585.8 240.3 586.3 239.8 586.8 239.2 587.3 238.5 587.8 237.7 588.3 236.9 588.8 236 589.3 235 589.8 234 590.3 232.9 590.8 231.8 591.3 230.6 591.8 229.4 592.3 228.1 592.8 226.9 593.3 225.6 593.8 224.3 594.3 223 594.8 221.8 595.3 220.6 595.8 219.4 596.3 218.3 596.8 217.2 597.3 216.3 597.8 215.4 598.3 214.7 598.8 214 599.3 213.5 599.8 213.1 600.3 212.9 600.8 212.7 601.3 212.7 601.8 212.9 602.3 213.1 602.8 213.4 603.3 213.8 603.8 214.3 604.3 214.9 604.8 215.4 605.3 216 605.8 216.5 606.3 216.9 606.8 217.3 607.3 217.5 607.8 217.6 608.3 217.6 608.8 217.3 609.3 216.9 609.8 216.2 610.3 215.2 610.8 214.1 611.3 212.7 611.8 211.2 612.3 209.5 612.8 207.6 613.3 205.7 613.8 203.7 614.3 201.8 614.8 200 615.3 198.4 615.8 197.1 616.3 196.2 616.8 195.8 617.3 195.9 617.8 196.5 618.3 197.8 618.8 199.5 619.3 201.8 619.8 204.4 620.3 207.4 620.8 210.7 621.3 214.1 621.8 217.6 622.3 221.1 622.8 224.5 623.3 227.9 623.8 231.1 624.3 234.1 624.8 237 625.3 239.6 625.8 242 626.3 244.1 626.8 246 627.3 247.7 627.8 249.2 628.3 250.5 628.8 251.7 629.3 252.6 629.8 253.5 630.3 254.2 630.8 254.8 631.3 255.3 631.8 255.7 632.3 256.1 632.8 256.4 633.3 256.7 633.8 256.9 634.3 257.1 634.8 257.3 635.3 257.4 635.8 257.5 636.3 257.7 636.8 257.8 637.3 257.9 637.8 258 638.3 258.1 638.8 258.2 639.3 258.2 639.8 258.3 640.3 258.4 640.8 258.5 641.3 258.5 641.8 258.6 642.3 258.7 642.8 258.7 643.3 258.8 643.8 258.8 644.3 258.9 644.8 258.9 645.3 259 645.8 259 646.3 259.1 646.8 259.1 647.3 259.2 647.8 259.2 648.3 259.3 648.8 259.3 649.3 259.3 649.8 259.4 650.3 259.4 650.8 259.4 651.3 259.5 651.8 259.5 652.3 259.6 652.8 259.6 653.3 259.6 653.8 259.7 654.3 259.7 654.8 259.7 655.3 259.7 655.8 259.8 656.3 259.8 656.8 259.8 657.3 259.9" stroke="#9c9c9c" stroke-width="0.65" fill="none"/>
<path d="M468.8 253.3 469.3 253.3 469.8 253.3 470.3 253.3 470.8 253.3 471.3 253.3 471.8 253.3 472.3 253.4 472.8 253.4 473.3 253.4 473.8 253.4 474.3 253.4 474.8 253.4 475.3 253.4 475.8 253.4 476.3 253.4 476.8 253.4 477.3 253.4 477.8 253.4 478.3 253.4 478.8 253.4 479.3 253.4 479.8 253.4 480.3 253.4 480.8 253.4 481.3 253.4 481.8 253.4 482.3 253.4 482.8 253.4 483.3 253.4 483.8 253.4 484.3 253.4 484.8 253.4 485.3 253.4 485.8 253.4 486.3 253.4 486.8 253.4 487.3 253.4 487.8 253.4 488.3 253.4 488.8 253.4 489.3 253.4 489.8 253.3 490.3 253.3 490.8 253.3 491.3 253.3 491.8 253.3 492.3 253.2 492.8 253.2 493.3 253.2 493.8 253.2 494.3 253.1 494.8 253.1 495.3 253.1 495.8 253 496.3 253 496.8 253 497.3 252.9 497.8 252.9 498.3 252.8 498.8 252.8 499.3 252.7 499.8 252.7 500.3 252.6 500.8 252.5 501.3 252.5 501.8 252.4 502.3 252.3 502.8 252.3 503.3 252.2 503.8 252.1 504.3 252 504.8 251.9 505.3 251.8 505.8 251.7 506.3 251.6 506.8 251.5 507.3 251.4 507.8 251.2 508.3 251.1 508.8 251 509.3 250.8 509.8 250.7 510.3 250.6 510.8 250.4 511.3 250.2 511.8 250.1 512.3 249.9 512.8 249.7 513.3 249.5 513.8 249.3 514.3 249.2 514.8 248.9 515.3 248.7 515.8 248.5 516.3 248.3 516.8 248.1 517.3 247.8 517.8 247.6 518.3 247.3 518.8 247.1 519.3 246.8 519.8 246.6 520.3 246.3 520.8 246 521.3 245.7 521.8 245.4 522.3 245.1 522.8 244.8 523.3 244.5 523.8 244.2 524.3 243.9 524.8 243.5 525.3 243.2 525.8 242.8 526.3 242.5 526.8 242.1 527.3 241.8 527.8 241.4 528.3 241.1 528.8 240.7 529.3 240.3 529.8 240 530.3 239.6 530.8 239.2 531.3 238.8 531.8 238.4 532.3 238.1 532.8 237.7 533.3 237.3 533.8 236.9 534.3 236.5 534.8 236.1 535.3 235.7 535.8 235.4 536.3 235 536.8 234.6 537.3 234.2 537.8 233.8 538.3 233.5 538.8 233.1 539.3 232.8 539.8 232.4 540.3 232.1 540.8 231.7 541.3 231.4 541.8 231.1 542.3 230.7 542.8 230.4 543.3 230.1 543.8 229.8 544.3 229.6 544.8 229.3 545.3 229.1 545.8 228.8 546.3 228.6 546.8 228.4 547.3 228.2 547.8 228 548.3 227.8 548.8 227.7 549.3 227.5 549.8 227.4 550.3 227.3 550.8 227.2 551.3 227.1 551.8 227.1 552.3 227 552.8 227 553.3 227 553.8 227 554.3 227 554.8 227.1 555.3 227.1 555.8 227.2 556.3 227.3 556.8 227.4 557.3 227.5 557.8 227.7 558.3 227.8 558.8 228 559.3 228.2 559.8 228.4 560.3 228.6 560.8 228.9 561.3 229.1 561.8 229.4 562.3 229.6 562.8 229.9 563.3 230.2 563.8 230.5 564.3 230.8 564.8 231.2 565.3 231.5 565.8 231.8 566.3 232.2 566.8 232.5 567.3 232.9 567.8 233.2 568.3 233.6 568.8 234 569.3 234.4 569.8 234.7 570.3 235.1 570.8 235.5 571.3 235.9 571.8 236.2 572.3 236.6 572.8 237 573.3 237.3 573.8 237.7 574.3 238.1 574.8 238.4 575.3 238.7 575.8 239 576.3 239.4 576.8 239.6 577.3 239.9 577.8 240.2 578.3 240.4 578.8 240.6 579.3 240.8 579.8 240.9 580.3 241 580.8 241.1 581.3 241.1 581.8 241.1 582.3 241 582.8 240.9 583.3 240.8 583.8 240.5 584.3 240.3 584.8 239.9 585.3 239.5 585.8 239 586.3 238.5 586.8 237.9 587.3 237.2 587.8 236.4 588.3 235.6 588.8 234.7 589.3 233.7 589.8 232.7 590.3 231.6 590.8 230.5 591.3 229.3 591.8 228.1 592.3 226.8 592.8 225.6 593.3 224.3 593.8 223 594.3 221.7 594.8 220.5 595.3 219.3 595.8 218.1 596.3 217 596.8 215.9 597.3 215 597.8 214.1 598.3 213.4 598.8 212.7 599.3 212.2 599.8 211.8 600.3 211.6 600.8 211.4 601.3 211.4 601.8 211.6 602.3 211.8 602.8 212.1 603.3 212.5 603.8 213 604.3 213.6 604.8 214.1 605.3 214.7 605.8 215.2 606.3 215.6 606.8 216 607.3 216.2 607.8 216.3 608.3 216.3 608.8 216 609.3 215.6 609.8 214.9 610.3 213.9 610.8 212.8 611.3 211.4 611.8 209.9 612.3 208.2 612.8 206.3 613.3 204.4 613.8 202.4 614.3 200.5 614.8 198.7 615.3 197.1 615.8 195.8 616.3 194.9 616.8 194.5 617.3 194.6 617.8 195.2 618.3 196.5 618.8 198.2 619.3 200.5 619.8 203.1 620.3 206.1 620.8 209.4 621.3 212.8 621.8 216.3 622.3 219.8 622.8 223.2 623.3 226.6 623.8 229.8 624.3 232.8 624.8 235.7 625.3 238.3 625.8 240.7 626.3 242.8 626.8 244.7 627.3 246.4 627.8 247.9 628.3 249.2 628.8 250.4 629.3 251.3 629.8 252.2 630.3 252.9 630.8 253.5 631.3 254 631.8 254.4 632.3 254.8 632.8 255.1 633.3 255.4 633.8 255.6 634.3 255.8 634.8 256 635.3 256.1 635.8 256.2 636.3 256.4 636.8 256.5 637.3 256.6 637.8 256.7 638.3 256.8 638.8 256.9 639.3 256.9 639.8 257 640.3 257.1 640.8 257.2 641.3 257.2 641.8 257.3 642.3 257.4 642.8 257.4 643.3 257.5 643.8 257.5 644.3 257.6 644.8 257.6 645.3 257.7 645.8 257.7 646.3 257.8 646.8 257.8 647.3 257.9 647.8 257.9 648.3 258 648.8 258 649.3 258 649.8 258.1 650.3 258.1 650.8 258.1 651.3 258.2 651.8 258.2 652.3 258.3 652.8 258.3 653.3 258.3 653.8 258.4 654.3 258.4 654.8 258.4 655.3 258.4 655.8 258.5 656.3 258.5 656.8 258.5 657.3 258.6" stroke="#cccccc" stroke-width="0.55" fill="none"/>
<path d="M468.8 337.2 469.3 337.2 469.8 337.2 470.3 337.2 470.8 337.2 471.3 337.2 471.8 337.2 472.3 337.2 472.8 337.2 473.3 337.2 473.8 337.2 474.3 337.2 474.8 337.2 475.3 337.2 475.8 337.2 476.3 337.2 476.8 337.2 477.3 337.2 477.8 337.2 478.3 337.2 478.8 337.2 479.3 337.2 479.8 337.2 480.3 337.2 480.8 337.2 481.3 337.2 481.8 337.2 482.3 337.2 482.8 337.2 483.3 337.2 483.8 337.2 484.3 337.2 484.8 337.2 485.3 337.2 485.8 337.2 486.3 337.2 486.8 337.2 487.3 337.2 487.8 337.2 488.3 337.2 488.8 337.2 489.3 337.1 489.8 337.1 490.3 337.1 490.8 337.1 491.3 337.1 491.8 337.1 492.3 337.1 492.8 337.1 493.3 337.1 493.8 337 494.3 337 494.8 337 495.3 337 495.8 337 496.3 337 496.8 336.9 497.3 336.9 497.8 336.9 498.3 336.9 498.8 336.8 499.3 336.8 499.8 336.8 500.3 336.7 500.8 336.7 501.3 336.7 501.8 336.6 502.3 336.6 502.8 336.6 503.3 336.5 503.8 336.5 504.3 336.4 504.8 336.4 505.3 336.3 505.8 336.3 506.3 336.2 506.8 336.2 507.3 336.1 507.8 336 508.3 336 508.8 335.9 509.3 335.8 509.8 335.7 510.3 335.7 510.8 335.6 511.3 335.5 511.8 335.4 512.3 335.3 512.8 335.2 513.3 335.1 513.8 335 514.3 334.9 514.8 334.7 515.3 334.6 515.8 334.5 516.3 334.3 516.8 334.2 517.3 334.1 517.8 333.9 518.3 333.8 518.8 333.6 519.3 333.4 519.8 333.3 520.3 333.1 520.8 332.9 521.3 332.7 521.8 332.5 522.3 332.3 522.8 332.1 523.3 331.9 523.8 331.7 524.3 331.5 524.8 331.2 525.3 331 525.8 330.8 526.3 330.5 526.8 330.3 527.3 330 527.8 329.7 528.3 329.5 528.8 329.2 529.3 328.9 529.8 328.6 530.3 328.3 530.8 328 531.3 327.7 531.8 327.4 532.3 327.1 532.8 326.8 533.3 326.5 533.8 326.1 534.3 325.8 534.8 325.5 535.3 325.1 535.8 324.8 536.3 324.4 536.8 324.1 537.3 323.7 537.8 323.4 538.3 323 538.8 322.7 539.3 322.3 539.8 322 540.3 321.6 540.8 321.2 541.3 320.9 541.8 320.5 542.3 320.2 542.8 319.8 543.3 319.4 543.8 319.1 544.3 318.7 544.8 318.4 545.3 318.1 545.8 317.7 546.3 317.4 546.8 317.1 547.3 316.7 547.8 316.4 548.3 316.1 548.8 315.8 549.3 315.5 549.8 315.2 550.3 314.9 550.8 314.7 551.3 314.4 551.8 314.2 552.3 313.9 552.8 313.7 553.3 313.5 553.8 313.3 554.3 313.1 554.8 312.9 555.3 312.8 555.8 312.6 556.3 312.5 556.8 312.4 557.3 312.3 557.8 312.2 558.3 312.1 558.8 312.1 559.3 312 559.8 312 560.3 312 560.8 312 561.3 312 561.8 312 562.3 312.1 562.8 312.2 563.3 312.3 563.8 312.4 564.3 312.5 564.8 312.6 565.3 312.7 565.8 312.9 566.3 313.1 566.8 313.3 567.3 313.5 567.8 313.7 568.3 313.9 568.8 314.1 569.3 314.4 569.8 314.6 570.3 314.9 570.8 315.2 571.3 315.5 571.8 315.8 572.3 316.1 572.8 316.4 573.3 316.7 573.8 317 574.3 317.4 574.8 317.7 575.3 318.1 575.8 318.4 576.3 318.8 576.8 319.1 577.3 319.5 577.8 319.8 578.3 320.2 578.8 320.6 579.3 320.9 579.8 321.3 580.3 321.7 580.8 322.1 581.3 322.4 581.8 322.8 582.3 323.2 582.8 323.5 583.3 323.9 583.8 324.2 584.3 324.6 584.8 325 585.3 325.3 585.8 325.7 586.3 326 586.8 326.4 587.3 326.7 587.8 327 588.3 327.4 588.8 327.7 589.3 328 589.8 328.3 590.3 328.7 590.8 329 591.3 329.3 591.8 329.6 592.3 329.8 592.8 330.1 593.3 330.4 593.8 330.7 594.3 331 594.8 331.2 595.3 331.5 595.8 331.7 596.3 332 596.8 332.2 597.3 332.4 597.8 332.7 598.3 332.9 598.8 333.1 599.3 333.3 599.8 333.5 600.3 333.7 600.8 333.9 601.3 334.1 601.8 334.2 602.3 334.4 602.8 334.6 603.3 334.8 603.8 334.9 604.3 335.1 604.8 335.2 605.3 335.4 605.8 335.5 606.3 335.6 606.8 335.8 607.3 335.9 607.8 336 608.3 336.1 608.8 336.2 609.3 336.3 609.8 336.4 610.3 336.5 610.8 336.6 611.3 336.7 611.8 336.8 612.3 336.9 612.8 337 613.3 337 613.8 337.1 614.3 337.2 614.8 337.3 615.3 337.3 615.8 337.4 616.3 337.4 616.8 337.5 617.3 337.6 617.8 337.6 618.3 337.7 618.8 337.7 619.3 337.8 619.8 337.8 620.3 337.9 620.8 337.9 621.3 337.9 621.8 338 622.3 338 622.8 338 623.3 338.1 623.8 338.1 624.3 338.1 624.8 338.2 625.3 338.2 625.8 338.2 626.3 338.3 626.8 338.3 627.3 338.3 627.8 338.3 628.3 338.4 628.8 338.4 629.3 338.4 629.8 338.4 630.3 338.4 630.8 338.5 631.3 338.5 631.8 338.5 632.3 338.5 632.8 338.5 633.3 338.5 633.8 338.6 634.3 338.6 634.8 338.6 635.3 338.6 635.8 338.6 636.3 338.6 636.8 338.7 637.3 338.7 637.8 338.7 638.3 338.7 638.8 338.7 639.3 338.7 639.8 338.7 640.3 338.7 640.8 338.8 641.3 338.8 641.8 338.8 642.3 338.8 642.8 338.8 643.3 338.8 643.8 338.8 644.3 338.8 644.8 338.8 645.3 338.8 645.8 338.9 646.3 338.9 646.8 338.9 647.3 338.9 647.8 338.9 648.3 338.9 648.8 338.9 649.3 338.9 649.8 338.9 650.3 338.9 650.8 339 651.3 339 651.8 339 652.3 339 652.8 339 653.3 339 653.8 339 654.3 339 654.8 339 655.3 339 655.8 339 656.3 339 656.8 339.1 657.3 339.1 657.3 339.4 656.8 339.4 656.3 339.4 655.8 339.4 655.3 339.4 654.8 339.4 654.3 339.4 653.8 339.4 653.3 339.4 652.8 339.4 652.3 339.3 651.8 339.3 651.3 339.3 650.8 339.3 650.3 339.3 649.8 339.3 649.3 339.3 648.8 339.3 648.3 339.3 647.8 339.3 647.3 339.3 646.8 339.3 646.3 339.3 645.8 339.3 645.3 339.3 644.8 339.3 644.3 339.3 643.8 339.3 643.3 339.3 642.8 339.3 642.3 339.3 641.8 339.2 641.3 339.2 640.8 339.2 640.3 339.2 639.8 339.2 639.3 339.2 638.8 339.2 638.3 339.2 637.8 339.2 637.3 339.2 636.8 339.2 636.3 339.2 635.8 339.2 635.3 339.2 634.8 339.2 634.3 339.2 633.8 339.2 633.3 339.2 632.8 339.2 632.3 339.2 631.8 339.2 631.3 339.1 630.8 339.1 630.3 339.1 629.8 339.1 629.3 339.1 628.8 339.1 628.3 339.1 627.8 339.1 627.3 339.1 626.8 339.1 626.3 339.1 625.8 339.1 625.3 339.1 624.8 339.1 624.3 339.1 623.8 339.1 623.3 339.1 622.8 339.1 622.3 339.1 621.8 339.1 621.3 339.1 620.8 339 620.3 339 619.8 339 619.3 339 618.8 339 618.3 339 617.8 339 617.3 339 616.8 339 616.3 339 615.8 339 615.3 339 614.8 339 614.3 339 613.8 339 613.3 339 612.8 339 612.3 339 611.8 339 611.3 339 610.8 339 610.3 338.9 609.8 338.9 609.3 338.9 608.8 338.9 608.3 338.9 607.8 338.9 607.3 338.9 606.8 338.9 606.3 338.9 605.8 338.9 605.3 338.9 604.8 338.9 604.3 338.9 603.8 338.9 603.3 338.9 602.8 338.9 602.3 338.9 601.8 338.9 601.3 338.9 600.8 338.9 600.3 338.9 599.8 338.8 599.3 338.8 598.8 338.8 598.3 338.8 597.8 338.8 597.3 338.8 596.8 338.8 596.3 338.8 595.8 338.8 595.3 338.8 594.8 338.8 594.3 338.8 593.8 338.8 593.3 338.8 592.8 338.8 592.3 338.8 591.8 338.8 591.3 338.8 590.8 338.8 590.3 338.8 589.8 338.8 589.3 338.7 588.8 338.7 588.3 338.7 587.8 338.7 587.3 338.7 586.8 338.7 586.3 338.7 585.8 338.7 585.3 338.7 584.8 338.7 584.3 338.7 583.8 338.7 583.3 338.7 582.8 338.7 582.3 338.7 581.8 338.7 581.3 338.7 580.8 338.7 580.3 338.7 579.8 338.7 579.3 338.7 578.8 338.6 578.3 338.6 577.8 338.6 577.3 338.6 576.8 338.6 576.3 338.6 575.8 338.6 575.3 338.6 574.8 338.6 574.3 338.6 573.8 338.6 573.3 338.6 572.8 338.6 572.3 338.6 571.8 338.6 571.3 338.6 570.8 338.6 570.3 338.6 569.8 338.6 569.3 338.6 568.8 338.6 568.3 338.6 567.8 338.5 567.3 338.5 566.8 338.5 566.3 338.5 565.8 338.5 565.3 338.5 564.8 338.5 564.3 338.5 563.8 338.5 563.3 338.5 562.8 338.5 562.3 338.5 561.8 338.5 561.3 338.5 560.8 338.5 560.3 338.5 559.8 338.5 559.3 338.5 558.8 338.5 558.3 338.5 557.8 338.5 557.3 338.4 556.8 338.4 556.3 338.4 555.8 338.4 555.3 338.4 554.8 338.4 554.3 338.4 553.8 338.4 553.3 338.4 552.8 338.4 552.3 338.4 551.8 338.4 551.3 338.4 550.8 338.4 550.3 338.4 549.8 338.4 549.3 338.4 548.8 338.4 548.3 338.4 547.8 338.4 547.3 338.4 546.8 338.3 546.3 338.3 545.8 338.3 545.3 338.3 544.8 338.3 544.3 338.3 543.8 338.3 543.3 338.3 542.8 338.3 542.3 338.3 541.8 338.3 541.3 338.3 540.8 338.3 540.3 338.3 539.8 338.3 539.3 338.3 538.8 338.3 538.3 338.3 537.8 338.3 537.3 338.3 536.8 338.3 536.3 338.2 535.8 338.2 535.3 338.2 534.8 338.2 534.3 338.2 533.8 338.2 533.3 338.2 532.8 338.2 532.3 338.2 531.8 338.2 531.3 338.2 530.8 338.2 530.3 338.2 529.8 338.2 529.3 338.2 528.8 338.2 528.3 338.2 527.8 338.2 527.3 338.2 526.8 338.2 526.3 338.2 525.8 338.1 525.3 338.1 524.8 338.1 524.3 338.1 523.8 338.1 523.3 338.1 522.8 338.1 522.3 338.1 521.8 338.1 521.3 338.1 520.8 338.1 520.3 338.1 519.8 338.1 519.3 338.1 518.8 338.1 518.3 338.1 517.8 338.1 517.3 338.1 516.8 338.1 516.3 338.1 515.8 338.1 515.3 338 514.8 338 514.3 338 513.8 338 513.3 338 512.8 338 512.3 338 511.8 338 511.3 338 510.8 338 510.3 338 509.8 338 509.3 338 508.8 338 508.3 338 507.8 338 507.3 338 506.8 338 506.3 338 505.8 338 505.3 338 504.8 337.9 504.3 337.9 503.8 337.9 503.3 337.9 502.8 337.9 502.3 337.9 501.8 337.9 501.3 337.9 500.8 337.9 500.3 337.9 499.8 337.9 499.3 337.9 498.8 337.9 498.3 337.9 497.8 337.9 497.3 337.9 496.8 337.9 496.3 337.9 495.8 337.9 495.3 337.9 494.8 337.9 494.3 337.8 493.8 337.8 493.3 337.8 492.8 337.8 492.3 337.8 491.8 337.8 491.3 337.8 490.8 337.8 490.3 337.8 489.8 337.8 489.3 337.8 488.8 337.8 488.3 337.8 487.8 337.8 487.3 337.8 486.8 337.8 486.3 337.8 485.8 337.8 485.3 337.8 484.8 337.8 484.3 337.8 483.8 337.7 483.3 337.7 482.8 337.7 482.3 337.7 481.8 337.7 481.3 337.7 480.8 337.7 480.3 337.7 479.8 337.7 479.3 337.7 478.8 337.7 478.3 337.7 477.8 337.7 477.3 337.7 476.8 337.7 476.3 337.7 475.8 337.7 475.3 337.7 474.8 337.7 474.3 337.7 473.8 337.7 473.3 337.7 472.8 337.6 472.3 337.6 471.8 337.6 471.3 337.6 470.8 337.6 470.3 337.6 469.8 337.6 469.3 337.6 468.8 337.6Z" fill="url(#gre)" stroke="none"/>
<path d="M468.8 337.2 469.3 337.2 469.8 337.2 470.3 337.2 470.8 337.2 471.3 337.2 471.8 337.2 472.3 337.2 472.8 337.2 473.3 337.2 473.8 337.2 474.3 337.2 474.8 337.2 475.3 337.2 475.8 337.2 476.3 337.2 476.8 337.2 477.3 337.2 477.8 337.2 478.3 337.2 478.8 337.2 479.3 337.2 479.8 337.2 480.3 337.2 480.8 337.2 481.3 337.2 481.8 337.2 482.3 337.2 482.8 337.2 483.3 337.2 483.8 337.2 484.3 337.2 484.8 337.2 485.3 337.2 485.8 337.2 486.3 337.2 486.8 337.2 487.3 337.2 487.8 337.2 488.3 337.2 488.8 337.2 489.3 337.1 489.8 337.1 490.3 337.1 490.8 337.1 491.3 337.1 491.8 337.1 492.3 337.1 492.8 337.1 493.3 337.1 493.8 337 494.3 337 494.8 337 495.3 337 495.8 337 496.3 337 496.8 336.9 497.3 336.9 497.8 336.9 498.3 336.9 498.8 336.8 499.3 336.8 499.8 336.8 500.3 336.7 500.8 336.7 501.3 336.7 501.8 336.6 502.3 336.6 502.8 336.6 503.3 336.5 503.8 336.5 504.3 336.4 504.8 336.4 505.3 336.3 505.8 336.3 506.3 336.2 506.8 336.2 507.3 336.1 507.8 336 508.3 336 508.8 335.9 509.3 335.8 509.8 335.7 510.3 335.7 510.8 335.6 511.3 335.5 511.8 335.4 512.3 335.3 512.8 335.2 513.3 335.1 513.8 335 514.3 334.9 514.8 334.7 515.3 334.6 515.8 334.5 516.3 334.3 516.8 334.2 517.3 334.1 517.8 333.9 518.3 333.8 518.8 333.6 519.3 333.4 519.8 333.3 520.3 333.1 520.8 332.9 521.3 332.7 521.8 332.5 522.3 332.3 522.8 332.1 523.3 331.9 523.8 331.7 524.3 331.5 524.8 331.2 525.3 331 525.8 330.8 526.3 330.5 526.8 330.3 527.3 330 527.8 329.7 528.3 329.5 528.8 329.2 529.3 328.9 529.8 328.6 530.3 328.3 530.8 328 531.3 327.7 531.8 327.4 532.3 327.1 532.8 326.8 533.3 326.5 533.8 326.1 534.3 325.8 534.8 325.5 535.3 325.1 535.8 324.8 536.3 324.4 536.8 324.1 537.3 323.7 537.8 323.4 538.3 323 538.8 322.7 539.3 322.3 539.8 322 540.3 321.6 540.8 321.2 541.3 320.9 541.8 320.5 542.3 320.2 542.8 319.8 543.3 319.4 543.8 319.1 544.3 318.7 544.8 318.4 545.3 318.1 545.8 317.7 546.3 317.4 546.8 317.1 547.3 316.7 547.8 316.4 548.3 316.1 548.8 315.8 549.3 315.5 549.8 315.2 550.3 314.9 550.8 314.7 551.3 314.4 551.8 314.2 552.3 313.9 552.8 313.7 553.3 313.5 553.8 313.3 554.3 313.1 554.8 312.9 555.3 312.8 555.8 312.6 556.3 312.5 556.8 312.4 557.3 312.3 557.8 312.2 558.3 312.1 558.8 312.1 559.3 312 559.8 312 560.3 312 560.8 312 561.3 312 561.8 312 562.3 312.1 562.8 312.2 563.3 312.3 563.8 312.4 564.3 312.5 564.8 312.6 565.3 312.7 565.8 312.9 566.3 313.1 566.8 313.3 567.3 313.5 567.8 313.7 568.3 313.9 568.8 314.1 569.3 314.4 569.8 314.6 570.3 314.9 570.8 315.2 571.3 315.5 571.8 315.8 572.3 316.1 572.8 316.4 573.3 316.7 573.8 317 574.3 317.4 574.8 317.7 575.3 318.1 575.8 318.4 576.3 318.8 576.8 319.1 577.3 319.5 577.8 319.8 578.3 320.2 578.8 320.6 579.3 320.9 579.8 321.3 580.3 321.7 580.8 322.1 581.3 322.4 581.8 322.8 582.3 323.2 582.8 323.5 583.3 323.9 583.8 324.2 584.3 324.6 584.8 325 585.3 325.3 585.8 325.7 586.3 326 586.8 326.4 587.3 326.7 587.8 327 588.3 327.4 588.8 327.7 589.3 328 589.8 328.3 590.3 328.7 590.8 329 591.3 329.3 591.8 329.6 592.3 329.8 592.8 330.1 593.3 330.4 593.8 330.7 594.3 331 594.8 331.2 595.3 331.5 595.8 331.7 596.3 332 596.8 332.2 597.3 332.4 597.8 332.7 598.3 332.9 598.8 333.1 599.3 333.3 599.8 333.5 600.3 333.7 600.8 333.9 601.3 334.1 601.8 334.2 602.3 334.4 602.8 334.6 603.3 334.8 603.8 334.9 604.3 335.1 604.8 335.2 605.3 335.4 605.8 335.5 606.3 335.6 606.8 335.8 607.3 335.9 607.8 336 608.3 336.1 608.8 336.2 609.3 336.3 609.8 336.4 610.3 336.5 610.8 336.6 611.3 336.7 611.8 336.8 612.3 336.9 612.8 337 613.3 337 613.8 337.1 614.3 337.2 614.8 337.3 615.3 337.3 615.8 337.4 616.3 337.4 616.8 337.5 617.3 337.6 617.8 337.6 618.3 337.7 618.8 337.7 619.3 337.8 619.8 337.8 620.3 337.9 620.8 337.9 621.3 337.9 621.8 338 622.3 338 622.8 338 623.3 338.1 623.8 338.1 624.3 338.1 624.8 338.2 625.3 338.2 625.8 338.2 626.3 338.3 626.8 338.3 627.3 338.3 627.8 338.3 628.3 338.4 628.8 338.4 629.3 338.4 629.8 338.4 630.3 338.4 630.8 338.5 631.3 338.5 631.8 338.5 632.3 338.5 632.8 338.5 633.3 338.5 633.8 338.6 634.3 338.6 634.8 338.6 635.3 338.6 635.8 338.6 636.3 338.6 636.8 338.7 637.3 338.7 637.8 338.7 638.3 338.7 638.8 338.7 639.3 338.7 639.8 338.7 640.3 338.7 640.8 338.8 641.3 338.8 641.8 338.8 642.3 338.8 642.8 338.8 643.3 338.8 643.8 338.8 644.3 338.8 644.8 338.8 645.3 338.8 645.8 338.9 646.3 338.9 646.8 338.9 647.3 338.9 647.8 338.9 648.3 338.9 648.8 338.9 649.3 338.9 649.8 338.9 650.3 338.9 650.8 339 651.3 339 651.8 339 652.3 339 652.8 339 653.3 339 653.8 339 654.3 339 654.8 339 655.3 339 655.8 339 656.3 339 656.8 339.1 657.3 339.1" stroke="#9a9a9a" stroke-width="0.7" fill="none"/>
<path d="M560.3 338.2 560.8 338.2 561.3 338.2 561.8 338.2 562.3 338.2 562.8 338.2 563.3 338.2 563.8 338.2 564.3 338.2 564.8 338.2 565.3 338.2 565.8 338.2 566.3 338.2 566.8 338.2 567.3 338.2 567.8 338.2 568.3 338.2 568.8 338.2 569.3 338.1 569.8 338.1 570.3 338.1 570.8 338.1 571.3 338.1 571.8 338.1 572.3 338.1 572.8 338 573.3 338 573.8 338 574.3 337.9 574.8 337.9 575.3 337.9 575.8 337.8 576.3 337.7 576.8 337.7 577.3 337.6 577.8 337.5 578.3 337.4 578.8 337.3 579.3 337.1 579.8 337 580.3 336.8 580.8 336.6 581.3 336.3 581.8 336.1 582.3 335.8 582.8 335.5 583.3 335.1 583.8 334.7 584.3 334.3 584.8 333.8 585.3 333.3 585.8 332.7 586.3 332.1 586.8 331.4 587.3 330.7 587.8 329.9 588.3 329.1 588.8 328.2 589.3 327.3 589.8 326.3 590.3 325.3 590.8 324.3 591.3 323.2 591.8 322.1 592.3 321 592.8 319.8 593.3 318.7 593.8 317.5 594.3 316.4 594.8 315.3 595.3 314.2 595.8 313.1 596.3 312.1 596.8 311.2 597.3 310.3 597.8 309.5 598.3 308.8 598.8 308.2 599.3 307.7 599.8 307.3 600.3 307 600.8 306.9 601.3 306.9 601.8 307 602.3 307.2 602.8 307.6 603.3 308.1 603.8 308.7 604.3 309.4 604.8 310.2 605.3 311.1 605.8 312 606.3 313 606.8 314.1 607.3 315.2 607.8 316.3 608.3 317.4 608.8 318.6 609.3 319.8 609.8 320.9 610.3 322.1 610.8 323.2 611.3 324.3 611.8 325.3 612.3 326.3 612.8 327.3 613.3 328.3 613.8 329.1 614.3 330 614.8 330.8 615.3 331.5 615.8 332.2 616.3 332.9 616.8 333.4 617.3 334 617.8 334.5 618.3 334.9 618.8 335.4 619.3 335.7 619.8 336.1 620.3 336.4 620.8 336.7 621.3 336.9 621.8 337.1 622.3 337.3 622.8 337.5 623.3 337.6 623.8 337.8 624.3 337.9 624.8 338 625.3 338.1 625.8 338.2 626.3 338.3 626.8 338.3 627.3 338.4 627.8 338.4 628.3 338.5 628.8 338.5 629.3 338.6 629.8 338.6 630.3 338.6 630.8 338.7 631.3 338.7 631.8 338.7 632.3 338.7 632.8 338.7 633.3 338.8 633.8 338.8 634.3 338.8 634.8 338.8 635.3 338.8 635.8 338.8 636.3 338.9 636.8 338.9 637.3 338.9 637.8 338.9 638.3 338.9 638.8 338.9 639.3 338.9 639.8 338.9 640.3 339 640.8 339 641.3 339 641.8 339 641.8 339.2 641.3 339.2 640.8 339.2 640.3 339.2 639.8 339.2 639.3 339.2 638.8 339.2 638.3 339.2 637.8 339.2 637.3 339.2 636.8 339.2 636.3 339.2 635.8 339.2 635.3 339.2 634.8 339.2 634.3 339.2 633.8 339.2 633.3 339.2 632.8 339.2 632.3 339.2 631.8 339.2 631.3 339.1 630.8 339.1 630.3 339.1 629.8 339.1 629.3 339.1 628.8 339.1 628.3 339.1 627.8 339.1 627.3 339.1 626.8 339.1 626.3 339.1 625.8 339.1 625.3 339.1 624.8 339.1 624.3 339.1 623.8 339.1 623.3 339.1 622.8 339.1 622.3 339.1 621.8 339.1 621.3 339.1 620.8 339 620.3 339 619.8 339 619.3 339 618.8 339 618.3 339 617.8 339 617.3 339 616.8 339 616.3 339 615.8 339 615.3 339 614.8 339 614.3 339 613.8 339 613.3 339 612.8 339 612.3 339 611.8 339 611.3 339 610.8 339 610.3 338.9 609.8 338.9 609.3 338.9 608.8 338.9 608.3 338.9 607.8 338.9 607.3 338.9 606.8 338.9 606.3 338.9 605.8 338.9 605.3 338.9 604.8 338.9 604.3 338.9 603.8 338.9 603.3 338.9 602.8 338.9 602.3 338.9 601.8 338.9 601.3 338.9 600.8 338.9 600.3 338.9 599.8 338.8 599.3 338.8 598.8 338.8 598.3 338.8 597.8 338.8 597.3 338.8 596.8 338.8 596.3 338.8 595.8 338.8 595.3 338.8 594.8 338.8 594.3 338.8 593.8 338.8 593.3 338.8 592.8 338.8 592.3 338.8 591.8 338.8 591.3 338.8 590.8 338.8 590.3 338.8 589.8 338.8 589.3 338.7 588.8 338.7 588.3 338.7 587.8 338.7 587.3 338.7 586.8 338.7 586.3 338.7 585.8 338.7 585.3 338.7 584.8 338.7 584.3 338.7 583.8 338.7 583.3 338.7 582.8 338.7 582.3 338.7 581.8 338.7 581.3 338.7 580.8 338.7 580.3 338.7 579.8 338.7 579.3 338.7 578.8 338.6 578.3 338.6 577.8 338.6 577.3 338.6 576.8 338.6 576.3 338.6 575.8 338.6 575.3 338.6 574.8 338.6 574.3 338.6 573.8 338.6 573.3 338.6 572.8 338.6 572.3 338.6 571.8 338.6 571.3 338.6 570.8 338.6 570.3 338.6 569.8 338.6 569.3 338.6 568.8 338.6 568.3 338.6 567.8 338.5 567.3 338.5 566.8 338.5 566.3 338.5 565.8 338.5 565.3 338.5 564.8 338.5 564.3 338.5 563.8 338.5 563.3 338.5 562.8 338.5 562.3 338.5 561.8 338.5 561.3 338.5 560.8 338.5 560.3 338.5Z" fill="url(#gor)" stroke="none"/>
<path d="M560.3 338.2 560.8 338.2 561.3 338.2 561.8 338.2 562.3 338.2 562.8 338.2 563.3 338.2 563.8 338.2 564.3 338.2 564.8 338.2 565.3 338.2 565.8 338.2 566.3 338.2 566.8 338.2 567.3 338.2 567.8 338.2 568.3 338.2 568.8 338.2 569.3 338.1 569.8 338.1 570.3 338.1 570.8 338.1 571.3 338.1 571.8 338.1 572.3 338.1 572.8 338 573.3 338 573.8 338 574.3 337.9 574.8 337.9 575.3 337.9 575.8 337.8 576.3 337.7 576.8 337.7 577.3 337.6 577.8 337.5 578.3 337.4 578.8 337.3 579.3 337.1 579.8 337 580.3 336.8 580.8 336.6 581.3 336.3 581.8 336.1 582.3 335.8 582.8 335.5 583.3 335.1 583.8 334.7 584.3 334.3 584.8 333.8 585.3 333.3 585.8 332.7 586.3 332.1 586.8 331.4 587.3 330.7 587.8 329.9 588.3 329.1 588.8 328.2 589.3 327.3 589.8 326.3 590.3 325.3 590.8 324.3 591.3 323.2 591.8 322.1 592.3 321 592.8 319.8 593.3 318.7 593.8 317.5 594.3 316.4 594.8 315.3 595.3 314.2 595.8 313.1 596.3 312.1 596.8 311.2 597.3 310.3 597.8 309.5 598.3 308.8 598.8 308.2 599.3 307.7 599.8 307.3 600.3 307 600.8 306.9 601.3 306.9 601.8 307 602.3 307.2 602.8 307.6 603.3 308.1 603.8 308.7 604.3 309.4 604.8 310.2 605.3 311.1 605.8 312 606.3 313 606.8 314.1 607.3 315.2 607.8 316.3 608.3 317.4 608.8 318.6 609.3 319.8 609.8 320.9 610.3 322.1 610.8 323.2 611.3 324.3 611.8 325.3 612.3 326.3 612.8 327.3 613.3 328.3 613.8 329.1 614.3 330 614.8 330.8 615.3 331.5 615.8 332.2 616.3 332.9 616.8 333.4 617.3 334 617.8 334.5 618.3 334.9 618.8 335.4 619.3 335.7 619.8 336.1 620.3 336.4 620.8 336.7 621.3 336.9 621.8 337.1 622.3 337.3 622.8 337.5 623.3 337.6 623.8 337.8 624.3 337.9 624.8 338 625.3 338.1 625.8 338.2 626.3 338.3 626.8 338.3 627.3 338.4 627.8 338.4 628.3 338.5 628.8 338.5 629.3 338.6 629.8 338.6 630.3 338.6 630.8 338.7 631.3 338.7 631.8 338.7 632.3 338.7 632.8 338.7 633.3 338.8 633.8 338.8 634.3 338.8 634.8 338.8 635.3 338.8 635.8 338.8 636.3 338.9 636.8 338.9 637.3 338.9 637.8 338.9 638.3 338.9 638.8 338.9 639.3 338.9 639.8 338.9 640.3 339 640.8 339 641.3 339 641.8 339" stroke="#9a9a9a" stroke-width="0.7" fill="none"/>
<path d="M571.3 338.3 571.8 338.3 572.3 338.3 572.8 338.3 573.3 338.3 573.8 338.3 574.3 338.3 574.8 338.3 575.3 338.3 575.8 338.3 576.3 338.3 576.8 338.3 577.3 338.3 577.8 338.3 578.3 338.3 578.8 338.3 579.3 338.3 579.8 338.3 580.3 338.3 580.8 338.3 581.3 338.3 581.8 338.3 582.3 338.3 582.8 338.2 583.3 338.2 583.8 338.2 584.3 338.2 584.8 338.2 585.3 338.2 585.8 338.2 586.3 338.2 586.8 338.2 587.3 338.2 587.8 338.1 588.3 338.1 588.8 338.1 589.3 338.1 589.8 338.1 590.3 338.1 590.8 338 591.3 338 591.8 338 592.3 338 592.8 337.9 593.3 337.9 593.8 337.9 594.3 337.8 594.8 337.8 595.3 337.8 595.8 337.7 596.3 337.7 596.8 337.6 597.3 337.6 597.8 337.5 598.3 337.5 598.8 337.4 599.3 337.3 599.8 337.2 600.3 337.1 600.8 337 601.3 336.8 601.8 336.6 602.3 336.4 602.8 336.2 603.3 335.9 603.8 335.5 604.3 335.1 604.8 334.5 605.3 333.9 605.8 333.2 606.3 332.3 606.8 331.3 607.3 330.2 607.8 328.8 608.3 327.3 608.8 325.6 609.3 323.7 609.8 321.6 610.3 319.2 610.8 316.7 611.3 314.1 611.8 311.3 612.3 308.4 612.8 305.4 613.3 302.4 613.8 299.5 614.3 296.7 614.8 294.1 615.3 291.8 615.8 289.9 616.3 288.4 616.8 287.4 617.3 287 617.8 287.2 618.3 288 618.8 289.3 619.3 291 619.8 293.2 620.3 295.7 620.8 298.4 621.3 301.3 621.8 304.3 622.3 307.3 622.8 310.2 623.3 313.1 623.8 315.8 624.3 318.4 624.8 320.8 625.3 323 625.8 325 626.3 326.8 626.8 328.4 627.3 329.8 627.8 331.1 628.3 332.2 628.8 333.1 629.3 333.9 629.8 334.5 630.3 335.1 630.8 335.6 631.3 336 631.8 336.3 632.3 336.6 632.8 336.8 633.3 337 633.8 337.2 634.3 337.4 634.8 337.5 635.3 337.6 635.8 337.7 636.3 337.8 636.8 337.9 637.3 337.9 637.8 338 638.3 338.1 638.8 338.1 639.3 338.2 639.8 338.2 640.3 338.3 640.8 338.3 641.3 338.3 641.8 338.4 642.3 338.4 642.8 338.5 643.3 338.5 643.8 338.5 644.3 338.6 644.8 338.6 645.3 338.6 645.8 338.6 646.3 338.7 646.8 338.7 647.3 338.7 647.8 338.7 648.3 338.8 648.8 338.8 649.3 338.8 649.8 338.8 650.3 338.8 650.8 338.9 651.3 338.9 651.8 338.9 652.3 338.9 652.8 338.9 653.3 338.9 653.8 339 654.3 339 654.8 339 655.3 339 655.8 339 656.3 339 656.8 339 657.3 339.1 657.3 339.4 656.8 339.4 656.3 339.4 655.8 339.4 655.3 339.4 654.8 339.4 654.3 339.4 653.8 339.4 653.3 339.4 652.8 339.4 652.3 339.3 651.8 339.3 651.3 339.3 650.8 339.3 650.3 339.3 649.8 339.3 649.3 339.3 648.8 339.3 648.3 339.3 647.8 339.3 647.3 339.3 646.8 339.3 646.3 339.3 645.8 339.3 645.3 339.3 644.8 339.3 644.3 339.3 643.8 339.3 643.3 339.3 642.8 339.3 642.3 339.3 641.8 339.2 641.3 339.2 640.8 339.2 640.3 339.2 639.8 339.2 639.3 339.2 638.8 339.2 638.3 339.2 637.8 339.2 637.3 339.2 636.8 339.2 636.3 339.2 635.8 339.2 635.3 339.2 634.8 339.2 634.3 339.2 633.8 339.2 633.3 339.2 632.8 339.2 632.3 339.2 631.8 339.2 631.3 339.1 630.8 339.1 630.3 339.1 629.8 339.1 629.3 339.1 628.8 339.1 628.3 339.1 627.8 339.1 627.3 339.1 626.8 339.1 626.3 339.1 625.8 339.1 625.3 339.1 624.8 339.1 624.3 339.1 623.8 339.1 623.3 339.1 622.8 339.1 622.3 339.1 621.8 339.1 621.3 339.1 620.8 339 620.3 339 619.8 339 619.3 339 618.8 339 618.3 339 617.8 339 617.3 339 616.8 339 616.3 339 615.8 339 615.3 339 614.8 339 614.3 339 613.8 339 613.3 339 612.8 339 612.3 339 611.8 339 611.3 339 610.8 339 610.3 338.9 609.8 338.9 609.3 338.9 608.8 338.9 608.3 338.9 607.8 338.9 607.3 338.9 606.8 338.9 606.3 338.9 605.8 338.9 605.3 338.9 604.8 338.9 604.3 338.9 603.8 338.9 603.3 338.9 602.8 338.9 602.3 338.9 601.8 338.9 601.3 338.9 600.8 338.9 600.3 338.9 599.8 338.8 599.3 338.8 598.8 338.8 598.3 338.8 597.8 338.8 597.3 338.8 596.8 338.8 596.3 338.8 595.8 338.8 595.3 338.8 594.8 338.8 594.3 338.8 593.8 338.8 593.3 338.8 592.8 338.8 592.3 338.8 591.8 338.8 591.3 338.8 590.8 338.8 590.3 338.8 589.8 338.8 589.3 338.7 588.8 338.7 588.3 338.7 587.8 338.7 587.3 338.7 586.8 338.7 586.3 338.7 585.8 338.7 585.3 338.7 584.8 338.7 584.3 338.7 583.8 338.7 583.3 338.7 582.8 338.7 582.3 338.7 581.8 338.7 581.3 338.7 580.8 338.7 580.3 338.7 579.8 338.7 579.3 338.7 578.8 338.6 578.3 338.6 577.8 338.6 577.3 338.6 576.8 338.6 576.3 338.6 575.8 338.6 575.3 338.6 574.8 338.6 574.3 338.6 573.8 338.6 573.3 338.6 572.8 338.6 572.3 338.6 571.8 338.6 571.3 338.6Z" fill="url(#gbl)" stroke="none"/>
<path d="M571.3 338.3 571.8 338.3 572.3 338.3 572.8 338.3 573.3 338.3 573.8 338.3 574.3 338.3 574.8 338.3 575.3 338.3 575.8 338.3 576.3 338.3 576.8 338.3 577.3 338.3 577.8 338.3 578.3 338.3 578.8 338.3 579.3 338.3 579.8 338.3 580.3 338.3 580.8 338.3 581.3 338.3 581.8 338.3 582.3 338.3 582.8 338.2 583.3 338.2 583.8 338.2 584.3 338.2 584.8 338.2 585.3 338.2 585.8 338.2 586.3 338.2 586.8 338.2 587.3 338.2 587.8 338.1 588.3 338.1 588.8 338.1 589.3 338.1 589.8 338.1 590.3 338.1 590.8 338 591.3 338 591.8 338 592.3 338 592.8 337.9 593.3 337.9 593.8 337.9 594.3 337.8 594.8 337.8 595.3 337.8 595.8 337.7 596.3 337.7 596.8 337.6 597.3 337.6 597.8 337.5 598.3 337.5 598.8 337.4 599.3 337.3 599.8 337.2 600.3 337.1 600.8 337 601.3 336.8 601.8 336.6 602.3 336.4 602.8 336.2 603.3 335.9 603.8 335.5 604.3 335.1 604.8 334.5 605.3 333.9 605.8 333.2 606.3 332.3 606.8 331.3 607.3 330.2 607.8 328.8 608.3 327.3 608.8 325.6 609.3 323.7 609.8 321.6 610.3 319.2 610.8 316.7 611.3 314.1 611.8 311.3 612.3 308.4 612.8 305.4 613.3 302.4 613.8 299.5 614.3 296.7 614.8 294.1 615.3 291.8 615.8 289.9 616.3 288.4 616.8 287.4 617.3 287 617.8 287.2 618.3 288 618.8 289.3 619.3 291 619.8 293.2 620.3 295.7 620.8 298.4 621.3 301.3 621.8 304.3 622.3 307.3 622.8 310.2 623.3 313.1 623.8 315.8 624.3 318.4 624.8 320.8 625.3 323 625.8 325 626.3 326.8 626.8 328.4 627.3 329.8 627.8 331.1 628.3 332.2 628.8 333.1 629.3 333.9 629.8 334.5 630.3 335.1 630.8 335.6 631.3 336 631.8 336.3 632.3 336.6 632.8 336.8 633.3 337 633.8 337.2 634.3 337.4 634.8 337.5 635.3 337.6 635.8 337.7 636.3 337.8 636.8 337.9 637.3 337.9 637.8 338 638.3 338.1 638.8 338.1 639.3 338.2 639.8 338.2 640.3 338.3 640.8 338.3 641.3 338.3 641.8 338.4 642.3 338.4 642.8 338.5 643.3 338.5 643.8 338.5 644.3 338.6 644.8 338.6 645.3 338.6 645.8 338.6 646.3 338.7 646.8 338.7 647.3 338.7 647.8 338.7 648.3 338.8 648.8 338.8 649.3 338.8 649.8 338.8 650.3 338.8 650.8 338.9 651.3 338.9 651.8 338.9 652.3 338.9 652.8 338.9 653.3 338.9 653.8 339 654.3 339 654.8 339 655.3 339 655.8 339 656.3 339 656.8 339 657.3 339.1" stroke="#9a9a9a" stroke-width="0.7" fill="none"/>
<line x1="468.8" y1="337.61" x2="657.8" y2="339.4" stroke="#8a8a8a" stroke-width="0.8"/>
<path d="M468.8 337.2 469.8 337.2 470.8 336.3 471.8 337.2 472.8 337.4 473.8 337 474.8 337.1 475.8 338 476.8 336.3 477.8 336.8 478.8 336.2 479.8 337.6 480.8 336.3 481.8 337.1 482.8 336.8 483.8 336.7 484.8 338.1 485.8 336.6 486.8 337.9 487.8 337.3 488.8 337.7 489.8 336.4 490.8 337.4 491.8 337.2 492.8 336 493.8 336.7 494.8 336.3 495.8 336.4 496.8 337.5 497.8 335.7 498.8 334.8 499.8 334.7 500.8 335.7 501.8 335.5 502.8 336 503.8 336.4 504.8 337.3 505.8 336 506.8 336 507.8 334.8 508.8 335.8 509.8 336.3 510.8 336.1 511.8 333.1 512.8 335.3 513.8 335.7 514.8 334.8 515.8 332.6 516.8 333.3 517.8 333.8 518.8 333.3 519.8 331.9 520.8 331.5 521.8 332.7 522.8 330.3 523.8 332.3 524.8 330.6 525.8 330.4 526.8 328.5 527.8 328.6 528.8 329.1 529.8 326.7 530.8 329.2 531.8 325.5 532.8 325.1 533.8 325.5 534.8 325.2 535.8 324.7 536.8 323.1 537.8 322.5 538.8 321.8 539.8 320.8 540.8 318.3 541.8 320.6 542.8 319.3 543.8 318.5 544.8 317.1 545.8 317.2 546.8 316.3 547.8 315.6 548.8 316 549.8 313 550.8 314.1 551.8 312.5 552.8 312.6 553.8 313.8 554.8 311.2 555.8 311.7 556.8 311 557.8 312.1 558.8 310.3 559.8 309.6 560.8 311.5 561.8 310.8 562.8 310.9 563.8 312.3 564.8 310.8 565.8 311.5 566.8 312.3 567.8 312.9 568.8 312.6 569.8 314.4 570.8 315.9 571.8 314.1 572.8 316.7 573.8 313.8 574.8 317.4 575.8 316.4 576.8 317.4 577.8 317.4 578.8 317.6 579.8 317.4 580.8 318.4 581.8 320 582.8 319.8 583.8 318.3 584.8 317.7 585.8 316.9 586.8 315.6 587.8 317 588.8 314.6 589.8 312.4 590.8 309.9 591.8 307.3 592.8 307.1 593.8 304.2 594.8 300.3 595.8 299.7 596.8 295.7 597.8 295.3 598.8 292.4 599.8 291.8 600.8 292 601.8 291.8 602.8 292.6 603.8 291.6 604.8 294.5 605.8 295.2 606.8 294.7 607.8 295.4 608.8 294 609.8 293.5 610.8 290.6 611.8 289.2 612.8 286.1 613.8 283.8 614.8 280.3 615.8 278.1 616.8 276.5 617.8 278 618.8 281.3 619.8 286.9 620.8 291.2 621.8 300.2 622.8 304.8 623.8 311.8 624.8 317.7 625.8 321.8 626.8 327.4 627.8 328.8 628.8 332.4 629.8 333.7 630.8 333.4 631.8 335 632.8 336.4 633.8 335.4 634.8 336.1 635.8 335.8 636.8 336.5 637.8 336.3 638.8 336.9 639.8 337.8 640.8 338.3 641.8 337.3 642.8 337.4 643.8 338.1 644.8 337.2 645.8 336.6 646.8 338.5 647.8 336.8 648.8 338.5 649.8 336.9 650.8 339.4 651.8 337 652.8 338.6 653.8 339.2 654.8 337.2 655.8 339.3 656.8 337.4" stroke="#e0e0e0" stroke-width="1" fill="none"/>
<path d="M468.8 336.7 469.3 336.7 469.8 336.7 470.3 336.7 470.8 336.7 471.3 336.7 471.8 336.7 472.3 336.7 472.8 336.7 473.3 336.7 473.8 336.7 474.3 336.7 474.8 336.7 475.3 336.7 475.8 336.7 476.3 336.7 476.8 336.7 477.3 336.7 477.8 336.7 478.3 336.7 478.8 336.7 479.3 336.7 479.8 336.7 480.3 336.7 480.8 336.7 481.3 336.7 481.8 336.7 482.3 336.7 482.8 336.7 483.3 336.7 483.8 336.6 484.3 336.6 484.8 336.6 485.3 336.6 485.8 336.6 486.3 336.6 486.8 336.6 487.3 336.6 487.8 336.6 488.3 336.6 488.8 336.6 489.3 336.6 489.8 336.6 490.3 336.6 490.8 336.5 491.3 336.5 491.8 336.5 492.3 336.5 492.8 336.5 493.3 336.5 493.8 336.5 494.3 336.4 494.8 336.4 495.3 336.4 495.8 336.4 496.3 336.4 496.8 336.4 497.3 336.3 497.8 336.3 498.3 336.3 498.8 336.3 499.3 336.2 499.8 336.2 500.3 336.2 500.8 336.1 501.3 336.1 501.8 336.1 502.3 336 502.8 336 503.3 335.9 503.8 335.9 504.3 335.8 504.8 335.8 505.3 335.7 505.8 335.7 506.3 335.6 506.8 335.6 507.3 335.5 507.8 335.4 508.3 335.4 508.8 335.3 509.3 335.2 509.8 335.1 510.3 335.1 510.8 335 511.3 334.9 511.8 334.8 512.3 334.7 512.8 334.6 513.3 334.5 513.8 334.4 514.3 334.2 514.8 334.1 515.3 334 515.8 333.9 516.3 333.7 516.8 333.6 517.3 333.4 517.8 333.3 518.3 333.1 518.8 333 519.3 332.8 519.8 332.6 520.3 332.5 520.8 332.3 521.3 332.1 521.8 331.9 522.3 331.7 522.8 331.5 523.3 331.3 523.8 331.1 524.3 330.8 524.8 330.6 525.3 330.4 525.8 330.1 526.3 329.9 526.8 329.6 527.3 329.4 527.8 329.1 528.3 328.8 528.8 328.5 529.3 328.3 529.8 328 530.3 327.7 530.8 327.4 531.3 327.1 531.8 326.7 532.3 326.4 532.8 326.1 533.3 325.8 533.8 325.5 534.3 325.1 534.8 324.8 535.3 324.4 535.8 324.1 536.3 323.8 536.8 323.4 537.3 323 537.8 322.7 538.3 322.3 538.8 322 539.3 321.6 539.8 321.2 540.3 320.9 540.8 320.5 541.3 320.2 541.8 319.8 542.3 319.4 542.8 319.1 543.3 318.7 543.8 318.4 544.3 318 544.8 317.7 545.3 317.3 545.8 317 546.3 316.6 546.8 316.3 547.3 316 547.8 315.7 548.3 315.3 548.8 315 549.3 314.7 549.8 314.4 550.3 314.2 550.8 313.9 551.3 313.6 551.8 313.4 552.3 313.1 552.8 312.9 553.3 312.7 553.8 312.5 554.3 312.3 554.8 312.1 555.3 311.9 555.8 311.8 556.3 311.6 556.8 311.5 557.3 311.4 557.8 311.3 558.3 311.2 558.8 311.2 559.3 311.1 559.8 311.1 560.3 311.1 560.8 311.1 561.3 311.1 561.8 311.1 562.3 311.1 562.8 311.2 563.3 311.3 563.8 311.4 564.3 311.5 564.8 311.6 565.3 311.7 565.8 311.9 566.3 312 566.8 312.2 567.3 312.4 567.8 312.6 568.3 312.8 568.8 313 569.3 313.2 569.8 313.5 570.3 313.7 570.8 314 571.3 314.2 571.8 314.5 572.3 314.8 572.8 315 573.3 315.3 573.8 315.6 574.3 315.9 574.8 316.2 575.3 316.4 575.8 316.7 576.3 317 576.8 317.2 577.3 317.5 577.8 317.7 578.3 317.9 578.8 318.2 579.3 318.3 579.8 318.5 580.3 318.6 580.8 318.7 581.3 318.8 581.8 318.9 582.3 318.9 582.8 318.8 583.3 318.7 583.8 318.6 584.3 318.4 584.8 318.2 585.3 317.9 585.8 317.5 586.3 317.1 586.8 316.6 587.3 316 587.8 315.4 588.3 314.7 588.8 314 589.3 313.2 589.8 312.3 590.3 311.3 590.8 310.3 591.3 309.3 591.8 308.2 592.3 307.1 592.8 305.9 593.3 304.7 593.8 303.5 594.3 302.3 594.8 301.1 595.3 300 595.8 298.8 596.3 297.7 596.8 296.7 597.3 295.7 597.8 294.8 598.3 294 598.8 293.3 599.3 292.6 599.8 292.2 600.3 291.8 600.8 291.5 601.3 291.4 601.8 291.4 602.3 291.5 602.8 291.7 603.3 292 603.8 292.3 604.3 292.7 604.8 293.2 605.3 293.6 605.8 294 606.3 294.4 606.8 294.7 607.3 294.9 607.8 295 608.3 294.9 608.8 294.7 609.3 294.2 609.8 293.6 610.3 292.8 610.8 291.7 611.3 290.5 611.8 289.1 612.3 287.6 612.8 286 613.3 284.3 613.8 282.6 614.3 281 614.8 279.5 615.3 278.3 615.8 277.4 616.3 276.8 616.8 276.8 617.3 277.2 617.8 278.1 618.3 279.6 618.8 281.6 619.3 284 619.8 286.7 620.3 289.7 620.8 292.9 621.3 296.2 621.8 299.6 622.3 302.9 622.8 306.2 623.3 309.3 623.8 312.3 624.3 315.1 624.8 317.7 625.3 320.1 625.8 322.3 626.3 324.2 626.8 326 627.3 327.5 627.8 328.9 628.3 330 628.8 331.1 629.3 331.9 629.8 332.7 630.3 333.3 630.8 333.8 631.3 334.3 631.8 334.6 632.3 335 632.8 335.2 633.3 335.5 633.8 335.7 634.3 335.9 634.8 336 635.3 336.1 635.8 336.3 636.3 336.4 636.8 336.5 637.3 336.6 637.8 336.6 638.3 336.7 638.8 336.8 639.3 336.9 639.8 336.9 640.3 337 640.8 337.1 641.3 337.1 641.8 337.2 642.3 337.2 642.8 337.3 643.3 337.3 643.8 337.3 644.3 337.4 644.8 337.4 645.3 337.5 645.8 337.5 646.3 337.5 646.8 337.6 647.3 337.6 647.8 337.6 648.3 337.7 648.8 337.7 649.3 337.7 649.8 337.8 650.3 337.8 650.8 337.8 651.3 337.8 651.8 337.9 652.3 337.9 652.8 337.9 653.3 337.9 653.8 338 654.3 338 654.8 338 655.3 338 655.8 338 656.3 338.1 656.8 338.1 657.3 338.1" stroke="#9c9c9c" stroke-width="0.65" fill="none"/>
<path d="M468.8 335.4 469.3 335.4 469.8 335.4 470.3 335.4 470.8 335.4 471.3 335.4 471.8 335.4 472.3 335.4 472.8 335.4 473.3 335.4 473.8 335.4 474.3 335.4 474.8 335.4 475.3 335.4 475.8 335.4 476.3 335.4 476.8 335.4 477.3 335.4 477.8 335.4 478.3 335.4 478.8 335.4 479.3 335.4 479.8 335.4 480.3 335.4 480.8 335.4 481.3 335.4 481.8 335.4 482.3 335.4 482.8 335.4 483.3 335.4 483.8 335.3 484.3 335.3 484.8 335.3 485.3 335.3 485.8 335.3 486.3 335.3 486.8 335.3 487.3 335.3 487.8 335.3 488.3 335.3 488.8 335.3 489.3 335.3 489.8 335.3 490.3 335.3 490.8 335.2 491.3 335.2 491.8 335.2 492.3 335.2 492.8 335.2 493.3 335.2 493.8 335.2 494.3 335.1 494.8 335.1 495.3 335.1 495.8 335.1 496.3 335.1 496.8 335.1 497.3 335 497.8 335 498.3 335 498.8 335 499.3 334.9 499.8 334.9 500.3 334.9 500.8 334.8 501.3 334.8 501.8 334.8 502.3 334.7 502.8 334.7 503.3 334.6 503.8 334.6 504.3 334.5 504.8 334.5 505.3 334.4 505.8 334.4 506.3 334.3 506.8 334.3 507.3 334.2 507.8 334.1 508.3 334.1 508.8 334 509.3 333.9 509.8 333.8 510.3 333.8 510.8 333.7 511.3 333.6 511.8 333.5 512.3 333.4 512.8 333.3 513.3 333.2 513.8 333.1 514.3 332.9 514.8 332.8 515.3 332.7 515.8 332.6 516.3 332.4 516.8 332.3 517.3 332.1 517.8 332 518.3 331.8 518.8 331.7 519.3 331.5 519.8 331.3 520.3 331.2 520.8 331 521.3 330.8 521.8 330.6 522.3 330.4 522.8 330.2 523.3 330 523.8 329.8 524.3 329.5 524.8 329.3 525.3 329.1 525.8 328.8 526.3 328.6 526.8 328.3 527.3 328.1 527.8 327.8 528.3 327.5 528.8 327.2 529.3 327 529.8 326.7 530.3 326.4 530.8 326.1 531.3 325.8 531.8 325.4 532.3 325.1 532.8 324.8 533.3 324.5 533.8 324.2 534.3 323.8 534.8 323.5 535.3 323.1 535.8 322.8 536.3 322.5 536.8 322.1 537.3 321.7 537.8 321.4 538.3 321 538.8 320.7 539.3 320.3 539.8 319.9 540.3 319.6 540.8 319.2 541.3 318.9 541.8 318.5 542.3 318.1 542.8 317.8 543.3 317.4 543.8 317.1 544.3 316.7 544.8 316.4 545.3 316 545.8 315.7 546.3 315.3 546.8 315 547.3 314.7 547.8 314.4 548.3 314 548.8 313.7 549.3 313.4 549.8 313.1 550.3 312.9 550.8 312.6 551.3 312.3 551.8 312.1 552.3 311.8 552.8 311.6 553.3 311.4 553.8 311.2 554.3 311 554.8 310.8 555.3 310.6 555.8 310.5 556.3 310.3 556.8 310.2 557.3 310.1 557.8 310 558.3 309.9 558.8 309.9 559.3 309.8 559.8 309.8 560.3 309.8 560.8 309.8 561.3 309.8 561.8 309.8 562.3 309.8 562.8 309.9 563.3 310 563.8 310.1 564.3 310.2 564.8 310.3 565.3 310.4 565.8 310.6 566.3 310.7 566.8 310.9 567.3 311.1 567.8 311.3 568.3 311.5 568.8 311.7 569.3 311.9 569.8 312.2 570.3 312.4 570.8 312.7 571.3 312.9 571.8 313.2 572.3 313.5 572.8 313.7 573.3 314 573.8 314.3 574.3 314.6 574.8 314.9 575.3 315.1 575.8 315.4 576.3 315.7 576.8 315.9 577.3 316.2 577.8 316.4 578.3 316.6 578.8 316.9 579.3 317 579.8 317.2 580.3 317.3 580.8 317.4 581.3 317.5 581.8 317.6 582.3 317.6 582.8 317.5 583.3 317.4 583.8 317.3 584.3 317.1 584.8 316.9 585.3 316.6 585.8 316.2 586.3 315.8 586.8 315.3 587.3 314.7 587.8 314.1 588.3 313.4 588.8 312.7 589.3 311.9 589.8 311 590.3 310 590.8 309 591.3 308 591.8 306.9 592.3 305.8 592.8 304.6 593.3 303.4 593.8 302.2 594.3 301 594.8 299.8 595.3 298.7 595.8 297.5 596.3 296.4 596.8 295.4 597.3 294.4 597.8 293.5 598.3 292.7 598.8 292 599.3 291.3 599.8 290.9 600.3 290.5 600.8 290.2 601.3 290.1 601.8 290.1 602.3 290.2 602.8 290.4 603.3 290.7 603.8 291 604.3 291.4 604.8 291.9 605.3 292.3 605.8 292.7 606.3 293.1 606.8 293.4 607.3 293.6 607.8 293.7 608.3 293.6 608.8 293.4 609.3 292.9 609.8 292.3 610.3 291.5 610.8 290.4 611.3 289.2 611.8 287.8 612.3 286.3 612.8 284.7 613.3 283 613.8 281.3 614.3 279.7 614.8 278.2 615.3 277 615.8 276.1 616.3 275.5 616.8 275.5 617.3 275.9 617.8 276.8 618.3 278.3 618.8 280.3 619.3 282.7 619.8 285.4 620.3 288.4 620.8 291.6 621.3 294.9 621.8 298.3 622.3 301.6 622.8 304.9 623.3 308 623.8 311 624.3 313.8 624.8 316.4 625.3 318.8 625.8 321 626.3 322.9 626.8 324.7 627.3 326.2 627.8 327.6 628.3 328.7 628.8 329.8 629.3 330.6 629.8 331.4 630.3 332 630.8 332.5 631.3 333 631.8 333.3 632.3 333.7 632.8 333.9 633.3 334.2 633.8 334.4 634.3 334.6 634.8 334.7 635.3 334.8 635.8 335 636.3 335.1 636.8 335.2 637.3 335.3 637.8 335.3 638.3 335.4 638.8 335.5 639.3 335.6 639.8 335.6 640.3 335.7 640.8 335.8 641.3 335.8 641.8 335.9 642.3 335.9 642.8 336 643.3 336 643.8 336 644.3 336.1 644.8 336.1 645.3 336.2 645.8 336.2 646.3 336.2 646.8 336.3 647.3 336.3 647.8 336.3 648.3 336.4 648.8 336.4 649.3 336.4 649.8 336.5 650.3 336.5 650.8 336.5 651.3 336.5 651.8 336.6 652.3 336.6 652.8 336.6 653.3 336.6 653.8 336.7 654.3 336.7 654.8 336.7 655.3 336.7 655.8 336.7 656.3 336.8 656.8 336.8 657.3 336.8" stroke="#cccccc" stroke-width="0.55" fill="none"/>
<line x1="468" y1="192" x2="658.6" y2="192" stroke="#6a6a6a" stroke-width="1.4"/>
<line x1="658.6" y1="192" x2="658.6" y2="348.7" stroke="#333" stroke-width="1.4"/>
<line x1="468" y1="191.3" x2="468" y2="349.4" stroke="#666" stroke-width="1.4"/>
<line x1="468" y1="348.7" x2="658.6" y2="348.7" stroke="#3a3a3a" stroke-width="1.4"/>
<line x1="468" y1="269.4" x2="658.6" y2="269.4" stroke="#111" stroke-width="1.4"/>
<line x1="645.16" y1="269.4" x2="645.16" y2="267.2" stroke="#111" stroke-width="1"/>
<line x1="631.53" y1="269.4" x2="631.53" y2="267.2" stroke="#111" stroke-width="1"/>
<line x1="617.9" y1="269.4" x2="617.9" y2="267.2" stroke="#111" stroke-width="1"/>
<line x1="604.27" y1="269.4" x2="604.27" y2="267.2" stroke="#111" stroke-width="1"/>
<line x1="590.64" y1="269.4" x2="590.64" y2="267.2" stroke="#111" stroke-width="1"/>
<line x1="577.01" y1="269.4" x2="577.01" y2="267.2" stroke="#111" stroke-width="1"/>
<line x1="563.38" y1="269.4" x2="563.38" y2="267.2" stroke="#111" stroke-width="1"/>
<line x1="549.75" y1="269.4" x2="549.75" y2="267.2" stroke="#111" stroke-width="1"/>
<line x1="536.12" y1="269.4" x2="536.12" y2="267.2" stroke="#111" stroke-width="1"/>
<line x1="522.49" y1="269.4" x2="522.49" y2="267.2" stroke="#111" stroke-width="1"/>
<line x1="508.86" y1="269.4" x2="508.86" y2="267.2" stroke="#111" stroke-width="1"/>
<line x1="495.23" y1="269.4" x2="495.23" y2="267.2" stroke="#111" stroke-width="1"/>
<line x1="481.6" y1="269.4" x2="481.6" y2="267.2" stroke="#111" stroke-width="1"/>
<line x1="481.6" y1="348.7" x2="481.6" y2="346.3" stroke="#111" stroke-width="1"/>
<text x="482.4" y="359.3" font-size="11.2" text-anchor="middle" fill="#000" font-weight="bold" font-family="Liberation Serif">174</text>
<line x1="502.05" y1="348.7" x2="502.05" y2="346.3" stroke="#111" stroke-width="1"/>
<line x1="522.49" y1="348.7" x2="522.49" y2="346.3" stroke="#111" stroke-width="1"/>
<text x="523.29" y="359.3" font-size="11.2" text-anchor="middle" fill="#000" font-weight="bold" font-family="Liberation Serif">171</text>
<line x1="542.94" y1="348.7" x2="542.94" y2="346.3" stroke="#111" stroke-width="1"/>
<line x1="563.38" y1="348.7" x2="563.38" y2="346.3" stroke="#111" stroke-width="1"/>
<text x="564.18" y="359.3" font-size="11.2" text-anchor="middle" fill="#000" font-weight="bold" font-family="Liberation Serif">168</text>
<line x1="583.83" y1="348.7" x2="583.83" y2="346.3" stroke="#111" stroke-width="1"/>
<line x1="604.27" y1="348.7" x2="604.27" y2="346.3" stroke="#111" stroke-width="1"/>
<text x="605.07" y="359.3" font-size="11.2" text-anchor="middle" fill="#000" font-weight="bold" font-family="Liberation Serif">165</text>
<line x1="624.72" y1="348.7" x2="624.72" y2="346.3" stroke="#111" stroke-width="1"/>
<line x1="645.16" y1="348.7" x2="645.16" y2="346.3" stroke="#111" stroke-width="1"/>
<text x="645.96" y="359.3" font-size="11.2" text-anchor="middle" fill="#000" font-weight="bold" font-family="Liberation Serif">162</text>
<line x1="465.8" y1="269.4" x2="468" y2="269.4" stroke="#111" stroke-width="1"/>
<line x1="553.5" y1="211.3" x2="553.5" y2="282.5" stroke="#d8262b" stroke-width="1.3" stroke-dasharray="3.2 2.2"/>
<line x1="560.5" y1="276.4" x2="560.5" y2="329.5" stroke="#d8262b" stroke-width="1.3" stroke-dasharray="3.2 2.2"/>
<text x="490.6" y="215.1" font-size="12.4" text-anchor="start" fill="#f47c7c" font-weight="bold" font-family="Liberation Serif">-SO<tspan dy="2.4" font-size="70%">3</tspan><tspan dy="-2.4">H</tspan></text>
<line x1="525.8" y1="217.4" x2="541.1" y2="226.16" stroke="#f47c7c" stroke-width="1.2"/>
<path d="M545 228.4 539.5 228 541.9 223.8Z" stroke="none" stroke-width="0" fill="#f47c7c"/>
<text x="495.3" y="286" font-size="11.8" text-anchor="start" fill="#f47c7c" font-weight="bold" font-family="Liberation Serif" textLength="37.5" lengthAdjust="spacingAndGlyphs">~0.6 eV</text>
<line x1="532" y1="281.7" x2="546.5" y2="281.7" stroke="#f47c7c" stroke-width="1.2"/>
<path d="M551 281.7 546 284.1 546 279.3Z" stroke="none" stroke-width="0" fill="#f47c7c"/>
<line x1="581.4" y1="281.7" x2="567.5" y2="281.7" stroke="#f47c7c" stroke-width="1.2"/>
<path d="M563 281.7 568 279.3 568 284.1Z" stroke="none" stroke-width="0" fill="#f47c7c"/>
<text x="477.7" y="245.4" font-size="12.5" text-anchor="start" fill="#000" font-weight="bold" font-family="Liberation Serif" textLength="46.3" lengthAdjust="spacingAndGlyphs">0.9SCNT</text>
<text x="477.6" y="322.3" font-size="12.5" text-anchor="start" fill="#000" font-weight="bold" font-family="Liberation Serif">0.9SCNT<tspan dy="2.6" font-size="68%">CH</tspan></text>
<text x="454.4" y="203.6" font-size="18.3" text-anchor="start" fill="#000" font-weight="bold" font-family="Liberation Serif">e</text>
<text x="464.6" y="274.1" font-size="13.5" text-anchor="middle" fill="#000" font-weight="bold" font-family="Liberation Serif" textLength="77" lengthAdjust="spacingAndGlyphs" transform="rotate(-90 464.6 274.1)">Intensity (a.u.)</text>
<text x="570" y="366.6" font-size="12.5" text-anchor="middle" fill="#000" font-weight="bold" font-family="Liberation Serif" textLength="95.2" lengthAdjust="spacingAndGlyphs">Binding Engery (eV)</text>
<rect x="36.8" y="381.1" width="52.5" height="102.2" fill="#fdeeee" stroke="#f4a3a3" stroke-width="0.9" stroke-dasharray="3 2"/>
<rect x="155" y="382.6" width="15.4" height="111.9" fill="#fdeeee" stroke="#f4a3a3" stroke-width="0.9" stroke-dasharray="3 2"/>
<rect x="183.3" y="382.6" width="15.6" height="110.9" fill="#fdeeee" stroke="#f4a3a3" stroke-width="0.9" stroke-dasharray="3 2"/>
<path d="M27.6 390 28.1 390 28.6 390 29.1 390 29.6 390 30.1 390 30.6 390 31.1 390 31.6 390 32.1 390 32.6 390 33.1 390 33.6 390 34.1 390 34.6 390 35.1 390 35.6 390 36.1 390 36.6 390 37.1 390 37.6 390 38.1 390 38.6 390 39.1 390 39.6 390 40.1 390 40.6 390 41.1 390 41.6 390 42.1 390 42.6 390 43.1 390 43.6 390 44.1 390 44.6 390 45.1 390 45.6 390 46.1 390 46.6 390 47.1 390 47.6 390 48.1 390 48.6 390 49.1 390 49.6 390 50.1 390 50.6 390 51.1 390 51.6 390 52.1 390 52.6 390 53.1 390 53.6 390 54.1 390 54.6 390 55.1 390 55.6 390 56.1 390 56.6 390 57.1 390 57.6 390 58.1 390 58.6 390 59.1 390 59.6 390 60.1 390 60.6 390 61.1 390 61.6 390 62.1 390 62.6 390 63.1 390 63.6 390 64.1 390 64.6 390 65.1 390 65.6 390 66.1 390 66.6 390 67.1 390 67.6 390 68.1 390 68.6 390 69.1 390 69.6 390 70.1 390 70.6 390 71.1 390 71.6 390 72.1 390 72.6 390 73.1 390 73.6 390 74.1 390 74.6 390 75.1 390 75.6 390 76.1 390 76.6 390 77.1 390 77.6 390 78.1 390 78.6 390 79.1 390 79.6 390 80.1 390 80.6 390 81.1 390 81.6 390 82.1 390 82.6 390 83.1 390 83.6 390 84.1 390 84.6 390 85.1 390 85.6 390 86.1 390 86.6 390 87.1 390 87.6 390 88.1 390 88.6 390 89.1 390 89.6 390 90.1 390 90.6 390 91.1 390 91.6 390 92.1 390 92.6 390 93.1 390 93.6 390 94.1 390 94.6 390 95.1 390 95.6 390 96.1 390 96.6 390 97.1 390 97.6 390 98.1 390 98.6 390 99.1 390 99.6 390 100.1 390 100.6 390 101.1 390 101.6 390 102.1 390 102.6 390 103.1 390 103.6 390 104.1 390 104.6 390 105.1 390 105.6 390 106.1 390 106.6 390 107.1 390 107.6 390 108.1 390 108.6 390 109.1 390 109.6 390 110.1 390 110.6 390 111.1 390 111.6 390 112.1 390 112.6 390 113.1 390 113.6 390 114.1 390 114.6 390" stroke="#1c1c1c" stroke-width="1" fill="none" stroke-linejoin="round"/>
<path d="M118.8 390 119.3 390 119.8 390 120.3 390 120.8 390 121.3 390 121.8 390 122.3 390 122.8 390 123.3 390 123.8 390 124.3 390 124.8 390 125.3 390 125.8 390 126.3 390 126.8 390 127.3 390 127.8 390 128.3 390 128.8 390 129.3 390 129.8 390 130.3 390 130.8 390 131.3 390 131.8 390 132.3 390 132.8 390 133.3 390 133.8 390 134.3 390 134.8 390 135.3 390 135.8 390 136.3 390 136.8 390 137.3 390 137.8 390 138.3 390 138.8 390 139.3 390 139.8 390 140.3 390 140.8 390 141.3 390 141.8 390 142.3 390 142.8 390 143.3 390 143.8 390 144.3 390 144.8 390 145.3 390 145.8 390 146.3 390 146.8 390 147.3 390 147.8 390 148.3 390 148.8 390 149.3 390 149.8 390 150.3 390 150.8 390 151.3 390 151.8 390.1 152.3 390.1 152.8 390.1 153.3 390.2 153.8 390.2 154.3 390.3 154.8 390.3 155.3 390.4 155.8 390.4 156.3 390.5 156.8 390.5 157.3 390.6 157.8 390.6 158.3 390.6 158.8 390.7 159.3 390.7 159.8 390.7 160.3 390.7 160.8 390.7 161.3 390.7 161.8 390.7 162.3 390.7 162.8 390.7 163.3 390.7 163.8 390.7 164.3 390.7 164.8 390.7 165.3 390.7 165.8 390.7 166.3 390.7 166.8 390.7 167.3 390.7 167.8 390.7 168.3 390.7 168.8 390.7 169.3 390.7 169.8 390.7 170.3 390.7 170.8 390.7 171.3 390.7 171.8 390.7 172.3 390.7 172.8 390.7 173.3 390.7 173.8 390.7 174.3 390.7 174.8 390.7 175.3 390.7 175.8 390.7 176.3 390.7 176.8 390.7 177.3 390.7 177.8 390.7 178.3 390.7 178.8 390.7 179.3 390.7 179.8 390.7 180.3 390.7 180.8 390.7 181.3 390.7 181.8 390.7 182.3 390.7 182.8 390.7 183.3 390.7 183.8 390.7 184.3 390.7 184.8 390.7 185.3 390.7 185.8 390.7 186.3 390.7 186.8 390.7 187.3 390.7 187.8 390.7 188.3 390.7 188.8 390.7 189.3 390.7 189.8 390.7 190.3 390.7 190.8 390.7 191.3 390.7 191.8 390.7 192.3 390.7 192.8 390.7 193.3 390.7 193.8 390.7 194.3 390.7 194.8 390.7 195.3 390.7 195.8 390.7 196.3 390.7 196.8 390.7 197.3 390.7 197.8 390.7 198.3 390.7 198.8 390.7 199.3 390.7 199.8 390.7 200.3 390.7 200.8 390.7 201.3 390.7 201.8 390.7 202.3 390.7 202.8 390.7 203.3 390.7 203.8 390.7 204.3 390.7 204.8 390.7 205.3 390.7 205.8 390.7 206.3 390.7 206.8 390.7 207.3 390.7 207.8 390.7 208.3 390.7 208.8 390.7 209.3 390.7 209.8 390.7" stroke="#1c1c1c" stroke-width="1" fill="none" stroke-linejoin="round"/>
<path d="M27.6 397.4 28.1 397.6 28.6 397.5 29.1 397.5 29.6 397.6 30.1 397.4 30.6 397.6 31.1 397.5 31.6 397.6 32.1 397.6 32.6 397.6 33.1 397.6 33.6 397.6 34.1 397.5 34.6 397.4 35.1 397.5 35.6 397.7 36.1 397.7 36.6 397.9 37.1 398.2 37.6 398.2 38.1 398.1 38.6 397.8 39.1 397.7 39.6 397.6 40.1 397.6 40.6 397.5 41.1 397.5 41.6 397.4 42.1 397.4 42.6 397.6 43.1 397.7 43.6 397.6 44.1 397.5 44.6 397.4 45.1 397.2 45.6 397.1 46.1 397.1 46.6 397.2 47.1 397.2 47.6 397 48.1 397 48.6 396.9 49.1 396.8 49.6 396.8 50.1 396.7 50.6 396.7 51.1 396.6 51.6 396.5 52.1 396.6 52.6 396.6 53.1 396.6 53.6 396.7 54.1 396.4 54.6 396.4 55.1 396.3 55.6 396.3 56.1 396.3 56.6 396.3 57.1 396.4 57.6 396.3 58.1 396.2 58.6 396.2 59.1 396.3 59.6 396.2 60.1 396.3 60.6 396.4 61.1 396.3 61.6 396.3 62.1 396.4 62.6 396.2 63.1 396.3 63.6 396.3 64.1 396.2 64.6 396.3 65.1 396.3 65.6 396.3 66.1 396.3 66.6 396.4 67.1 396.4 67.6 396.4 68.1 396.4 68.6 396.3 69.1 396.3 69.6 396.3 70.1 396.1 70.6 396.3 71.1 396.3 71.6 396.2 72.1 396.1 72.6 396.2 73.1 396.3 73.6 396.3 74.1 396.3 74.6 396.3 75.1 396.3 75.6 396.4 76.1 396.4 76.6 396.5 77.1 396.6 77.6 396.6 78.1 396.7 78.6 396.8 79.1 396.9 79.6 396.9 80.1 396.9 80.6 396.9 81.1 397 81.6 397.1 82.1 397.2 82.6 397.2 83.1 397.1 83.6 397.1 84.1 397.3 84.6 397.4 85.1 397.5 85.6 397.4 86.1 397.4 86.6 397.5 87.1 397.5 87.6 397.6 88.1 397.6 88.6 397.5 89.1 397.5 89.6 397.6 90.1 397.6 90.6 397.5 91.1 397.5 91.6 397.6 92.1 397.6 92.6 397.6 93.1 397.7 93.6 397.6 94.1 397.6 94.6 397.6 95.1 397.6 95.6 397.6 96.1 397.6 96.6 397.5 97.1 397.5 97.6 397.5 98.1 397.6 98.6 397.6 99.1 397.7 99.6 397.7 100.1 397.6 100.6 397.6 101.1 397.6 101.6 397.6 102.1 397.4 102.6 397.5 103.1 397.5 103.6 397.6 104.1 397.4 104.6 397.5 105.1 397.5 105.6 397.4 106.1 397.5 106.6 397.5 107.1 397.5 107.6 397.5 108.1 397.5 108.6 397.4 109.1 397.5 109.6 397.6 110.1 397.7 110.6 397.7 111.1 397.7 111.6 397.7 112.1 397.6 112.6 397.5 113.1 397.7 113.6 397.7 114.1 397.6 114.6 397.5" stroke="#7882f2" stroke-width="0.9" fill="none" stroke-linejoin="round"/>
<path d="M118.8 397.7 119.3 397.7 119.8 397.6 120.3 397.6 120.8 397.7 121.3 397.7 121.8 397.7 122.3 397.6 122.8 397.6 123.3 397.7 123.8 397.8 124.3 397.8 124.8 397.7 125.3 397.7 125.8 397.6 126.3 397.7 126.8 397.7 127.3 397.6 127.8 397.5 128.3 397.5 128.8 397.6 129.3 397.6 129.8 397.7 130.3 397.6 130.8 397.6 131.3 397.6 131.8 397.6 132.3 397.6 132.8 397.5 133.3 397.5 133.8 397.5 134.3 397.6 134.8 397.5 135.3 397.5 135.8 397.6 136.3 397.5 136.8 397.6 137.3 397.6 137.8 397.6 138.3 397.6 138.8 397.6 139.3 397.6 139.8 397.5 140.3 397.5 140.8 397.5 141.3 397.7 141.8 397.6 142.3 397.7 142.8 397.7 143.3 397.6 143.8 397.4 144.3 397.5 144.8 397.4 145.3 397.5 145.8 397.6 146.3 397.6 146.8 397.6 147.3 397.6 147.8 397.6 148.3 397.6 148.8 397.6 149.3 397.5 149.8 397.6 150.3 397.6 150.8 397.6 151.3 397.5 151.8 397.5 152.3 397.5 152.8 397.5 153.3 397.6 153.8 397.6 154.3 397.6 154.8 397.6 155.3 397.6 155.8 397.6 156.3 397.6 156.8 397.5 157.3 397.2 157.8 397 158.3 397 158.8 396.8 159.3 396.8 159.8 396.5 160.3 396.4 160.8 396.5 161.3 396.6 161.8 396.9 162.3 397 162.8 397.1 163.3 397.3 163.8 397.4 164.3 397.4 164.8 397.5 165.3 397.5 165.8 397.6 166.3 397.6 166.8 397.6 167.3 397.6 167.8 397.6 168.3 397.4 168.8 397.5 169.3 397.5 169.8 397.5 170.3 397.6 170.8 397.6 171.3 397.7 171.8 397.7 172.3 397.7 172.8 397.7 173.3 397.6 173.8 397.6 174.3 397.5 174.8 397.6 175.3 397.6 175.8 397.8 176.3 397.6 176.8 397.7 177.3 397.6 177.8 397.6 178.3 397.7 178.8 397.6 179.3 397.5 179.8 397.6 180.3 397.6 180.8 397.4 181.3 397.5 181.8 397.5 182.3 397.5 182.8 397.5 183.3 397.6 183.8 397.5 184.3 397.7 184.8 397.6 185.3 397.5 185.8 397.4 186.3 397.3 186.8 397.1 187.3 397 187.8 397 188.3 397.2 188.8 397.2 189.3 397.3 189.8 397.3 190.3 397.4 190.8 397.5 191.3 397.6 191.8 397.7 192.3 397.7 192.8 397.7 193.3 397.7 193.8 397.6 194.3 397.6 194.8 397.5 195.3 397.5 195.8 397.5 196.3 397.5 196.8 397.6 197.3 397.6 197.8 397.7 198.3 397.7 198.8 397.7 199.3 397.7 199.8 397.6 200.3 397.7 200.8 397.6 201.3 397.6 201.8 397.7 202.3 397.8 202.8 397.6 203.3 397.7 203.8 397.7 204.3 397.6 204.8 397.6 205.3 397.6 205.8 397.7 206.3 397.6 206.8 397.5 207.3 397.6 207.8 397.6 208.3 397.7 208.8 397.7 209.3 397.7 209.8 397.6" stroke="#7882f2" stroke-width="0.9" fill="none" stroke-linejoin="round"/>
<path d="M27.6 413.2 28.1 413.2 28.6 413.3 29.1 413.3 29.6 413.3 30.1 413.3 30.6 413.4 31.1 413.2 31.6 413.2 32.1 413.4 32.6 413.3 33.1 413.1 33.6 413.2 34.1 413.1 34.6 413.1 35.1 413.2 35.6 413.3 36.1 413.4 36.6 413.6 37.1 413.9 37.6 413.9 38.1 413.6 38.6 413.4 39.1 413.3 39.6 413.2 40.1 413.2 40.6 413.1 41.1 413.1 41.6 413 42.1 413.1 42.6 413 43.1 413 43.6 413.1 44.1 413.1 44.6 413 45.1 412.9 45.6 412.8 46.1 412.8 46.6 412.7 47.1 412.7 47.6 412.6 48.1 412.6 48.6 412.5 49.1 412.5 49.6 412.4 50.1 412.3 50.6 412.3 51.1 412.3 51.6 412.3 52.1 412.2 52.6 412.1 53.1 412 53.6 412 54.1 412 54.6 412 55.1 411.8 55.6 412 56.1 412 56.6 411.9 57.1 411.8 57.6 411.8 58.1 411.8 58.6 411.7 59.1 411.7 59.6 411.7 60.1 411.7 60.6 411.9 61.1 411.9 61.6 411.8 62.1 411.9 62.6 411.9 63.1 411.8 63.6 411.9 64.1 411.9 64.6 411.9 65.1 411.8 65.6 411.8 66.1 411.9 66.6 411.7 67.1 411.8 67.6 411.8 68.1 411.8 68.6 411.7 69.1 411.7 69.6 411.7 70.1 411.8 70.6 411.7 71.1 411.8 71.6 411.7 72.1 411.8 72.6 411.8 73.1 411.9 73.6 411.8 74.1 412 74.6 411.9 75.1 412 75.6 412.1 76.1 412.1 76.6 412.2 77.1 412.1 77.6 412.2 78.1 412.1 78.6 412.2 79.1 412.2 79.6 412.2 80.1 412.3 80.6 412.5 81.1 412.6 81.6 412.5 82.1 412.8 82.6 412.7 83.1 412.8 83.6 412.9 84.1 412.8 84.6 412.8 85.1 412.9 85.6 413 86.1 413.2 86.6 413.1 87.1 413.2 87.6 413.2 88.1 413.2 88.6 413.2 89.1 413.2 89.6 413.2 90.1 413.1 90.6 413.1 91.1 413.1 91.6 413.2 92.1 413.1 92.6 413.3 93.1 413.2 93.6 413.2 94.1 413.2 94.6 413.2 95.1 413.2 95.6 413.1 96.1 413.1 96.6 413 97.1 413.2 97.6 413.3 98.1 413.4 98.6 413.3 99.1 413.3 99.6 413.3 100.1 413.3 100.6 413.3 101.1 413.3 101.6 413.4 102.1 413.2 102.6 413.1 103.1 413.1 103.6 413.2 104.1 413.3 104.6 413.2 105.1 413.3 105.6 413.2 106.1 413.2 106.6 413.2 107.1 413.2 107.6 413.2 108.1 413.3 108.6 413.4 109.1 413.2 109.6 413.2 110.1 413.2 110.6 413.3 111.1 413.3 111.6 413.3 112.1 413.3 112.6 413.2 113.1 413.1 113.6 413.2 114.1 413.3 114.6 413.2" stroke="#62b7f2" stroke-width="0.9" fill="none" stroke-linejoin="round"/>
<path d="M118.8 413.3 119.3 413.3 119.8 413.1 120.3 413.2 120.8 413.1 121.3 413.2 121.8 413.2 122.3 413.1 122.8 413.1 123.3 413.1 123.8 413.2 124.3 413.2 124.8 413.1 125.3 413.3 125.8 413.4 126.3 413.3 126.8 413.2 127.3 413.1 127.8 413.1 128.3 413.2 128.8 413.3 129.3 413.2 129.8 413.2 130.3 413.2 130.8 413.2 131.3 413.2 131.8 413.3 132.3 413.2 132.8 413.3 133.3 413.3 133.8 413.3 134.3 413.2 134.8 413.1 135.3 413.2 135.8 413.2 136.3 413.1 136.8 413.2 137.3 413.1 137.8 413.1 138.3 413.1 138.8 413.2 139.3 413.2 139.8 413.2 140.3 413.1 140.8 413 141.3 413.2 141.8 413.2 142.3 413.1 142.8 413.1 143.3 413.2 143.8 413.1 144.3 413.1 144.8 413.1 145.3 413.1 145.8 413.2 146.3 413.3 146.8 413.3 147.3 413.2 147.8 413.2 148.3 413.2 148.8 413.2 149.3 413.2 149.8 413.2 150.3 413.3 150.8 413.4 151.3 413.3 151.8 413.3 152.3 413.3 152.8 413.3 153.3 413.2 153.8 413.2 154.3 413.3 154.8 413.3 155.3 413.3 155.8 413.2 156.3 413.2 156.8 413.2 157.3 413 157.8 412.9 158.3 412.9 158.8 412.5 159.3 412.4 159.8 412.2 160.3 412.1 160.8 412.1 161.3 412.3 161.8 412.4 162.3 412.5 162.8 412.6 163.3 412.8 163.8 412.9 164.3 413 164.8 413 165.3 413.2 165.8 413.1 166.3 413.2 166.8 413.1 167.3 413.1 167.8 413.2 168.3 413.2 168.8 413.2 169.3 413.1 169.8 413.1 170.3 413.2 170.8 413.2 171.3 413.3 171.8 413.3 172.3 413.3 172.8 413.3 173.3 413.1 173.8 413.1 174.3 413.2 174.8 413.2 175.3 413.3 175.8 413.1 176.3 413 176.8 413 177.3 413 177.8 413.1 178.3 413.1 178.8 413.2 179.3 413.2 179.8 413.1 180.3 413.2 180.8 413.2 181.3 413.2 181.8 413.2 182.3 413.3 182.8 413.2 183.3 413.2 183.8 413.1 184.3 412.9 184.8 413 185.3 413 185.8 413.1 186.3 413 186.8 412.8 187.3 412.8 187.8 412.7 188.3 412.7 188.8 412.7 189.3 412.8 189.8 412.9 190.3 413.1 190.8 413.1 191.3 413 191.8 413.2 192.3 413.3 192.8 413.2 193.3 413.1 193.8 413.3 194.3 413.2 194.8 413.2 195.3 413.1 195.8 413 196.3 413 196.8 413.1 197.3 413.2 197.8 413.2 198.3 413.1 198.8 413.1 199.3 413.2 199.8 413.1 200.3 413.1 200.8 413.1 201.3 413.2 201.8 413.2 202.3 413.2 202.8 413.1 203.3 413 203.8 413.1 204.3 413.1 204.8 413.1 205.3 413.1 205.8 413.2 206.3 413.1 206.8 413.3 207.3 413.2 207.8 413.3 208.3 413.3 208.8 413.3 209.3 413.3 209.8 413.1" stroke="#62b7f2" stroke-width="0.9" fill="none" stroke-linejoin="round"/>
<path d="M27.6 430.8 28.1 430.9 28.6 430.9 29.1 430.9 29.6 430.9 30.1 430.8 30.6 430.8 31.1 430.7 31.6 430.8 32.1 430.8 32.6 431 33.1 430.9 33.6 431 34.1 431 34.6 430.8 35.1 430.9 35.6 430.9 36.1 431.1 36.6 431.2 37.1 431.4 37.6 431.4 38.1 431.2 38.6 430.9 39.1 430.8 39.6 430.7 40.1 430.6 40.6 430.7 41.1 430.7 41.6 430.9 42.1 430.9 42.6 430.8 43.1 430.8 43.6 430.7 44.1 430.7 44.6 430.6 45.1 430.5 45.6 430.4 46.1 430.3 46.6 430.3 47.1 430.2 47.6 430.1 48.1 430 48.6 430 49.1 429.9 49.6 429.9 50.1 429.9 50.6 429.9 51.1 429.7 51.6 429.7 52.1 429.6 52.6 429.7 53.1 429.6 53.6 429.5 54.1 429.4 54.6 429.3 55.1 429.4 55.6 429.3 56.1 429.4 56.6 429.3 57.1 429.2 57.6 429.1 58.1 429.2 58.6 429.2 59.1 429.3 59.6 429.3 60.1 429.2 60.6 429.1 61.1 429.2 61.6 429.2 62.1 429.3 62.6 429.3 63.1 429.3 63.6 429.3 64.1 429.3 64.6 429.3 65.1 429.1 65.6 429.3 66.1 429.3 66.6 429.2 67.1 429.2 67.6 429.2 68.1 429.3 68.6 429.4 69.1 429.1 69.6 429.2 70.1 429.3 70.6 429.2 71.1 429.1 71.6 429.1 72.1 429.2 72.6 429.2 73.1 429.2 73.6 429.2 74.1 429.2 74.6 429.3 75.1 429.5 75.6 429.5 76.1 429.5 76.6 429.3 77.1 429.5 77.6 429.6 78.1 429.7 78.6 429.7 79.1 429.8 79.6 429.8 80.1 429.9 80.6 430 81.1 430.1 81.6 430.2 82.1 430.3 82.6 430.3 83.1 430.4 83.6 430.4 84.1 430.4 84.6 430.5 85.1 430.6 85.6 430.6 86.1 430.7 86.6 430.8 87.1 430.7 87.6 430.6 88.1 430.6 88.6 430.7 89.1 430.8 89.6 430.8 90.1 430.9 90.6 430.8 91.1 430.9 91.6 430.9 92.1 430.9 92.6 430.9 93.1 430.8 93.6 430.8 94.1 430.7 94.6 430.7 95.1 430.7 95.6 430.8 96.1 430.8 96.6 430.8 97.1 430.7 97.6 430.8 98.1 430.7 98.6 430.7 99.1 430.7 99.6 430.9 100.1 430.8 100.6 430.7 101.1 430.9 101.6 431 102.1 430.9 102.6 430.8 103.1 430.8 103.6 431 104.1 430.9 104.6 431 105.1 430.9 105.6 430.7 106.1 430.7 106.6 430.6 107.1 430.7 107.6 430.8 108.1 430.9 108.6 430.8 109.1 430.8 109.6 430.8 110.1 430.8 110.6 431 111.1 430.9 111.6 431 112.1 431 112.6 430.9 113.1 430.9 113.6 430.8 114.1 430.8 114.6 430.8" stroke="#aad772" stroke-width="0.9" fill="none" stroke-linejoin="round"/>
<path d="M118.8 430.8 119.3 430.8 119.8 430.9 120.3 430.8 120.8 430.9 121.3 431 121.8 430.9 122.3 431 122.8 431 123.3 431 123.8 431 124.3 430.8 124.8 431 125.3 430.9 125.8 430.7 126.3 430.7 126.8 430.7 127.3 430.7 127.8 430.6 128.3 430.6 128.8 430.7 129.3 430.8 129.8 430.7 130.3 430.7 130.8 430.8 131.3 430.8 131.8 430.8 132.3 430.8 132.8 430.8 133.3 430.7 133.8 430.7 134.3 430.8 134.8 430.7 135.3 430.7 135.8 430.7 136.3 430.8 136.8 430.9 137.3 430.8 137.8 430.8 138.3 430.8 138.8 430.8 139.3 430.7 139.8 430.7 140.3 430.7 140.8 430.7 141.3 430.8 141.8 430.8 142.3 430.8 142.8 430.6 143.3 430.6 143.8 430.7 144.3 430.7 144.8 430.8 145.3 430.8 145.8 430.8 146.3 430.7 146.8 430.7 147.3 430.7 147.8 430.7 148.3 430.8 148.8 430.7 149.3 430.6 149.8 430.7 150.3 430.6 150.8 430.8 151.3 430.7 151.8 430.8 152.3 430.8 152.8 430.7 153.3 430.6 153.8 430.6 154.3 430.7 154.8 430.8 155.3 430.9 155.8 430.8 156.3 430.8 156.8 430.7 157.3 430.6 157.8 430.4 158.3 430.3 158.8 430.1 159.3 429.9 159.8 429.8 160.3 429.7 160.8 429.8 161.3 429.8 161.8 430 162.3 430 162.8 430.2 163.3 430.3 163.8 430.5 164.3 430.7 164.8 430.8 165.3 430.8 165.8 430.9 166.3 430.8 166.8 430.7 167.3 430.9 167.8 430.9 168.3 430.7 168.8 430.8 169.3 430.7 169.8 430.8 170.3 430.9 170.8 430.8 171.3 430.9 171.8 430.8 172.3 430.9 172.8 430.9 173.3 430.8 173.8 430.7 174.3 430.7 174.8 430.6 175.3 430.6 175.8 430.6 176.3 430.8 176.8 430.7 177.3 430.6 177.8 430.7 178.3 430.8 178.8 430.7 179.3 430.9 179.8 430.9 180.3 430.9 180.8 430.8 181.3 430.6 181.8 430.7 182.3 430.8 182.8 430.8 183.3 430.7 183.8 430.7 184.3 430.6 184.8 430.6 185.3 430.6 185.8 430.7 186.3 430.6 186.8 430.5 187.3 430.5 187.8 430.6 188.3 430.5 188.8 430.4 189.3 430.4 189.8 430.4 190.3 430.4 190.8 430.6 191.3 430.7 191.8 430.7 192.3 430.8 192.8 430.8 193.3 430.8 193.8 430.9 194.3 430.9 194.8 431 195.3 430.9 195.8 430.8 196.3 430.9 196.8 430.9 197.3 430.9 197.8 430.8 198.3 430.9 198.8 430.8 199.3 430.7 199.8 430.8 200.3 430.7 200.8 430.8 201.3 430.8 201.8 430.8 202.3 430.8 202.8 430.8 203.3 430.8 203.8 430.9 204.3 430.7 204.8 430.7 205.3 430.7 205.8 430.8 206.3 430.8 206.8 430.8 207.3 430.8 207.8 430.7 208.3 430.7 208.8 430.7 209.3 430.7 209.8 430.8" stroke="#aad772" stroke-width="0.9" fill="none" stroke-linejoin="round"/>
<path d="M27.6 453.4 28.1 453.5 28.6 453.4 29.1 453.4 29.6 453.3 30.1 453.4 30.6 453.4 31.1 453.5 31.6 453.5 32.1 453.6 32.6 453.6 33.1 453.5 33.6 453.5 34.1 453.6 34.6 453.6 35.1 453.5 35.6 453.6 36.1 453.6 36.6 453.7 37.1 453.9 37.6 454.1 38.1 453.9 38.6 453.7 39.1 453.5 39.6 453.4 40.1 453.4 40.6 453.4 41.1 453.4 41.6 453.4 42.1 453.3 42.6 453.2 43.1 453.2 43.6 453.2 44.1 453.1 44.6 453 45.1 453 45.6 453 46.1 452.9 46.6 452.9 47.1 452.7 47.6 452.7 48.1 452.7 48.6 452.6 49.1 452.5 49.6 452.5 50.1 452.4 50.6 452.4 51.1 452.3 51.6 452.2 52.1 452.1 52.6 452.1 53.1 452.1 53.6 452 54.1 452 54.6 451.9 55.1 451.9 55.6 451.7 56.1 451.8 56.6 451.6 57.1 451.7 57.6 451.7 58.1 451.8 58.6 451.7 59.1 451.7 59.6 451.7 60.1 451.8 60.6 451.7 61.1 451.7 61.6 451.8 62.1 451.8 62.6 451.7 63.1 451.7 63.6 451.7 64.1 451.6 64.6 451.7 65.1 451.7 65.6 451.8 66.1 451.7 66.6 451.8 67.1 451.8 67.6 451.8 68.1 451.7 68.6 451.7 69.1 451.7 69.6 451.6 70.1 451.7 70.6 451.7 71.1 451.7 71.6 451.6 72.1 451.7 72.6 451.8 73.1 451.7 73.6 451.7 74.1 451.8 74.6 451.9 75.1 452 75.6 452 76.1 452 76.6 452 77.1 452.1 77.6 452.1 78.1 452.2 78.6 452.4 79.1 452.4 79.6 452.4 80.1 452.5 80.6 452.6 81.1 452.6 81.6 452.7 82.1 452.8 82.6 453 83.1 452.9 83.6 452.9 84.1 452.9 84.6 453.1 85.1 453.3 85.6 453.3 86.1 453.3 86.6 453.4 87.1 453.2 87.6 453.3 88.1 453.1 88.6 453.3 89.1 453.3 89.6 453.3 90.1 453.4 90.6 453.3 91.1 453.4 91.6 453.4 92.1 453.4 92.6 453.6 93.1 453.5 93.6 453.5 94.1 453.4 94.6 453.5 95.1 453.5 95.6 453.5 96.1 453.5 96.6 453.6 97.1 453.6 97.6 453.5 98.1 453.5 98.6 453.5 99.1 453.4 99.6 453.3 100.1 453.4 100.6 453.4 101.1 453.6 101.6 453.6 102.1 453.6 102.6 453.5 103.1 453.4 103.6 453.4 104.1 453.4 104.6 453.4 105.1 453.4 105.6 453.4 106.1 453.4 106.6 453.3 107.1 453.2 107.6 453.4 108.1 453.3 108.6 453.2 109.1 453.4 109.6 453.4 110.1 453.4 110.6 453.4 111.1 453.5 111.6 453.5 112.1 453.5 112.6 453.5 113.1 453.4 113.6 453.5 114.1 453.6 114.6 453.5" stroke="#8bb0e0" stroke-width="0.9" fill="none" stroke-linejoin="round"/>
<path d="M118.8 453.3 119.3 453.4 119.8 453.5 120.3 453.3 120.8 453.3 121.3 453.3 121.8 453.4 122.3 453.4 122.8 453.4 123.3 453.3 123.8 453.4 124.3 453.2 124.8 453.4 125.3 453.4 125.8 453.5 126.3 453.5 126.8 453.4 127.3 453.4 127.8 453.4 128.3 453.3 128.8 453.4 129.3 453.4 129.8 453.3 130.3 453.3 130.8 453.5 131.3 453.5 131.8 453.4 132.3 453.3 132.8 453.3 133.3 453.2 133.8 453.4 134.3 453.4 134.8 453.3 135.3 453.3 135.8 453.3 136.3 453.3 136.8 453.5 137.3 453.4 137.8 453.4 138.3 453.5 138.8 453.5 139.3 453.4 139.8 453.3 140.3 453.4 140.8 453.5 141.3 453.4 141.8 453.4 142.3 453.3 142.8 453.3 143.3 453.2 143.8 453.3 144.3 453.4 144.8 453.4 145.3 453.5 145.8 453.5 146.3 453.5 146.8 453.4 147.3 453.4 147.8 453.5 148.3 453.5 148.8 453.5 149.3 453.5 149.8 453.4 150.3 453.5 150.8 453.4 151.3 453.4 151.8 453.4 152.3 453.4 152.8 453.4 153.3 453.4 153.8 453.2 154.3 453.4 154.8 453.4 155.3 453.3 155.8 453.2 156.3 453.2 156.8 453.1 157.3 452.9 157.8 452.9 158.3 452.9 158.8 452.6 159.3 452.5 159.8 452.4 160.3 452.2 160.8 452.3 161.3 452.2 161.8 452.4 162.3 452.6 162.8 452.9 163.3 453.1 163.8 453.2 164.3 453.2 164.8 453.3 165.3 453.4 165.8 453.4 166.3 453.5 166.8 453.5 167.3 453.5 167.8 453.4 168.3 453.5 168.8 453.5 169.3 453.5 169.8 453.6 170.3 453.6 170.8 453.6 171.3 453.5 171.8 453.4 172.3 453.5 172.8 453.4 173.3 453.5 173.8 453.4 174.3 453.4 174.8 453.4 175.3 453.4 175.8 453.4 176.3 453.4 176.8 453.4 177.3 453.3 177.8 453.3 178.3 453.5 178.8 453.4 179.3 453.4 179.8 453.3 180.3 453.4 180.8 453.5 181.3 453.4 181.8 453.4 182.3 453.4 182.8 453.4 183.3 453.3 183.8 453.3 184.3 453.2 184.8 453.3 185.3 453.1 185.8 453.2 186.3 453.2 186.8 453.1 187.3 453.2 187.8 453.1 188.3 453 188.8 453 189.3 453.1 189.8 453.1 190.3 453.1 190.8 453.2 191.3 453.3 191.8 453.3 192.3 453.3 192.8 453.3 193.3 453.3 193.8 453.3 194.3 453.4 194.8 453.3 195.3 453.3 195.8 453.5 196.3 453.5 196.8 453.4 197.3 453.5 197.8 453.4 198.3 453.3 198.8 453.2 199.3 453.2 199.8 453.3 200.3 453.4 200.8 453.4 201.3 453.3 201.8 453.4 202.3 453.4 202.8 453.4 203.3 453.3 203.8 453.3 204.3 453.2 204.8 453.3 205.3 453.3 205.8 453.3 206.3 453.4 206.8 453.5 207.3 453.5 207.8 453.5 208.3 453.5 208.8 453.4 209.3 453.4 209.8 453.5" stroke="#8bb0e0" stroke-width="0.9" fill="none" stroke-linejoin="round"/>
<path d="M27.6 475.7 28.1 475.7 28.6 475.8 29.1 475.8 29.6 475.9 30.1 475.8 30.6 475.8 31.1 475.8 31.6 475.7 32.1 475.7 32.6 475.7 33.1 475.8 33.6 475.8 34.1 475.8 34.6 475.8 35.1 475.8 35.6 475.8 36.1 476 36.6 476.5 37.1 476.8 37.6 476.9 38.1 476.6 38.6 476.2 39.1 476.1 39.6 475.8 40.1 475.8 40.6 475.8 41.1 475.7 41.6 475.7 42.1 475.7 42.6 475.7 43.1 475.8 43.6 475.6 44.1 475.6 44.6 475.5 45.1 475.4 45.6 475.2 46.1 475.3 46.6 475.2 47.1 475.1 47.6 474.9 48.1 474.9 48.6 474.8 49.1 474.8 49.6 474.7 50.1 474.6 50.6 474.5 51.1 474.3 51.6 474.2 52.1 474.1 52.6 474 53.1 474 53.6 474 54.1 473.9 54.6 473.7 55.1 473.7 55.6 473.8 56.1 473.6 56.6 473.6 57.1 473.6 57.6 473.6 58.1 473.6 58.6 473.5 59.1 473.5 59.6 473.6 60.1 473.7 60.6 473.5 61.1 473.3 61.6 473.4 62.1 473.4 62.6 473.4 63.1 473.3 63.6 473.4 64.1 473.5 64.6 473.4 65.1 473.5 65.6 473.7 66.1 473.7 66.6 473.7 67.1 473.6 67.6 473.6 68.1 473.6 68.6 473.6 69.1 473.6 69.6 473.6 70.1 473.6 70.6 473.5 71.1 473.6 71.6 473.6 72.1 473.6 72.6 473.6 73.1 473.5 73.6 473.6 74.1 473.7 74.6 473.6 75.1 473.8 75.6 473.8 76.1 473.8 76.6 473.8 77.1 474 77.6 474.1 78.1 474.2 78.6 474.2 79.1 474.3 79.6 474.5 80.1 474.5 80.6 474.7 81.1 474.8 81.6 474.9 82.1 475 82.6 475.2 83.1 475.2 83.6 475.3 84.1 475.5 84.6 475.4 85.1 475.5 85.6 475.7 86.1 475.8 86.6 475.6 87.1 475.6 87.6 475.6 88.1 475.7 88.6 475.7 89.1 475.7 89.6 475.7 90.1 475.8 90.6 475.7 91.1 475.7 91.6 475.7 92.1 475.8 92.6 475.7 93.1 475.8 93.6 475.7 94.1 475.8 94.6 475.8 95.1 475.9 95.6 475.8 96.1 475.8 96.6 475.7 97.1 475.9 97.6 475.9 98.1 475.8 98.6 475.8 99.1 475.7 99.6 475.9 100.1 475.9 100.6 475.7 101.1 475.8 101.6 475.8 102.1 475.8 102.6 475.8 103.1 475.8 103.6 475.8 104.1 475.8 104.6 475.8 105.1 475.8 105.6 475.8 106.1 475.8 106.6 475.8 107.1 475.7 107.6 475.8 108.1 475.8 108.6 475.7 109.1 475.7 109.6 475.8 110.1 475.9 110.6 475.8 111.1 475.9 111.6 475.8 112.1 475.7 112.6 475.9 113.1 475.8 113.6 475.8 114.1 475.7 114.6 475.7" stroke="#f6a468" stroke-width="0.9" fill="none" stroke-linejoin="round"/>
<path d="M118.8 475.7 119.3 475.7 119.8 475.6 120.3 475.8 120.8 475.8 121.3 475.7 121.8 475.7 122.3 475.8 122.8 475.9 123.3 475.8 123.8 475.9 124.3 476 124.8 476 125.3 475.9 125.8 475.8 126.3 475.8 126.8 475.8 127.3 475.8 127.8 475.7 128.3 475.7 128.8 475.8 129.3 475.7 129.8 475.8 130.3 475.9 130.8 475.9 131.3 475.8 131.8 476 132.3 475.7 132.8 475.7 133.3 475.8 133.8 475.7 134.3 475.6 134.8 475.7 135.3 475.8 135.8 475.7 136.3 475.9 136.8 475.9 137.3 475.9 137.8 475.8 138.3 475.8 138.8 475.9 139.3 476 139.8 476 140.3 475.9 140.8 475.9 141.3 475.8 141.8 475.9 142.3 475.8 142.8 475.8 143.3 475.7 143.8 475.6 144.3 475.8 144.8 475.8 145.3 475.8 145.8 475.7 146.3 475.7 146.8 475.9 147.3 475.8 147.8 475.6 148.3 475.7 148.8 475.7 149.3 475.7 149.8 475.7 150.3 475.6 150.8 475.6 151.3 475.7 151.8 475.8 152.3 475.8 152.8 475.7 153.3 475.8 153.8 475.8 154.3 475.8 154.8 475.8 155.3 475.8 155.8 475.7 156.3 475.6 156.8 475.5 157.3 475.4 157.8 475.2 158.3 474.9 158.8 474.5 159.3 474.2 159.8 474.1 160.3 474.1 160.8 474 161.3 474.1 161.8 474.3 162.3 474.5 162.8 474.9 163.3 475.3 163.8 475.5 164.3 475.6 164.8 475.8 165.3 475.8 165.8 475.8 166.3 475.8 166.8 475.8 167.3 475.7 167.8 475.8 168.3 475.9 168.8 475.7 169.3 475.5 169.8 475.6 170.3 475.8 170.8 475.8 171.3 475.8 171.8 475.9 172.3 475.9 172.8 475.8 173.3 475.8 173.8 475.8 174.3 475.8 174.8 475.9 175.3 475.9 175.8 475.8 176.3 475.9 176.8 475.9 177.3 475.9 177.8 475.7 178.3 475.8 178.8 475.6 179.3 475.7 179.8 475.7 180.3 475.8 180.8 475.7 181.3 475.7 181.8 475.8 182.3 475.8 182.8 475.7 183.3 475.6 183.8 475.6 184.3 475.7 184.8 475.6 185.3 475.6 185.8 475.5 186.3 475.4 186.8 475.5 187.3 475.6 187.8 475.5 188.3 475.4 188.8 475.5 189.3 475.4 189.8 475.5 190.3 475.6 190.8 475.7 191.3 475.7 191.8 475.7 192.3 475.8 192.8 475.7 193.3 475.7 193.8 475.7 194.3 475.6 194.8 475.7 195.3 475.8 195.8 475.9 196.3 475.7 196.8 475.7 197.3 475.7 197.8 475.6 198.3 475.8 198.8 475.8 199.3 475.8 199.8 475.8 200.3 475.8 200.8 475.9 201.3 475.8 201.8 475.9 202.3 475.8 202.8 475.7 203.3 475.8 203.8 475.7 204.3 475.8 204.8 475.8 205.3 475.9 205.8 475.9 206.3 475.8 206.8 475.8 207.3 475.8 207.8 475.7 208.3 475.8 208.8 475.8 209.3 475.8 209.8 475.7" stroke="#f6a468" stroke-width="0.9" fill="none" stroke-linejoin="round"/>
<line x1="26.8" y1="371.5" x2="116" y2="371.5" stroke="#000" stroke-width="1.3"/>
<line x1="118.4" y1="371.5" x2="210.6" y2="371.5" stroke="#000" stroke-width="1.3"/>
<line x1="26.8" y1="506" x2="116" y2="506" stroke="#000" stroke-width="1.3"/>
<line x1="118.4" y1="506" x2="210.6" y2="506" stroke="#000" stroke-width="1.3"/>
<line x1="26.8" y1="370.85" x2="26.8" y2="506.65" stroke="#000" stroke-width="1.3"/>
<line x1="210.6" y1="370.85" x2="210.6" y2="506.65" stroke="#000" stroke-width="1.3"/>
<line x1="114" y1="373.1" x2="117" y2="370.3" stroke="#000" stroke-width="0.9"/>
<line x1="117.4" y1="372.7" x2="120.4" y2="369.9" stroke="#000" stroke-width="0.9"/>
<line x1="114" y1="507.6" x2="117" y2="504.8" stroke="#000" stroke-width="0.9"/>
<line x1="117.4" y1="507.2" x2="120.4" y2="504.4" stroke="#000" stroke-width="0.9"/>
<line x1="36.25" y1="506" x2="36.25" y2="504.4" stroke="#000" stroke-width="1"/>
<line x1="52.2" y1="506" x2="52.2" y2="503.6" stroke="#000" stroke-width="1"/>
<text x="52.2" y="517.8" font-size="10.6" text-anchor="middle" fill="#000" font-weight="bold" font-family="Liberation Serif">3500</text>
<line x1="68.15" y1="506" x2="68.15" y2="504.4" stroke="#000" stroke-width="1"/>
<line x1="84.1" y1="506" x2="84.1" y2="503.6" stroke="#000" stroke-width="1"/>
<text x="84.1" y="517.8" font-size="10.6" text-anchor="middle" fill="#000" font-weight="bold" font-family="Liberation Serif">3000</text>
<line x1="100.05" y1="506" x2="100.05" y2="504.4" stroke="#000" stroke-width="1"/>
<line x1="134.7" y1="506" x2="134.7" y2="503.6" stroke="#000" stroke-width="1"/>
<text x="134.7" y="517.8" font-size="10.6" text-anchor="middle" fill="#000" font-weight="bold" font-family="Liberation Serif">2000</text>
<line x1="150.57" y1="506" x2="150.57" y2="504.4" stroke="#000" stroke-width="1"/>
<line x1="166.45" y1="506" x2="166.45" y2="503.6" stroke="#000" stroke-width="1"/>
<text x="166.45" y="517.8" font-size="10.6" text-anchor="middle" fill="#000" font-weight="bold" font-family="Liberation Serif">1500</text>
<line x1="182.32" y1="506" x2="182.32" y2="504.4" stroke="#000" stroke-width="1"/>
<line x1="198.2" y1="506" x2="198.2" y2="503.6" stroke="#000" stroke-width="1"/>
<text x="198.2" y="517.8" font-size="10.6" text-anchor="middle" fill="#000" font-weight="bold" font-family="Liberation Serif">1000</text>
<text x="33.3" y="379" font-size="8.2" text-anchor="start" fill="#000" font-weight="bold" font-family="Liberation Serif" textLength="83.2" lengthAdjust="spacingAndGlyphs">*O-H stretching bonds</text>
<text x="151" y="378.6" font-size="8.6" text-anchor="start" fill="#000" font-weight="bold" font-family="Liberation Serif">*H<tspan dy="1.8" font-size="70%">2</tspan><tspan dy="-1.8">O</tspan></text>
<text x="175" y="378.6" font-size="8.6" text-anchor="start" fill="#000" font-weight="bold" font-family="Liberation Serif" textLength="23.2" lengthAdjust="spacingAndGlyphs">*OOH</text>
<text x="211.9" y="395.7" font-size="7.8" text-anchor="start" fill="#000" font-weight="bold" font-family="Liberation Serif">OCP</text>
<text x="213" y="406.7" font-size="7.8" text-anchor="start" fill="#000" font-weight="bold" font-family="Liberation Serif">0.5 V</text>
<text x="214" y="433.7" font-size="7.8" text-anchor="start" fill="#000" font-weight="bold" font-family="Liberation Serif">&#916;E=</text>
<text x="213.4" y="443.7" font-size="7.8" text-anchor="start" fill="#000" font-weight="bold" font-family="Liberation Serif">-0.2 V</text>
<text x="213.4" y="477" font-size="7.8" text-anchor="start" fill="#000" font-weight="bold" font-family="Liberation Serif">-0.3 V</text>
<line x1="218.5" y1="410.6" x2="218.5" y2="424" stroke="#000" stroke-width="1.1" stroke-dasharray="2.6 3.4"/>
<line x1="218.5" y1="447" x2="218.5" y2="455" stroke="#000" stroke-width="1.1" stroke-dasharray="2.6 3.4"/>
<line x1="218.5" y1="456" x2="218.5" y2="461" stroke="#000" stroke-width="1.1"/>
<path d="M216.6 459.8 220.4 459.8 218.5 465Z" stroke="none" stroke-width="0" fill="#000"/>
<text x="29.6" y="499.2" font-size="9.6" text-anchor="start" fill="#1a1a1a" font-weight="bold" font-family="Liberation Serif">0SCNT</text>
<text x="15.3" y="381.2" font-size="18.3" text-anchor="start" fill="#000" font-weight="bold" font-family="Liberation Serif">f</text>
<text x="22.4" y="434.35" font-size="12.8" text-anchor="middle" fill="#000" font-weight="bold" font-family="Liberation Serif" textLength="85.5" lengthAdjust="spacingAndGlyphs" transform="rotate(-90 22.4 434.35)">Absorbance (a.u.)</text>
<text x="124.25" y="529" font-size="11.4" text-anchor="middle" fill="#000" font-weight="bold" font-family="Liberation Serif">Wavenumber <tspan font-size="8.6">(</tspan>cm<tspan dy="-4" font-size="70%">-1</tspan><tspan dy="4"><tspan font-size="8.6">)</tspan></tspan></text>
<rect x="264.9" y="382.9" width="40.3" height="102.6" fill="#fdeeee" stroke="#f4a3a3" stroke-width="0.9" stroke-dasharray="3 2"/>
<rect x="378.4" y="384.3" width="15.6" height="101.7" fill="#fdeeee" stroke="#f4a3a3" stroke-width="0.9" stroke-dasharray="3 2"/>
<rect x="400.3" y="384.3" width="15.6" height="101.7" fill="#fdeeee" stroke="#f4a3a3" stroke-width="0.9" stroke-dasharray="3 2"/>
<path d="M249.8 390 250.3 390 250.8 390 251.3 390 251.8 390 252.3 390 252.8 390 253.3 390 253.8 390 254.3 390 254.8 390 255.3 390 255.8 390 256.3 390 256.8 390 257.3 390 257.8 390 258.3 390 258.8 390 259.3 390 259.8 390 260.3 390 260.8 390 261.3 390 261.8 390 262.3 390 262.8 390 263.3 390 263.8 390 264.3 390 264.8 390 265.3 390 265.8 390 266.3 390 266.8 390 267.3 390 267.8 390 268.3 390 268.8 390 269.3 390 269.8 390 270.3 390 270.8 390 271.3 390 271.8 390 272.3 390 272.8 390 273.3 390 273.8 390 274.3 390 274.8 390 275.3 390 275.8 390 276.3 390 276.8 390 277.3 390 277.8 390 278.3 390 278.8 390 279.3 390 279.8 390 280.3 390 280.8 390 281.3 390 281.8 390 282.3 390 282.8 390 283.3 390 283.8 390 284.3 390 284.8 390 285.3 390 285.8 390 286.3 390 286.8 390 287.3 390 287.8 390 288.3 390 288.8 390 289.3 390 289.8 390 290.3 390 290.8 390 291.3 390 291.8 390 292.3 390 292.8 390 293.3 390 293.8 390 294.3 390 294.8 390 295.3 390 295.8 390 296.3 390 296.8 390 297.3 390 297.8 390 298.3 390 298.8 390 299.3 390 299.8 390 300.3 390 300.8 390 301.3 390 301.8 390 302.3 390 302.8 390 303.3 390 303.8 390 304.3 390 304.8 390 305.3 390 305.8 390 306.3 390 306.8 390 307.3 390 307.8 390 308.3 390 308.8 390 309.3 390 309.8 390 310.3 390 310.8 390 311.3 390 311.8 390 312.3 390 312.8 390 313.3 390 313.8 390 314.3 390 314.8 390 315.3 390 315.8 390 316.3 390 316.8 390 317.3 390 317.8 390 318.3 390 318.8 390 319.3 390 319.8 390 320.3 390 320.8 390 321.3 390 321.8 390 322.3 390 322.8 390 323.3 390 323.8 390 324.3 390 324.8 390 325.3 390 325.8 390 326.3 390 326.8 390 327.3 390 327.8 390 328.3 390 328.8 390 329.3 390 329.8 390 330.3 390 330.8 390 331.3 390 331.8 390 332.3 390 332.8 390 333.3 390 333.8 390 334.3 390 334.8 390 335.3 390 335.8 390 336.3 390 336.8 390" stroke="#1c1c1c" stroke-width="1" fill="none" stroke-linejoin="round"/>
<path d="M340.6 390 341.1 390 341.6 390 342.1 390 342.6 390 343.1 390 343.6 390 344.1 390 344.6 390 345.1 390 345.6 390 346.1 390 346.6 390 347.1 390 347.6 390 348.1 390 348.6 390 349.1 390 349.6 390 350.1 390 350.6 390 351.1 390 351.6 390 352.1 390 352.6 390 353.1 390 353.6 390 354.1 390 354.6 390 355.1 390 355.6 390 356.1 390 356.6 390 357.1 390 357.6 390 358.1 390 358.6 390 359.1 390 359.6 390 360.1 390 360.6 390 361.1 390 361.6 390 362.1 390 362.6 390 363.1 390 363.6 390 364.1 390 364.6 390 365.1 390 365.6 390 366.1 390 366.6 390 367.1 390 367.6 390 368.1 390 368.6 390 369.1 390 369.6 390 370.1 390 370.6 390 371.1 390 371.6 390 372.1 390 372.6 390 373.1 390 373.6 390 374.1 390 374.6 390 375.1 390 375.6 390 376.1 390 376.6 390 377.1 390 377.6 390 378.1 390 378.6 390 379.1 390 379.6 390 380.1 390 380.6 390 381.1 390 381.6 390 382.1 390 382.6 390 383.1 390 383.6 390 384.1 390 384.6 390 385.1 390 385.6 390 386.1 390 386.6 390 387.1 390 387.6 390 388.1 390 388.6 390 389.1 390 389.6 390 390.1 390 390.6 390 391.1 390 391.6 390 392.1 390 392.6 390 393.1 390 393.6 390 394.1 390 394.6 390 395.1 390 395.6 390 396.1 390 396.6 390 397.1 390 397.6 390 398.1 390 398.6 390 399.1 390 399.6 390 400.1 390 400.6 390 401.1 390 401.6 390 402.1 390 402.6 390 403.1 390 403.6 390 404.1 390 404.6 390 405.1 390 405.6 390 406.1 390 406.6 390 407.1 390 407.6 390 408.1 390 408.6 390 409.1 390 409.6 390 410.1 390 410.6 390 411.1 390 411.6 390 412.1 390 412.6 390 413.1 390 413.6 390 414.1 390 414.6 390 415.1 390 415.6 390 416.1 390 416.6 390 417.1 390 417.6 390 418.1 390 418.6 390 419.1 390 419.6 390 420.1 390 420.6 390 421.1 390 421.6 390 422.1 390 422.6 390 423.1 390 423.6 390 424.1 390 424.6 390 425.1 390 425.6 390 426.1 390 426.6 390 427.1 390 427.6 390 428.1 390 428.6 390 429.1 390 429.6 390 430.1 390 430.6 390 431.1 390 431.6 390" stroke="#1c1c1c" stroke-width="1" fill="none" stroke-linejoin="round"/>
<path d="M249.8 403.1 250.3 403.1 250.8 403.2 251.3 403.2 251.8 403.2 252.3 403.3 252.8 403.2 253.3 403.2 253.8 403.3 254.3 403.3 254.8 403.3 255.3 403.3 255.8 403.3 256.3 403.2 256.8 403.1 257.3 403.1 257.8 403.1 258.3 403.1 258.8 403.1 259.3 403.1 259.8 403.1 260.3 403.2 260.8 403.2 261.3 403.2 261.8 403.3 262.3 403.3 262.8 403.3 263.3 403.3 263.8 403.2 264.3 403.3 264.8 403.6 265.3 403.7 265.8 403.7 266.3 403.7 266.8 403.7 267.3 403.6 267.8 403.4 268.3 403.4 268.8 403.2 269.3 403.1 269.8 402.9 270.3 402.7 270.8 402.5 271.3 402.2 271.8 401.9 272.3 401.6 272.8 401.3 273.3 401.1 273.8 400.7 274.3 400.6 274.8 400.2 275.3 399.8 275.8 399.5 276.3 399.1 276.8 398.8 277.3 398.5 277.8 398 278.3 397.6 278.8 397.3 279.3 397.1 279.8 396.9 280.3 396.6 280.8 396.2 281.3 395.9 281.8 395.7 282.3 395.3 282.8 395 283.3 394.8 283.8 394.7 284.3 394.4 284.8 394.4 285.3 394.2 285.8 394.3 286.3 394.1 286.8 394 287.3 394 287.8 394 288.3 394.1 288.8 393.9 289.3 394 289.8 394.1 290.3 394 290.8 393.9 291.3 393.9 291.8 394.1 292.3 394.3 292.8 394.6 293.3 394.7 293.8 395.2 294.3 395.6 294.8 395.9 295.3 396.4 295.8 396.7 296.3 397.2 296.8 397.6 297.3 398.2 297.8 398.6 298.3 399.2 298.8 399.6 299.3 400.1 299.8 400.6 300.3 400.9 300.8 401.3 301.3 401.6 301.8 402.1 302.3 402.3 302.8 402.6 303.3 402.8 303.8 403.1 304.3 403.1 304.8 403.2 305.3 403.2 305.8 403.1 306.3 403.1 306.8 403.1 307.3 403.2 307.8 403 308.3 402.8 308.8 401.9 309.3 401.2 309.8 401.9 310.3 403.1 310.8 404 311.3 404 311.8 403.7 312.3 403.3 312.8 403.1 313.3 403.1 313.8 403.5 314.3 404.5 314.8 405.8 315.3 406.1 315.8 405.1 316.3 403.5 316.8 402.7 317.3 402.7 317.8 403 318.3 403.2 318.8 403.3 319.3 403.2 319.8 403.1 320.3 403.1 320.8 403 321.3 403.1 321.8 403.2 322.3 403.2 322.8 403.2 323.3 403.3 323.8 403.2 324.3 403.1 324.8 403 325.3 403.1 325.8 403.1 326.3 403.1 326.8 403.2 327.3 403.2 327.8 403.1 328.3 403.1 328.8 403.1 329.3 403.1 329.8 403.2 330.3 403.2 330.8 403.1 331.3 403.2 331.8 403.1 332.3 403.1 332.8 403.1 333.3 403.1 333.8 403.3 334.3 403.3 334.8 403.3 335.3 403.2 335.8 403.4 336.3 403.3 336.8 403.2" stroke="#7882f2" stroke-width="0.9" fill="none" stroke-linejoin="round"/>
<path d="M340.6 403.3 341.1 403.1 341.6 403.1 342.1 403.2 342.6 403.2 343.1 403.1 343.6 403.3 344.1 403.3 344.6 403.2 345.1 403.2 345.6 403.2 346.1 403.2 346.6 403.2 347.1 403.2 347.6 403.2 348.1 403.2 348.6 403.1 349.1 403.2 349.6 403.2 350.1 403.3 350.6 403.2 351.1 403.2 351.6 403.3 352.1 403.3 352.6 403.2 353.1 403.2 353.6 403.2 354.1 403.3 354.6 403.3 355.1 403.2 355.6 403.2 356.1 403.1 356.6 403.1 357.1 403.2 357.6 403.1 358.1 403.3 358.6 403.2 359.1 403.1 359.6 403.2 360.1 403.2 360.6 403.2 361.1 403.3 361.6 403.1 362.1 403.3 362.6 403.4 363.1 403.5 363.6 403.4 364.1 403.4 364.6 403.3 365.1 403.4 365.6 403.3 366.1 403.3 366.6 403.3 367.1 403.1 367.6 403.1 368.1 403.3 368.6 403 369.1 403.1 369.6 403.2 370.1 403.2 370.6 403.2 371.1 403.3 371.6 403.3 372.1 403.1 372.6 403.1 373.1 403.1 373.6 403.2 374.1 403.3 374.6 403.4 375.1 403.9 375.6 404.1 376.1 404.8 376.6 405.2 377.1 405.3 377.6 405 378.1 404.5 378.6 403.8 379.1 403.2 379.6 402.5 380.1 401.9 380.6 401.1 381.1 400.2 381.6 399.1 382.1 398 382.6 397.2 383.1 396.5 383.6 396.1 384.1 396.3 384.6 396.7 385.1 397.7 385.6 398.8 386.1 400 386.6 400.8 387.1 401.6 387.6 402.1 388.1 402.5 388.6 402.8 389.1 403 389.6 403.2 390.1 403.2 390.6 403.3 391.1 403.3 391.6 403.1 392.1 403 392.6 402.6 393.1 402.4 393.6 401.9 394.1 401.6 394.6 401.6 395.1 401.7 395.6 402 396.1 402.5 396.6 402.8 397.1 402.9 397.6 403 398.1 403.1 398.6 403.2 399.1 403.3 399.6 403.2 400.1 403.4 400.6 403.4 401.1 403.7 401.6 403.8 402.1 403.8 402.6 403.9 403.1 403.6 403.6 403.4 404.1 403.2 404.6 403.1 405.1 403.1 405.6 403.2 406.1 403.2 406.6 403.1 407.1 402.9 407.6 402.8 408.1 402.6 408.6 402.5 409.1 402.4 409.6 402.3 410.1 402.3 410.6 402.4 411.1 402.5 411.6 402.5 412.1 402.7 412.6 402.9 413.1 403 413.6 403 414.1 403 414.6 403 415.1 403 415.6 403 416.1 403.1 416.6 403 417.1 403.1 417.6 403 418.1 403.1 418.6 403 419.1 403.1 419.6 403.2 420.1 403 420.6 402.8 421.1 402.7 421.6 402.6 422.1 402.6 422.6 402.8 423.1 402.8 423.6 402.9 424.1 403 424.6 403.1 425.1 403.1 425.6 403.2 426.1 403.1 426.6 403.3 427.1 403.3 427.6 403.1 428.1 403.2 428.6 403.2 429.1 403.1 429.6 403.2 430.1 403.1 430.6 403.2 431.1 403.2 431.6 403.2" stroke="#7882f2" stroke-width="0.9" fill="none" stroke-linejoin="round"/>
<path d="M249.8 416.7 250.3 416.7 250.8 416.7 251.3 416.7 251.8 416.7 252.3 416.7 252.8 416.8 253.3 416.7 253.8 416.9 254.3 416.9 254.8 416.7 255.3 416.8 255.8 416.8 256.3 416.8 256.8 416.7 257.3 416.8 257.8 416.7 258.3 416.7 258.8 416.6 259.3 416.8 259.8 416.8 260.3 416.7 260.8 416.7 261.3 416.7 261.8 416.7 262.3 416.7 262.8 416.7 263.3 416.8 263.8 416.8 264.3 417 264.8 417.3 265.3 417.3 265.8 417.5 266.3 417.4 266.8 417.2 267.3 417.1 267.8 416.9 268.3 416.8 268.8 416.7 269.3 416.6 269.8 416.4 270.3 416.2 270.8 416 271.3 416 271.8 415.8 272.3 415.6 272.8 415.2 273.3 415 273.8 414.9 274.3 414.6 274.8 414.5 275.3 414.2 275.8 413.9 276.3 413.6 276.8 413.4 277.3 413.2 277.8 412.9 278.3 412.5 278.8 412.3 279.3 412.1 279.8 412 280.3 411.7 280.8 411.5 281.3 411.3 281.8 411.1 282.3 410.8 282.8 410.6 283.3 410.4 283.8 410.3 284.3 410.2 284.8 410.1 285.3 410.1 285.8 409.9 286.3 409.8 286.8 409.9 287.3 409.7 287.8 409.7 288.3 409.7 288.8 409.7 289.3 409.7 289.8 409.6 290.3 409.7 290.8 409.6 291.3 409.7 291.8 409.7 292.3 409.8 292.8 410.1 293.3 410.4 293.8 410.6 294.3 410.9 294.8 411.3 295.3 411.5 295.8 411.8 296.3 412.2 296.8 412.7 297.3 412.9 297.8 413.3 298.3 413.7 298.8 414.1 299.3 414.4 299.8 414.8 300.3 415 300.8 415.3 301.3 415.4 301.8 415.7 302.3 416.2 302.8 416.3 303.3 416.5 303.8 416.6 304.3 416.7 304.8 416.6 305.3 416.6 305.8 416.6 306.3 416.7 306.8 416.6 307.3 416.6 307.8 416.2 308.3 415.8 308.8 416.4 309.3 418.2 309.8 419.5 310.3 418.7 310.8 416.9 311.3 415.6 311.8 415.3 312.3 416.1 312.8 417 313.3 417.5 313.8 417.3 314.3 416.9 314.8 416.8 315.3 416.7 315.8 416.7 316.3 416.7 316.8 416.7 317.3 416.7 317.8 416.7 318.3 416.7 318.8 416.8 319.3 416.6 319.8 416.8 320.3 416.7 320.8 416.7 321.3 416.7 321.8 416.7 322.3 416.7 322.8 416.7 323.3 416.7 323.8 416.6 324.3 416.7 324.8 416.7 325.3 416.8 325.8 416.8 326.3 416.6 326.8 416.7 327.3 416.7 327.8 416.7 328.3 416.9 328.8 416.9 329.3 416.7 329.8 416.7 330.3 416.6 330.8 416.7 331.3 416.7 331.8 416.6 332.3 416.7 332.8 416.8 333.3 416.8 333.8 416.7 334.3 416.7 334.8 416.6 335.3 416.6 335.8 416.6 336.3 416.7 336.8 416.8" stroke="#62b7f2" stroke-width="0.9" fill="none" stroke-linejoin="round"/>
<path d="M340.6 416.7 341.1 416.7 341.6 416.6 342.1 416.7 342.6 416.7 343.1 416.7 343.6 416.6 344.1 416.6 344.6 416.7 345.1 416.6 345.6 416.7 346.1 416.7 346.6 416.7 347.1 416.6 347.6 416.7 348.1 416.8 348.6 416.7 349.1 416.6 349.6 416.7 350.1 416.7 350.6 416.7 351.1 416.8 351.6 416.7 352.1 416.7 352.6 416.7 353.1 416.6 353.6 416.7 354.1 416.6 354.6 416.5 355.1 416.6 355.6 416.7 356.1 416.8 356.6 416.9 357.1 416.9 357.6 416.9 358.1 416.9 358.6 416.8 359.1 416.8 359.6 416.7 360.1 416.7 360.6 416.7 361.1 416.7 361.6 416.6 362.1 416.7 362.6 416.7 363.1 416.7 363.6 416.7 364.1 416.7 364.6 416.8 365.1 416.7 365.6 416.6 366.1 416.6 366.6 416.5 367.1 416.7 367.6 416.7 368.1 416.7 368.6 416.8 369.1 416.8 369.6 416.8 370.1 416.7 370.6 416.6 371.1 416.7 371.6 416.7 372.1 416.7 372.6 416.6 373.1 416.7 373.6 416.8 374.1 416.8 374.6 416.9 375.1 417.1 375.6 417.3 376.1 417.5 376.6 417.6 377.1 417.7 377.6 417.5 378.1 417.4 378.6 417 379.1 416.7 379.6 416.4 380.1 416 380.6 415.6 381.1 415.3 381.6 414.8 382.1 414.2 382.6 413.8 383.1 413.5 383.6 413.3 384.1 413.3 384.6 413.6 385.1 414 385.6 414.5 386.1 415.1 386.6 415.5 387.1 415.9 387.6 416.2 388.1 416.3 388.6 416.5 389.1 416.6 389.6 416.7 390.1 416.7 390.6 416.7 391.1 416.6 391.6 416.7 392.1 416.6 392.6 416.3 393.1 416.1 393.6 416 394.1 415.8 394.6 415.8 395.1 415.8 395.6 416 396.1 416.2 396.6 416.4 397.1 416.6 397.6 416.6 398.1 416.7 398.6 416.6 399.1 416.7 399.6 416.7 400.1 416.9 400.6 417.2 401.1 417.3 401.6 417.3 402.1 417.3 402.6 417.3 403.1 417.2 403.6 416.9 404.1 416.8 404.6 416.7 405.1 416.7 405.6 416.7 406.1 416.5 406.6 416.6 407.1 416.4 407.6 416.4 408.1 416.2 408.6 416 409.1 416 409.6 415.8 410.1 415.7 410.6 415.8 411.1 415.9 411.6 416 412.1 416.1 412.6 416.4 413.1 416.5 413.6 416.6 414.1 416.7 414.6 416.7 415.1 416.6 415.6 416.6 416.1 416.6 416.6 416.8 417.1 416.8 417.6 416.8 418.1 416.8 418.6 416.7 419.1 416.5 419.6 416.6 420.1 416.5 420.6 416.4 421.1 416.2 421.6 416.1 422.1 416.1 422.6 416.1 423.1 416.1 423.6 416.3 424.1 416.4 424.6 416.4 425.1 416.5 425.6 416.7 426.1 416.8 426.6 416.9 427.1 416.8 427.6 416.8 428.1 416.8 428.6 416.8 429.1 416.7 429.6 416.7 430.1 416.6 430.6 416.8 431.1 416.7 431.6 416.7" stroke="#62b7f2" stroke-width="0.9" fill="none" stroke-linejoin="round"/>
<path d="M249.8 431.2 250.3 431.2 250.8 431.1 251.3 431.1 251.8 431.2 252.3 431.3 252.8 431.1 253.3 431.2 253.8 431.1 254.3 431.2 254.8 431.2 255.3 431.2 255.8 431.2 256.3 431.2 256.8 431.2 257.3 431.3 257.8 431.3 258.3 431.3 258.8 431.4 259.3 431.3 259.8 431.4 260.3 431.3 260.8 431.3 261.3 431.3 261.8 431.2 262.3 431.2 262.8 431.3 263.3 431.5 263.8 431.5 264.3 431.6 264.8 431.7 265.3 431.8 265.8 431.8 266.3 431.8 266.8 431.7 267.3 431.7 267.8 431.6 268.3 431.3 268.8 431.1 269.3 430.9 269.8 430.8 270.3 430.7 270.8 430.5 271.3 430.4 271.8 430.1 272.3 430 272.8 429.8 273.3 429.5 273.8 429.2 274.3 428.9 274.8 428.5 275.3 428 275.8 427.8 276.3 427.6 276.8 427.3 277.3 427 277.8 426.7 278.3 426.4 278.8 426.2 279.3 425.7 279.8 425.4 280.3 425.1 280.8 424.8 281.3 424.7 281.8 424.3 282.3 424.1 282.8 423.8 283.3 423.7 283.8 423.5 284.3 423.4 284.8 423.3 285.3 423.1 285.8 422.8 286.3 422.7 286.8 422.7 287.3 422.8 287.8 422.8 288.3 422.7 288.8 422.8 289.3 422.8 289.8 422.7 290.3 422.8 290.8 422.9 291.3 422.9 291.8 423 292.3 423.1 292.8 423.2 293.3 423.5 293.8 423.9 294.3 424.2 294.8 424.5 295.3 425.2 295.8 425.4 296.3 425.7 296.8 426.2 297.3 426.6 297.8 427 298.3 427.5 298.8 427.9 299.3 428.4 299.8 428.8 300.3 429.2 300.8 429.6 301.3 429.7 301.8 430.2 302.3 430.3 302.8 430.7 303.3 430.9 303.8 431 304.3 431.1 304.8 431.2 305.3 431.2 305.8 431.2 306.3 431.1 306.8 431.1 307.3 431.1 307.8 431.2 308.3 431.3 308.8 431.2 309.3 431.2 309.8 431.2 310.3 431.2 310.8 431.4 311.3 431.6 311.8 432.1 312.3 432 312.8 431.2 313.3 430.6 313.8 429.9 314.3 429.9 314.8 429.8 315.3 429.3 315.8 429.5 316.3 430.7 316.8 431.7 317.3 431.6 317.8 431.3 318.3 431.1 318.8 431.1 319.3 431.3 319.8 431.3 320.3 431.3 320.8 431.2 321.3 431.2 321.8 431.3 322.3 431.4 322.8 431.2 323.3 431.2 323.8 431.2 324.3 431.3 324.8 431.2 325.3 431.2 325.8 431.3 326.3 431.3 326.8 431.2 327.3 431.2 327.8 431.3 328.3 431.2 328.8 431.2 329.3 431.2 329.8 431.1 330.3 431.1 330.8 431.2 331.3 431.3 331.8 431.2 332.3 431.3 332.8 431.2 333.3 431.2 333.8 431.2 334.3 431.1 334.8 431.2 335.3 431.2 335.8 431 336.3 431 336.8 431" stroke="#aad772" stroke-width="0.9" fill="none" stroke-linejoin="round"/>
<path d="M340.6 431.1 341.1 431.1 341.6 431.1 342.1 431 342.6 431.1 343.1 431.2 343.6 431.2 344.1 431.2 344.6 431.2 345.1 431.2 345.6 431.1 346.1 431 346.6 431.1 347.1 431.2 347.6 431.2 348.1 431.3 348.6 431.2 349.1 431.2 349.6 431.1 350.1 431.2 350.6 431.3 351.1 431.3 351.6 431.3 352.1 431.2 352.6 431.2 353.1 431.2 353.6 431.1 354.1 431.2 354.6 431.3 355.1 431.3 355.6 431.3 356.1 431.1 356.6 431.2 357.1 431.2 357.6 431 358.1 431.1 358.6 431.2 359.1 431.3 359.6 431.2 360.1 431.3 360.6 431.3 361.1 431.2 361.6 431.2 362.1 431.2 362.6 431.3 363.1 431.3 363.6 431.2 364.1 431.1 364.6 431.2 365.1 431.3 365.6 431.2 366.1 431.2 366.6 431.3 367.1 431.1 367.6 431.2 368.1 431.4 368.6 431.3 369.1 431.2 369.6 431.4 370.1 431.3 370.6 431.3 371.1 431.2 371.6 431.2 372.1 431.1 372.6 431 373.1 431 373.6 431.2 374.1 431.2 374.6 431.4 375.1 431.4 375.6 431.7 376.1 432.1 376.6 432.3 377.1 432.2 377.6 432.1 378.1 431.8 378.6 431.5 379.1 431.2 379.6 430.9 380.1 430.6 380.6 430.2 381.1 429.5 381.6 428.9 382.1 428.2 382.6 427.8 383.1 427.5 383.6 427.3 384.1 427.3 384.6 427.6 385.1 428.1 385.6 428.7 386.1 429.2 386.6 429.8 387.1 430.2 387.6 430.6 388.1 430.9 388.6 431.1 389.1 431.1 389.6 431.3 390.1 431.3 390.6 431.3 391.1 431.3 391.6 431.3 392.1 431.2 392.6 430.9 393.1 430.6 393.6 430.3 394.1 430.2 394.6 430.2 395.1 430.4 395.6 430.6 396.1 430.9 396.6 431 397.1 431 397.6 431 398.1 431.1 398.6 431.2 399.1 431.3 399.6 431.3 400.1 431.4 400.6 431.5 401.1 431.6 401.6 431.7 402.1 431.8 402.6 431.8 403.1 431.6 403.6 431.4 404.1 431.3 404.6 431.3 405.1 431.1 405.6 430.9 406.1 430.9 406.6 430.7 407.1 430.5 407.6 430.2 408.1 429.9 408.6 429.5 409.1 429.3 409.6 429.2 410.1 429.3 410.6 429.4 411.1 429.5 411.6 429.7 412.1 430.1 412.6 430.4 413.1 430.6 413.6 430.9 414.1 431.1 414.6 431.1 415.1 431 415.6 431.1 416.1 431.1 416.6 431.1 417.1 431.1 417.6 431.1 418.1 431.1 418.6 431.3 419.1 431.1 419.6 431.1 420.1 431 420.6 430.9 421.1 430.7 421.6 430.7 422.1 430.6 422.6 430.7 423.1 430.7 423.6 430.9 424.1 431 424.6 431.2 425.1 431.1 425.6 431 426.1 431.2 426.6 431.2 427.1 431.3 427.6 431.2 428.1 431.2 428.6 431.3 429.1 431.4 429.6 431.3 430.1 431.2 430.6 431.3 431.1 431.2 431.6 431.2" stroke="#aad772" stroke-width="0.9" fill="none" stroke-linejoin="round"/>
<path d="M249.8 443.9 250.3 443.7 250.8 443.7 251.3 443.8 251.8 443.8 252.3 443.8 252.8 443.8 253.3 443.9 253.8 443.9 254.3 443.8 254.8 443.8 255.3 443.8 255.8 443.8 256.3 443.8 256.8 443.8 257.3 443.9 257.8 444 258.3 443.9 258.8 443.8 259.3 443.7 259.8 443.8 260.3 443.8 260.8 443.9 261.3 443.7 261.8 443.8 262.3 443.8 262.8 443.8 263.3 443.9 263.8 444 264.3 444.1 264.8 444.3 265.3 444.4 265.8 444.4 266.3 444.4 266.8 444.3 267.3 444.1 267.8 444 268.3 443.9 268.8 443.7 269.3 443.5 269.8 443.3 270.3 443 270.8 443 271.3 442.9 271.8 442.6 272.3 442.5 272.8 442.2 273.3 441.9 273.8 441.6 274.3 441.4 274.8 441.1 275.3 440.9 275.8 440.6 276.3 440.2 276.8 439.8 277.3 439.5 277.8 439.2 278.3 439 278.8 438.7 279.3 438.4 279.8 438 280.3 437.7 280.8 437.4 281.3 437.2 281.8 436.9 282.3 436.6 282.8 436.4 283.3 436.2 283.8 436 284.3 436 284.8 435.8 285.3 435.6 285.8 435.5 286.3 435.5 286.8 435.5 287.3 435.4 287.8 435.5 288.3 435.6 288.8 435.5 289.3 435.5 289.8 435.4 290.3 435.4 290.8 435.3 291.3 435.4 291.8 435.7 292.3 435.8 292.8 436.1 293.3 436.2 293.8 436.6 294.3 436.8 294.8 437.1 295.3 437.6 295.8 437.9 296.3 438.4 296.8 438.8 297.3 439.2 297.8 439.6 298.3 440 298.8 440.4 299.3 440.9 299.8 441.3 300.3 441.7 300.8 442.2 301.3 442.4 301.8 442.7 302.3 443 302.8 443.2 303.3 443.5 303.8 443.6 304.3 443.7 304.8 443.8 305.3 443.8 305.8 443.9 306.3 443.9 306.8 443.7 307.3 443.6 307.8 443.5 308.3 442.7 308.8 441.9 309.3 442.3 309.8 444.5 310.3 447.1 310.8 447.5 311.3 445.7 311.8 444.2 312.3 443.4 312.8 442.9 313.3 443 313.8 443.4 314.3 444.2 314.8 445.7 315.3 447.3 315.8 447.1 316.3 445.4 316.8 444.2 317.3 443.9 317.8 443.9 318.3 443.9 318.8 444 319.3 444 319.8 443.9 320.3 443.8 320.8 443.7 321.3 443.7 321.8 443.7 322.3 443.9 322.8 443.8 323.3 443.9 323.8 443.8 324.3 443.8 324.8 443.8 325.3 443.7 325.8 443.8 326.3 443.9 326.8 443.9 327.3 443.9 327.8 443.8 328.3 443.9 328.8 443.8 329.3 443.8 329.8 443.8 330.3 443.8 330.8 443.8 331.3 443.8 331.8 443.9 332.3 443.8 332.8 443.7 333.3 443.7 333.8 443.8 334.3 443.8 334.8 443.7 335.3 443.7 335.8 443.8 336.3 443.9 336.8 443.7" stroke="#8bb0e0" stroke-width="0.9" fill="none" stroke-linejoin="round"/>
<path d="M340.6 443.7 341.1 443.8 341.6 443.9 342.1 444 342.6 443.9 343.1 443.8 343.6 443.9 344.1 443.8 344.6 443.9 345.1 443.9 345.6 443.9 346.1 443.9 346.6 443.9 347.1 443.8 347.6 443.7 348.1 443.7 348.6 443.8 349.1 443.9 349.6 443.7 350.1 443.8 350.6 443.9 351.1 443.9 351.6 443.9 352.1 443.9 352.6 443.9 353.1 443.9 353.6 443.8 354.1 443.8 354.6 443.8 355.1 443.8 355.6 443.7 356.1 443.6 356.6 443.7 357.1 443.8 357.6 443.8 358.1 443.7 358.6 443.8 359.1 443.8 359.6 443.6 360.1 443.8 360.6 443.7 361.1 443.9 361.6 443.9 362.1 443.8 362.6 443.7 363.1 443.7 363.6 443.8 364.1 443.9 364.6 443.9 365.1 443.7 365.6 443.7 366.1 443.7 366.6 443.8 367.1 443.8 367.6 443.8 368.1 443.7 368.6 443.7 369.1 443.8 369.6 443.7 370.1 443.8 370.6 444 371.1 443.9 371.6 443.8 372.1 443.9 372.6 443.7 373.1 443.8 373.6 443.8 374.1 443.9 374.6 444 375.1 444.1 375.6 444.4 376.1 444.6 376.6 444.7 377.1 444.7 377.6 444.7 378.1 444.4 378.6 444.1 379.1 443.8 379.6 443.5 380.1 443.1 380.6 442.8 381.1 442.5 381.6 442.1 382.1 441.6 382.6 441.1 383.1 440.8 383.6 440.7 384.1 440.8 384.6 441.1 385.1 441.4 385.6 441.9 386.1 442.4 386.6 442.9 387.1 443.2 387.6 443.4 388.1 443.6 388.6 443.8 389.1 443.7 389.6 443.7 390.1 443.7 390.6 443.6 391.1 443.8 391.6 443.8 392.1 443.7 392.6 443.8 393.1 443.7 393.6 443.5 394.1 443.4 394.6 443.3 395.1 443.2 395.6 443.4 396.1 443.6 396.6 443.6 397.1 443.7 397.6 443.8 398.1 443.9 398.6 443.9 399.1 443.8 399.6 443.9 400.1 444 400.6 444.1 401.1 444.3 401.6 444.3 402.1 444.4 402.6 444.2 403.1 444 403.6 443.8 404.1 443.8 404.6 443.7 405.1 443.6 405.6 443.5 406.1 443.2 406.6 442.9 407.1 442.4 407.6 441.9 408.1 441.3 408.6 440.7 409.1 440.2 409.6 440 410.1 439.8 410.6 439.9 411.1 440.2 411.6 440.8 412.1 441.5 412.6 442.1 413.1 442.7 413.6 443 414.1 443.2 414.6 443.5 415.1 443.7 415.6 443.8 416.1 443.7 416.6 443.8 417.1 443.8 417.6 443.8 418.1 443.8 418.6 443.8 419.1 443.6 419.6 443.5 420.1 443.4 420.6 443.2 421.1 443.2 421.6 443.2 422.1 443.2 422.6 443.2 423.1 443.2 423.6 443.3 424.1 443.5 424.6 443.6 425.1 443.7 425.6 443.7 426.1 443.8 426.6 443.7 427.1 443.8 427.6 443.7 428.1 443.8 428.6 443.8 429.1 443.8 429.6 443.8 430.1 443.8 430.6 443.9 431.1 443.9 431.6 443.8" stroke="#8bb0e0" stroke-width="0.9" fill="none" stroke-linejoin="round"/>
<path d="M249.8 472.4 250.3 472.4 250.8 472.3 251.3 472.4 251.8 472.4 252.3 472.5 252.8 472.3 253.3 472.4 253.8 472.4 254.3 472.4 254.8 472.4 255.3 472.5 255.8 472.4 256.3 472.4 256.8 472.5 257.3 472.4 257.8 472.3 258.3 472.3 258.8 472.3 259.3 472.4 259.8 472.5 260.3 472.6 260.8 472.4 261.3 472.5 261.8 472.5 262.3 472.6 262.8 472.6 263.3 472.5 263.8 472.6 264.3 472.8 264.8 472.9 265.3 473.1 265.8 473.2 266.3 473 266.8 472.9 267.3 472.9 267.8 472.6 268.3 472.4 268.8 472.3 269.3 472.1 269.8 471.9 270.3 471.8 270.8 471.8 271.3 471.6 271.8 471.3 272.3 471.1 272.8 470.9 273.3 470.6 273.8 470.3 274.3 469.9 274.8 469.8 275.3 469.6 275.8 469.4 276.3 468.9 276.8 468.8 277.3 468.5 277.8 468.1 278.3 467.8 278.8 467.5 279.3 467.1 279.8 466.9 280.3 466.6 280.8 466.3 281.3 466.1 281.8 465.9 282.3 465.6 282.8 465.4 283.3 465.2 283.8 465.1 284.3 465 284.8 464.8 285.3 464.7 285.8 464.7 286.3 464.5 286.8 464.6 287.3 464.5 287.8 464.5 288.3 464.3 288.8 464.4 289.3 464.4 289.8 464.5 290.3 464.5 290.8 464.5 291.3 464.5 291.8 464.6 292.3 464.8 292.8 464.9 293.3 465.1 293.8 465.4 294.3 465.8 294.8 465.9 295.3 466.2 295.8 466.8 296.3 467.2 296.8 467.8 297.3 468 297.8 468.4 298.3 468.8 298.8 469.3 299.3 469.8 299.8 470.2 300.3 470.5 300.8 470.9 301.3 471.1 301.8 471.4 302.3 471.7 302.8 472 303.3 472.1 303.8 472.3 304.3 472.4 304.8 472.4 305.3 472.4 305.8 472.3 306.3 472.4 306.8 472.4 307.3 472.4 307.8 472.4 308.3 471.9 308.8 471.5 309.3 471.9 309.8 473.5 310.3 475.4 310.8 475.8 311.3 474.1 311.8 472.3 312.3 471.2 312.8 470.3 313.3 470.5 313.8 471.7 314.3 473.8 314.8 475.6 315.3 475.3 315.8 473.7 316.3 472.5 316.8 471.9 317.3 471.5 317.8 471.3 318.3 471.1 318.8 470.8 319.3 470.5 319.8 470.4 320.3 470.5 320.8 470.6 321.3 470.8 321.8 471.1 322.3 471.3 322.8 471.6 323.3 471.9 323.8 472 324.3 472.2 324.8 472.3 325.3 472.4 325.8 472.2 326.3 472.2 326.8 472.2 327.3 472.3 327.8 472.4 328.3 472.6 328.8 472.6 329.3 472.6 329.8 472.6 330.3 472.5 330.8 472.5 331.3 472.3 331.8 472.4 332.3 472.4 332.8 472.4 333.3 472.4 333.8 472.3 334.3 472.3 334.8 472.3 335.3 472.4 335.8 472.4 336.3 472.4 336.8 472.4" stroke="#f6a468" stroke-width="0.9" fill="none" stroke-linejoin="round"/>
<path d="M340.6 472.3 341.1 472.3 341.6 472.3 342.1 472.3 342.6 472.4 343.1 472.3 343.6 472.5 344.1 472.5 344.6 472.5 345.1 472.5 345.6 472.5 346.1 472.5 346.6 472.5 347.1 472.4 347.6 472.4 348.1 472.5 348.6 472.5 349.1 472.4 349.6 472.4 350.1 472.3 350.6 472.3 351.1 472.4 351.6 472.3 352.1 472.3 352.6 472.4 353.1 472.4 353.6 472.4 354.1 472.4 354.6 472.3 355.1 472.4 355.6 472.3 356.1 472.3 356.6 472.4 357.1 472.4 357.6 472.3 358.1 472.5 358.6 472.6 359.1 472.4 359.6 472.4 360.1 472.3 360.6 472.4 361.1 472.3 361.6 472.4 362.1 472.4 362.6 472.5 363.1 472.6 363.6 472.5 364.1 472.5 364.6 472.4 365.1 472.4 365.6 472.4 366.1 472.3 366.6 472.4 367.1 472.2 367.6 472.3 368.1 472.4 368.6 472.4 369.1 472.3 369.6 472.3 370.1 472.4 370.6 472.5 371.1 472.5 371.6 472.4 372.1 472.4 372.6 472.4 373.1 472.4 373.6 472.3 374.1 472.4 374.6 472.5 375.1 472.6 375.6 472.7 376.1 472.9 376.6 473.1 377.1 473.1 377.6 472.9 378.1 472.8 378.6 472.5 379.1 472.5 379.6 472.2 380.1 471.9 380.6 471.7 381.1 471.4 381.6 471 382.1 470.6 382.6 470.3 383.1 470 383.6 469.8 384.1 469.9 384.6 470 385.1 470.4 385.6 470.9 386.1 471.3 386.6 471.6 387.1 471.9 387.6 472 388.1 472.1 388.6 472.3 389.1 472.2 389.6 472.3 390.1 472.3 390.6 472.4 391.1 472.4 391.6 472.4 392.1 472.3 392.6 472.1 393.1 472 393.6 471.9 394.1 471.9 394.6 471.9 395.1 471.9 395.6 471.9 396.1 472.2 396.6 472.2 397.1 472.5 397.6 472.5 398.1 472.4 398.6 472.4 399.1 472.5 399.6 472.4 400.1 472.5 400.6 472.6 401.1 472.9 401.6 473 402.1 472.9 402.6 472.7 403.1 472.6 403.6 472.3 404.1 472.2 404.6 472.2 405.1 472 405.6 471.7 406.1 471.3 406.6 470.9 407.1 470.4 407.6 470 408.1 469.7 408.6 469.5 409.1 469.4 409.6 469.6 410.1 469.9 410.6 470.3 411.1 470.7 411.6 471.2 412.1 471.6 412.6 471.8 413.1 472.1 413.6 472.2 414.1 472.3 414.6 472.5 415.1 472.4 415.6 472.3 416.1 472.3 416.6 472.3 417.1 472.4 417.6 472.3 418.1 472.5 418.6 472.5 419.1 472.4 419.6 472.3 420.1 472.2 420.6 472.1 421.1 472 421.6 471.9 422.1 471.9 422.6 472.1 423.1 472.1 423.6 472.2 424.1 472.3 424.6 472.3 425.1 472.4 425.6 472.4 426.1 472.4 426.6 472.4 427.1 472.4 427.6 472.3 428.1 472.3 428.6 472.3 429.1 472.3 429.6 472.3 430.1 472.2 430.6 472.3 431.1 472.3 431.6 472.3" stroke="#f6a468" stroke-width="0.9" fill="none" stroke-linejoin="round"/>
<line x1="249" y1="371.5" x2="337.8" y2="371.5" stroke="#000" stroke-width="1.3"/>
<line x1="340.2" y1="371.5" x2="432.5" y2="371.5" stroke="#000" stroke-width="1.3"/>
<line x1="249" y1="505.7" x2="337.8" y2="505.7" stroke="#000" stroke-width="1.3"/>
<line x1="340.2" y1="505.7" x2="432.5" y2="505.7" stroke="#000" stroke-width="1.3"/>
<line x1="249" y1="370.85" x2="249" y2="506.35" stroke="#000" stroke-width="1.3"/>
<line x1="432.5" y1="370.85" x2="432.5" y2="506.35" stroke="#000" stroke-width="1.3"/>
<line x1="335.8" y1="373.1" x2="338.8" y2="370.3" stroke="#000" stroke-width="0.9"/>
<line x1="339.2" y1="372.7" x2="342.2" y2="369.9" stroke="#000" stroke-width="0.9"/>
<line x1="335.8" y1="507.3" x2="338.8" y2="504.5" stroke="#000" stroke-width="0.9"/>
<line x1="339.2" y1="506.9" x2="342.2" y2="504.1" stroke="#000" stroke-width="0.9"/>
<line x1="259.1" y1="505.7" x2="259.1" y2="504.1" stroke="#000" stroke-width="1"/>
<line x1="274.6" y1="505.7" x2="274.6" y2="503.3" stroke="#000" stroke-width="1"/>
<text x="274.6" y="517.5" font-size="10.6" text-anchor="middle" fill="#000" font-weight="bold" font-family="Liberation Serif">3500</text>
<line x1="290.1" y1="505.7" x2="290.1" y2="504.1" stroke="#000" stroke-width="1"/>
<line x1="305.6" y1="505.7" x2="305.6" y2="503.3" stroke="#000" stroke-width="1"/>
<text x="305.6" y="517.5" font-size="10.6" text-anchor="middle" fill="#000" font-weight="bold" font-family="Liberation Serif">3000</text>
<line x1="321.1" y1="505.7" x2="321.1" y2="504.1" stroke="#000" stroke-width="1"/>
<line x1="341.15" y1="505.7" x2="341.15" y2="504.1" stroke="#000" stroke-width="1"/>
<line x1="356.9" y1="505.7" x2="356.9" y2="503.3" stroke="#000" stroke-width="1"/>
<text x="356.9" y="517.5" font-size="10.6" text-anchor="middle" fill="#000" font-weight="bold" font-family="Liberation Serif">2000</text>
<line x1="372.65" y1="505.7" x2="372.65" y2="504.1" stroke="#000" stroke-width="1"/>
<line x1="388.4" y1="505.7" x2="388.4" y2="503.3" stroke="#000" stroke-width="1"/>
<text x="388.4" y="517.5" font-size="10.6" text-anchor="middle" fill="#000" font-weight="bold" font-family="Liberation Serif">1500</text>
<line x1="404.15" y1="505.7" x2="404.15" y2="504.1" stroke="#000" stroke-width="1"/>
<line x1="419.9" y1="505.7" x2="419.9" y2="503.3" stroke="#000" stroke-width="1"/>
<text x="419.9" y="517.5" font-size="10.6" text-anchor="middle" fill="#000" font-weight="bold" font-family="Liberation Serif">1000</text>
<text x="255.1" y="381.6" font-size="8.2" text-anchor="start" fill="#000" font-weight="bold" font-family="Liberation Serif" textLength="82.9" lengthAdjust="spacingAndGlyphs">*O-H stretching bonds</text>
<text x="372.7" y="380.8" font-size="8.6" text-anchor="start" fill="#000" font-weight="bold" font-family="Liberation Serif">*H<tspan dy="1.8" font-size="70%">2</tspan><tspan dy="-1.8">O</tspan></text>
<text x="396" y="380.8" font-size="8.6" text-anchor="start" fill="#000" font-weight="bold" font-family="Liberation Serif" textLength="22.7" lengthAdjust="spacingAndGlyphs">*OOH</text>
<text x="434" y="393.9" font-size="7.8" text-anchor="start" fill="#000" font-weight="bold" font-family="Liberation Serif">OCP</text>
<text x="433.8" y="405.3" font-size="7.8" text-anchor="start" fill="#000" font-weight="bold" font-family="Liberation Serif">0.5 V</text>
<text x="437.1" y="440.3" font-size="7.8" text-anchor="start" fill="#000" font-weight="bold" font-family="Liberation Serif">&#916;E=</text>
<text x="435" y="449.1" font-size="7.8" text-anchor="start" fill="#000" font-weight="bold" font-family="Liberation Serif">-0.2 V</text>
<text x="434" y="476.8" font-size="7.8" text-anchor="start" fill="#000" font-weight="bold" font-family="Liberation Serif">-0.3 V</text>
<line x1="441.5" y1="411.5" x2="441.5" y2="432.4" stroke="#000" stroke-width="1.1" stroke-dasharray="2.6 3.4"/>
<line x1="441.5" y1="452" x2="441.5" y2="458" stroke="#000" stroke-width="1.1" stroke-dasharray="2.6 3.4"/>
<line x1="441.5" y1="459" x2="441.5" y2="464" stroke="#000" stroke-width="1.1"/>
<path d="M439.6 462.8 443.4 462.8 441.5 468Z" stroke="none" stroke-width="0" fill="#000"/>
<text x="251.8" y="498.9" font-size="9.6" text-anchor="start" fill="#1a1a1a" font-weight="bold" font-family="Liberation Serif">0.4SCNT</text>
<text x="235.9" y="381.4" font-size="18.3" text-anchor="start" fill="#000" font-weight="bold" font-family="Liberation Serif">g</text>
<text x="244.8" y="432.3" font-size="12.8" text-anchor="middle" fill="#000" font-weight="bold" font-family="Liberation Serif" textLength="85.4" lengthAdjust="spacingAndGlyphs" transform="rotate(-90 244.8 432.3)">Absorbance (a.u.)</text>
<text x="345.05" y="528.2" font-size="11.4" text-anchor="middle" fill="#000" font-weight="bold" font-family="Liberation Serif">Wavenumber <tspan font-size="8.6">(</tspan>cm<tspan dy="-4" font-size="70%">-1</tspan><tspan dy="4"><tspan font-size="8.6">)</tspan></tspan></text>
<rect x="477.4" y="382.2" width="57.3" height="109.1" fill="#fdeeee" stroke="#f4a3a3" stroke-width="0.9" stroke-dasharray="3 2"/>
<rect x="600" y="383" width="18.4" height="113.5" fill="#fdeeee" stroke="#f4a3a3" stroke-width="0.9" stroke-dasharray="3 2"/>
<rect x="624.5" y="383" width="15.8" height="113.5" fill="#fdeeee" stroke="#f4a3a3" stroke-width="0.9" stroke-dasharray="3 2"/>
<path d="M471 386.9 471.5 386.9 472 386.9 472.5 386.9 473 386.9 473.5 386.9 474 386.9 474.5 386.9 475 386.9 475.5 386.9 476 386.9 476.5 386.9 477 386.9 477.5 386.9 478 386.9 478.5 386.9 479 386.9 479.5 386.9 480 386.9 480.5 386.9 481 386.9 481.5 386.9 482 386.9 482.5 386.9 483 387 483.5 387 484 387 484.5 387 485 387 485.5 387 486 387 486.5 387 487 387 487.5 387 488 387 488.5 387 489 387 489.5 387 490 387 490.5 387 491 387 491.5 387 492 387 492.5 387 493 387 493.5 387 494 387 494.5 387 495 387 495.5 387 496 387 496.5 387 497 387 497.5 387 498 387 498.5 387 499 387 499.5 387 500 387 500.5 387 501 387 501.5 387 502 387 502.5 387 503 387 503.5 387 504 387 504.5 387 505 387 505.5 387 506 387 506.5 387 507 387 507.5 387 508 387.1 508.5 387.1 509 387.1 509.5 387.1 510 387.1 510.5 387.1 511 387.1 511.5 387.1 512 387.1 512.5 387.1 513 387.1 513.5 387.1 514 387.1 514.5 387.1 515 387.1 515.5 387.1 516 387.1 516.5 387.1 517 387.1 517.5 387.1 518 387.1 518.5 387.1 519 387.1 519.5 387.1 520 387.1 520.5 387.1 521 387.1 521.5 387.1 522 387.1 522.5 387.1 523 387.1 523.5 387.1 524 387.1 524.5 387.1 525 387.1 525.5 387.1 526 387.1 526.5 387.1 527 387.1 527.5 387.1 528 387.1 528.5 387.1 529 387.1 529.5 387.1 530 387.1 530.5 387.1 531 387.1 531.5 387.1 532 387.1 532.5 387.1 533 387.2 533.5 387.2 534 387.2 534.5 387.2 535 387.2 535.5 387.2 536 387.2 536.5 387.2 537 387.2 537.5 387.2 538 387.2 538.5 387.2 539 387.2 539.5 387.2 540 387.2 540.5 387.2 541 387.2 541.5 387.2 542 387.2 542.5 387.2 543 387.2 543.5 387.2 544 387.2 544.5 387.2 545 387.2 545.5 387.2 546 387.2 546.5 387.2 547 387.2 547.5 387.2 548 387.2 548.5 387.2 549 387.2 549.5 387.2 550 387.2 550.5 387.2 551 387.2 551.5 387.2 552 387.2 552.5 387.2 553 387.2 553.5 387.2 554 387.2 554.5 387.2 555 387.2 555.5 387.2 556 387.2 556.5 387.2 557 387.2 557.5 387.2 558 387.3 558.5 387.3 559 387.3 559.5 387.3 560 387.3" stroke="#1c1c1c" stroke-width="1" fill="none" stroke-linejoin="round"/>
<path d="M564 387.3 564.5 387.3 565 387.3 565.5 387.3 566 387.3 566.5 387.3 567 387.3 567.5 387.3 568 387.3 568.5 387.3 569 387.3 569.5 387.3 570 387.3 570.5 387.3 571 387.3 571.5 387.3 572 387.3 572.5 387.3 573 387.3 573.5 387.3 574 387.3 574.5 387.3 575 387.3 575.5 387.3 576 387.3 576.5 387.3 577 387.3 577.5 387.3 578 387.3 578.5 387.3 579 387.3 579.5 387.3 580 387.3 580.5 387.3 581 387.3 581.5 387.3 582 387.3 582.5 387.3 583 387.4 583.5 387.4 584 387.4 584.5 387.4 585 387.4 585.5 387.4 586 387.4 586.5 387.4 587 387.4 587.5 387.4 588 387.4 588.5 387.4 589 387.4 589.5 387.4 590 387.4 590.5 387.4 591 387.4 591.5 387.4 592 387.4 592.5 387.4 593 387.4 593.5 387.4 594 387.4 594.5 387.4 595 387.4 595.5 387.4 596 387.4 596.5 387.4 597 387.4 597.5 387.4 598 387.4 598.5 387.4 599 387.4 599.5 387.4 600 387.4 600.5 387.4 601 387.4 601.5 387.4 602 387.4 602.5 387.4 603 387.4 603.5 387.4 604 387.4 604.5 387.4 605 387.4 605.5 387.4 606 387.4 606.5 387.4 607 387.4 607.5 387.4 608 387.5 608.5 387.5 609 387.5 609.5 387.5 610 387.5 610.5 387.5 611 387.5 611.5 387.5 612 387.5 612.5 387.5 613 387.5 613.5 387.5 614 387.5 614.5 387.5 615 387.5 615.5 387.5 616 387.5 616.5 387.5 617 387.5 617.5 387.5 618 387.5 618.5 387.5 619 387.5 619.5 387.5 620 387.5 620.5 387.5 621 387.5 621.5 387.5 622 387.5 622.5 387.5 623 387.5 623.5 387.5 624 387.5 624.5 387.5 625 387.5 625.5 387.5 626 387.5 626.5 387.5 627 387.5 627.5 387.5 628 387.5 628.5 387.5 629 387.5 629.5 387.5 630 387.5 630.5 387.5 631 387.5 631.5 387.5 632 387.5 632.5 387.5 633 387.6 633.5 387.6 634 387.6 634.5 387.6 635 387.6 635.5 387.6 636 387.6 636.5 387.6 637 387.6 637.5 387.6 638 387.6 638.5 387.6 639 387.6 639.5 387.6 640 387.6 640.5 387.6 641 387.6 641.5 387.6 642 387.6 642.5 387.6 643 387.6 643.5 387.6 644 387.6 644.5 387.6 645 387.6 645.5 387.6 646 387.6 646.5 387.6 647 387.6 647.5 387.6 648 387.6 648.5 387.6 649 387.6 649.5 387.6 650 387.6 650.5 387.6 651 387.6 651.5 387.6 652 387.6 652.5 387.6 653 387.6 653.5 387.6 654 387.6 654.5 387.6 655 387.6 655.5 387.6 656 387.6 656.5 387.6" stroke="#1c1c1c" stroke-width="1" fill="none" stroke-linejoin="round"/>
<path d="M471 407.2 471.5 407.3 472 407.3 472.5 407.4 473 407.3 473.5 407.3 474 407.3 474.5 407.3 475 407.3 475.5 407.3 476 407.3 476.5 407.4 477 407.3 477.5 407.4 478 407.6 478.5 408.1 479 408.5 479.5 408.7 480 408.5 480.5 408.1 481 407.7 481.5 407.4 482 407.2 482.5 406.9 483 406.7 483.5 406.3 484 406 484.5 405.6 485 405.1 485.5 404.6 486 404.1 486.5 403.6 487 403 487.5 402.4 488 402 488.5 401.4 489 400.8 489.5 400.2 490 399.5 490.5 398.8 491 398.2 491.5 397.5 492 396.8 492.5 396.3 493 395.8 493.5 395 494 394.5 494.5 393.9 495 393.4 495.5 392.8 496 392.6 496.5 392.1 497 391.7 497.5 391.3 498 390.9 498.5 390.7 499 390.5 499.5 390.5 500 390.4 500.5 390.5 501 390.3 501.5 390.3 502 390.3 502.5 390.2 503 390.5 503.5 390.4 504 390.4 504.5 390.3 505 390.3 505.5 390.2 506 390.3 506.5 390.3 507 390.3 507.5 390.5 508 390.5 508.5 390.8 509 391 509.5 391.2 510 391.4 510.5 391.7 511 391.9 511.5 392.2 512 392.4 512.5 392.8 513 393 513.5 393.2 514 393.6 514.5 393.9 515 394 515.5 394.3 516 394.7 516.5 395.1 517 395.4 517.5 395.9 518 396.1 518.5 396.5 519 396.9 519.5 397.2 520 397.6 520.5 398 521 398.3 521.5 398.7 522 399.1 522.5 399.4 523 399.6 523.5 399.9 524 400.3 524.5 400.6 525 401.1 525.5 401.4 526 402 526.5 402.3 527 402.5 527.5 402.9 528 403.4 528.5 403.8 529 404.2 529.5 404.8 530 405.2 530.5 405.9 531 406.2 531.5 406.6 532 406.9 532.5 407 533 407.2 533.5 407.3 534 407.4 534.5 407.3 535 407.4 535.5 407.5 536 407.5 536.5 407.4 537 407.4 537.5 407.3 538 407.3 538.5 407.3 539 407.3 539.5 407.3 540 407.3 540.5 407.2 541 407.3 541.5 407.3 542 407.3 542.5 407.3 543 407.3 543.5 407.3 544 407.4 544.5 407.5 545 407.3 545.5 407.2 546 407.3 546.5 407.4 547 407.3 547.5 407.3 548 407.3 548.5 407.5 549 407.4 549.5 407.3 550 407.2 550.5 407.1 551 407.3 551.5 407.3 552 407.4 552.5 407.4 553 407.4 553.5 407.4 554 407.4 554.5 407.4 555 407.3 555.5 407.3 556 407.2 556.5 407.3 557 407.3 557.5 407.2 558 407.2 558.5 407.4 559 407.5 559.5 407.3 560 407.4" stroke="#7882f2" stroke-width="0.9" fill="none" stroke-linejoin="round"/>
<path d="M564 407.3 564.5 407.2 565 407.3 565.5 407.3 566 407.4 566.5 407.4 567 407.3 567.5 407.1 568 407.2 568.5 407.3 569 407.2 569.5 407.3 570 407.4 570.5 407.2 571 407.2 571.5 407.3 572 407.3 572.5 407.3 573 407.3 573.5 407.3 574 407.3 574.5 407.3 575 407.2 575.5 407.3 576 407.3 576.5 407.3 577 407.3 577.5 407.3 578 407.3 578.5 407.4 579 407.4 579.5 407.4 580 407.4 580.5 407.3 581 407.3 581.5 407.2 582 407.2 582.5 407.3 583 407.4 583.5 407.3 584 407.3 584.5 407.4 585 407.2 585.5 407.3 586 407.3 586.5 407.4 587 407.4 587.5 407.2 588 407.1 588.5 407.3 589 407.3 589.5 407.4 590 407.4 590.5 407.4 591 407.3 591.5 407.4 592 407.3 592.5 407.4 593 407.4 593.5 407.4 594 407.5 594.5 407.3 595 407.3 595.5 407.4 596 407.4 596.5 407.6 597 407.6 597.5 407.6 598 407.7 598.5 407.7 599 407.7 599.5 407.6 600 407.3 600.5 407.1 601 406.8 601.5 406.3 602 405.8 602.5 405.3 603 404.4 603.5 403.6 604 402.7 604.5 401.6 605 400.6 605.5 399.7 606 399 606.5 398.5 607 398.2 607.5 398.3 608 398.9 608.5 399.5 609 400.4 609.5 401.2 610 402.2 610.5 403 611 403.9 611.5 404.3 612 404.7 612.5 405.1 613 405.3 613.5 405.5 614 405.6 614.5 405.7 615 405.9 615.5 406.2 616 406.3 616.5 406.5 617 406.7 617.5 406.9 618 406.9 618.5 407 619 407 619.5 407.1 620 407.3 620.5 407.2 621 407.3 621.5 407.3 622 407.2 622.5 407.3 623 407.5 623.5 407.8 624 408 624.5 408.5 625 409 625.5 409.4 626 409.6 626.5 409.5 627 409.1 627.5 408.5 628 407.9 628.5 407.4 629 407.2 629.5 407 630 406.9 630.5 406.7 631 406.4 631.5 406.3 632 406.2 632.5 406.2 633 406.2 633.5 406.2 634 406.2 634.5 406.1 635 406.1 635.5 406.2 636 406.3 636.5 406.4 637 406.7 637.5 406.9 638 407.2 638.5 407.6 639 407.9 639.5 408.3 640 408.7 640.5 409 641 409.1 641.5 408.9 642 408.7 642.5 408.5 643 408.2 643.5 407.9 644 407.6 644.5 407.2 645 406.8 645.5 406.7 646 406.8 646.5 407.4 647 408 647.5 408.4 648 408.2 648.5 407.8 649 407.1 649.5 406.5 650 406.2 650.5 406.5 651 407.1 651.5 407.8 652 407.9 652.5 407.8 653 407.5 653.5 407.4 654 407.2 654.5 407.2 655 407.1 655.5 407.3 656 407.4 656.5 407.4" stroke="#7882f2" stroke-width="0.9" fill="none" stroke-linejoin="round"/>
<path d="M471 427.3 471.5 427.4 472 427.4 472.5 427.4 473 427.4 473.5 427.4 474 427.3 474.5 427.3 475 427.3 475.5 427.3 476 427.3 476.5 427.3 477 427.4 477.5 427.4 478 427.7 478.5 428.2 479 428.6 479.5 428.9 480 428.7 480.5 428.1 481 427.7 481.5 427.3 482 427.1 482.5 426.9 483 426.6 483.5 426.5 484 426.2 484.5 425.9 485 425.5 485.5 425.1 486 424.8 486.5 424.3 487 423.8 487.5 423.3 488 422.9 488.5 422.4 489 421.9 489.5 421.4 490 421 490.5 420.4 491 419.9 491.5 419.4 492 419.1 492.5 418.5 493 418.1 493.5 417.6 494 417.2 494.5 416.6 495 416.3 495.5 415.9 496 415.6 496.5 415.3 497 415 497.5 414.7 498 414.6 498.5 414.5 499 414.5 499.5 414.4 500 414.4 500.5 414.4 501 414.6 501.5 414.5 502 414.4 502.5 414.4 503 414.4 503.5 414.4 504 414.5 504.5 414.6 505 414.5 505.5 414.7 506 414.7 506.5 414.8 507 414.8 507.5 415 508 415.2 508.5 415.2 509 415.5 509.5 415.5 510 415.6 510.5 415.8 511 416 511.5 416.2 512 416.3 512.5 416.6 513 416.7 513.5 417 514 417.3 514.5 417.5 515 417.8 515.5 418.1 516 418.2 516.5 418.4 517 418.7 517.5 419 518 419.2 518.5 419.4 519 419.8 519.5 419.9 520 420.2 520.5 420.5 521 420.8 521.5 421 522 421.2 522.5 421.7 523 421.8 523.5 422.1 524 422.4 524.5 422.6 525 422.8 525.5 423.1 526 423.4 526.5 423.4 527 423.8 527.5 424.1 528 424.3 528.5 424.7 529 425.2 529.5 425.7 530 426 530.5 426.3 531 426.5 531.5 426.9 532 427 532.5 427.1 533 427.2 533.5 427.2 534 427.2 534.5 427.4 535 427.2 535.5 427.2 536 427.3 536.5 427.3 537 427.2 537.5 427.2 538 427.2 538.5 427.4 539 427.4 539.5 427.3 540 427.4 540.5 427.4 541 427.3 541.5 427.3 542 427.3 542.5 427.2 543 427.2 543.5 427.3 544 427.4 544.5 427.5 545 427.4 545.5 427.4 546 427.2 546.5 427.2 547 427.2 547.5 427.3 548 427.2 548.5 427.2 549 427.1 549.5 427.2 550 427.3 550.5 427.2 551 427.4 551.5 427.4 552 427.3 552.5 427.3 553 427.3 553.5 427.4 554 427.4 554.5 427.5 555 427.5 555.5 427.4 556 427.4 556.5 427.4 557 427.3 557.5 427.2 558 427.2 558.5 427.1 559 427.2 559.5 427.2 560 427.3" stroke="#62b7f2" stroke-width="0.9" fill="none" stroke-linejoin="round"/>
<path d="M564 427.3 564.5 427.3 565 427.3 565.5 427.4 566 427.4 566.5 427.3 567 427.4 567.5 427.4 568 427.5 568.5 427.5 569 427.5 569.5 427.5 570 427.4 570.5 427.4 571 427.3 571.5 427.3 572 427.3 572.5 427.3 573 427.2 573.5 427.3 574 427.3 574.5 427.5 575 427.4 575.5 427.4 576 427.3 576.5 427.3 577 427.3 577.5 427.3 578 427.3 578.5 427.2 579 427.3 579.5 427.3 580 427.2 580.5 427.3 581 427.2 581.5 427.2 582 427.2 582.5 427.2 583 427.2 583.5 427.2 584 427.2 584.5 427.2 585 427.2 585.5 427.2 586 427.2 586.5 427.2 587 427.3 587.5 427.3 588 427.3 588.5 427.4 589 427.3 589.5 427.2 590 427.3 590.5 427.3 591 427.3 591.5 427.3 592 427.4 592.5 427.4 593 427.3 593.5 427.3 594 427.4 594.5 427.3 595 427.3 595.5 427.4 596 427.4 596.5 427.4 597 427.6 597.5 427.6 598 427.7 598.5 427.6 599 427.5 599.5 427.4 600 427.3 600.5 427 601 426.8 601.5 426.6 602 426.2 602.5 425.7 603 425.2 603.5 424.5 604 423.7 604.5 422.8 605 422.2 605.5 421.4 606 420.9 606.5 420.4 607 420.3 607.5 420.4 608 420.9 608.5 421.5 609 422.1 609.5 422.7 610 423.4 610.5 424 611 424.6 611.5 425.1 612 425.4 612.5 425.6 613 425.9 613.5 426.1 614 426 614.5 426.1 615 426.2 615.5 426.4 616 426.5 616.5 426.8 617 426.9 617.5 427.1 618 427 618.5 427.1 619 427.2 619.5 427.3 620 427.2 620.5 427.2 621 427.3 621.5 427.3 622 427.3 622.5 427.4 623 427.5 623.5 427.6 624 427.8 624.5 427.9 625 428.1 625.5 428.2 626 428.3 626.5 428.3 627 428.1 627.5 427.8 628 427.5 628.5 427.2 629 427.1 629.5 427 630 426.9 630.5 426.7 631 426.6 631.5 426.5 632 426.5 632.5 426.6 633 426.5 633.5 426.3 634 426.3 634.5 426.3 635 426.4 635.5 426.5 636 426.6 636.5 426.7 637 426.8 637.5 427 638 427.2 638.5 427.3 639 427.4 639.5 427.6 640 427.9 640.5 428 641 428.1 641.5 428 642 428 642.5 427.9 643 427.7 643.5 427.6 644 427.4 644.5 427.2 645 427 645.5 427 646 427.2 646.5 427.5 647 427.8 647.5 428.1 648 428.1 648.5 427.8 649 427.2 649.5 426.6 650 426.6 650.5 426.7 651 427.1 651.5 427.4 652 427.7 652.5 427.6 653 427.5 653.5 427.2 654 427.2 654.5 427.3 655 427.4 655.5 427.4 656 427.3 656.5 427.4" stroke="#62b7f2" stroke-width="0.9" fill="none" stroke-linejoin="round"/>
<path d="M471 449.3 471.5 449.2 472 449.3 472.5 449.3 473 449.2 473.5 449.4 474 449.3 474.5 449.3 475 449.3 475.5 449.4 476 449.5 476.5 449.5 477 449.6 477.5 449.8 478 450.1 478.5 450.5 479 450.9 479.5 451 480 450.8 480.5 450.2 481 449.7 481.5 449.5 482 449 482.5 448.8 483 448.5 483.5 448.3 484 447.9 484.5 447.6 485 447.3 485.5 446.8 486 446.3 486.5 445.7 487 445.2 487.5 444.6 488 444.1 488.5 443.6 489 443.1 489.5 442.5 490 442 490.5 441.2 491 440.6 491.5 440.1 492 439.5 492.5 438.7 493 438.2 493.5 437.5 494 436.9 494.5 436.5 495 435.9 495.5 435.3 496 434.9 496.5 434.6 497 434.1 497.5 433.8 498 433.4 498.5 433.2 499 432.9 499.5 432.6 500 432.5 500.5 432.3 501 432.5 501.5 432.5 502 432.4 502.5 432.5 503 432.5 503.5 432.5 504 432.5 504.5 432.5 505 432.5 505.5 432.6 506 432.5 506.5 432.5 507 432.4 507.5 432.5 508 432.5 508.5 432.5 509 432.5 509.5 432.4 510 432.4 510.5 432.5 511 432.5 511.5 432.7 512 432.8 512.5 433 513 433.1 513.5 433.4 514 433.6 514.5 433.8 515 434.3 515.5 434.5 516 434.9 516.5 435.3 517 435.6 517.5 435.8 518 436.3 518.5 436.8 519 437.1 519.5 437.6 520 438.1 520.5 438.4 521 438.8 521.5 439.1 522 439.6 522.5 440.2 523 440.5 523.5 441.1 524 441.4 524.5 441.8 525 442.4 525.5 442.9 526 443.3 526.5 443.8 527 444.3 527.5 444.4 528 444.7 528.5 445.3 529 445.9 529.5 446.4 530 446.9 530.5 447.4 531 447.9 531.5 448.3 532 448.7 532.5 449 533 449.3 533.5 449.4 534 449.5 534.5 449.5 535 449.4 535.5 449.5 536 449.3 536.5 449.3 537 449.4 537.5 449.4 538 449.5 538.5 449.4 539 449.3 539.5 449.3 540 449.4 540.5 449.4 541 449.4 541.5 449.5 542 449.4 542.5 449.4 543 449.4 543.5 449.3 544 449.4 544.5 449.3 545 449.4 545.5 449.3 546 449.3 546.5 449.3 547 449.3 547.5 449.3 548 449.3 548.5 449.3 549 449.4 549.5 449.4 550 449.4 550.5 449.4 551 449.3 551.5 449.3 552 449.3 552.5 449.3 553 449.3 553.5 449.3 554 449.4 554.5 449.3 555 449.3 555.5 449.3 556 449.3 556.5 449.3 557 449.4 557.5 449.4 558 449.5 558.5 449.4 559 449.5 559.5 449.4 560 449.4" stroke="#aad772" stroke-width="0.9" fill="none" stroke-linejoin="round"/>
<path d="M564 449.5 564.5 449.6 565 449.5 565.5 449.5 566 449.4 566.5 449.3 567 449.3 567.5 449.3 568 449.3 568.5 449.4 569 449.4 569.5 449.5 570 449.5 570.5 449.5 571 449.4 571.5 449.4 572 449.3 572.5 449.3 573 449.3 573.5 449.4 574 449.4 574.5 449.4 575 449.3 575.5 449.2 576 449.3 576.5 449.4 577 449.2 577.5 449.4 578 449.4 578.5 449.4 579 449.3 579.5 449.3 580 449.4 580.5 449.3 581 449.4 581.5 449.4 582 449.5 582.5 449.5 583 449.4 583.5 449.4 584 449.3 584.5 449.2 585 449.3 585.5 449.4 586 449.4 586.5 449.4 587 449.4 587.5 449.4 588 449.4 588.5 449.4 589 449.5 589.5 449.6 590 449.5 590.5 449.5 591 449.3 591.5 449.4 592 449.5 592.5 449.4 593 449.5 593.5 449.6 594 449.5 594.5 449.5 595 449.5 595.5 449.6 596 449.6 596.5 449.7 597 449.8 597.5 449.8 598 449.9 598.5 449.8 599 449.6 599.5 449.5 600 449.3 600.5 449.1 601 448.8 601.5 448.5 602 447.9 602.5 447.3 603 446.5 603.5 445.7 604 444.7 604.5 443.7 605 442.8 605.5 441.8 606 441 606.5 440.5 607 440.5 607.5 440.6 608 441 608.5 441.6 609 442.5 609.5 443.5 610 444.4 610.5 445.3 611 445.9 611.5 446.5 612 447 612.5 447.4 613 447.6 613.5 447.6 614 447.9 614.5 448 615 448.3 615.5 448.3 616 448.5 616.5 448.6 617 448.8 617.5 449 618 449 618.5 449.2 619 449.5 619.5 449.4 620 449.3 620.5 449.4 621 449.4 621.5 449.3 622 449.3 622.5 449.4 623 449.4 623.5 449.8 624 450.1 624.5 450.5 625 450.9 625.5 451.1 626 451.1 626.5 450.7 627 450.2 627.5 449.4 628 448.5 628.5 447.6 629 446.7 629.5 445.7 630 444.7 630.5 443.5 631 442.2 631.5 441 632 440.1 632.5 439.4 633 438.7 633.5 438.6 634 438.8 634.5 439.3 635 440.1 635.5 441.1 636 442.2 636.5 443.3 637 444.6 637.5 445.6 638 446.6 638.5 447.6 639 448.6 639.5 449.4 640 450 640.5 450.6 641 450.8 641.5 450.8 642 450.6 642.5 450.5 643 450 643.5 449.8 644 449.5 644.5 449.3 645 449 645.5 449.1 646 449.2 646.5 449.6 647 450.2 647.5 450.4 648 450.3 648.5 449.9 649 449.3 649.5 448.8 650 448.6 650.5 448.8 651 449.2 651.5 449.6 652 449.9 652.5 449.9 653 449.6 653.5 449.4 654 449.2 654.5 449.3 655 449.4 655.5 449.4 656 449.4 656.5 449.3" stroke="#aad772" stroke-width="0.9" fill="none" stroke-linejoin="round"/>
<path d="M471 467.7 471.5 467.7 472 467.6 472.5 467.6 473 467.7 473.5 467.7 474 467.7 474.5 467.6 475 467.6 475.5 467.6 476 467.6 476.5 467.6 477 467.7 477.5 467.8 478 468.1 478.5 468.4 479 468.9 479.5 469.2 480 469 480.5 468.6 481 468 481.5 467.7 482 467.5 482.5 467.2 483 466.9 483.5 466.5 484 466.1 484.5 465.8 485 465.3 485.5 464.6 486 464.2 486.5 463.6 487 463 487.5 462.2 488 461.5 488.5 460.8 489 460.3 489.5 459.6 490 458.9 490.5 458.3 491 457.7 491.5 457 492 456.3 492.5 455.6 493 455 493.5 454.6 494 453.9 494.5 453.4 495 452.9 495.5 452.4 496 452.1 496.5 451.7 497 451.5 497.5 451.3 498 451.2 498.5 451.1 499 451.1 499.5 451 500 451 500.5 450.9 501 450.8 501.5 451.2 502 451.3 502.5 451.5 503 451.5 503.5 451.8 504 452 504.5 452.2 505 452.4 505.5 452.7 506 452.9 506.5 453 507 453.3 507.5 453.5 508 453.8 508.5 454 509 454.2 509.5 454.3 510 454.6 510.5 454.9 511 455.1 511.5 455.3 512 455.4 512.5 455.7 513 456 513.5 456.3 514 456.5 514.5 456.7 515 457 515.5 457.2 516 457.6 516.5 457.8 517 457.9 517.5 458.2 518 458.4 518.5 458.7 519 458.9 519.5 459.2 520 459.4 520.5 459.6 521 459.8 521.5 460.1 522 460.3 522.5 460.6 523 460.9 523.5 461.1 524 461.3 524.5 461.6 525 461.9 525.5 462.1 526 462.5 526.5 462.9 527 463.1 527.5 463.7 528 464.3 528.5 464.8 529 465.3 529.5 465.7 530 466.2 530.5 466.6 531 466.8 531.5 467.1 532 467.3 532.5 467.4 533 467.5 533.5 467.7 534 467.7 534.5 467.8 535 467.7 535.5 467.6 536 467.6 536.5 467.7 537 467.7 537.5 467.6 538 467.6 538.5 467.6 539 467.7 539.5 467.6 540 467.6 540.5 467.6 541 467.7 541.5 467.7 542 467.8 542.5 467.7 543 467.6 543.5 467.5 544 467.6 544.5 467.7 545 467.8 545.5 467.7 546 467.6 546.5 467.6 547 467.7 547.5 467.8 548 467.7 548.5 467.7 549 467.6 549.5 467.7 550 467.8 550.5 467.6 551 467.7 551.5 467.7 552 467.6 552.5 467.5 553 467.5 553.5 467.8 554 467.9 554.5 467.7 555 467.7 555.5 467.7 556 467.7 556.5 467.7 557 467.6 557.5 467.6 558 467.6 558.5 467.5 559 467.6 559.5 467.5 560 467.5" stroke="#8bb0e0" stroke-width="0.9" fill="none" stroke-linejoin="round"/>
<path d="M564 467.8 564.5 467.8 565 467.9 565.5 467.8 566 467.7 566.5 467.7 567 467.6 567.5 467.7 568 467.7 568.5 467.7 569 467.6 569.5 467.6 570 467.8 570.5 467.8 571 467.8 571.5 467.8 572 467.7 572.5 467.8 573 467.8 573.5 467.8 574 467.7 574.5 467.6 575 467.4 575.5 467.5 576 467.5 576.5 467.6 577 467.7 577.5 467.7 578 467.7 578.5 467.7 579 467.7 579.5 467.7 580 467.7 580.5 467.8 581 467.7 581.5 467.7 582 467.8 582.5 467.8 583 467.7 583.5 467.7 584 467.7 584.5 467.7 585 467.7 585.5 467.7 586 467.7 586.5 467.7 587 467.6 587.5 467.6 588 467.6 588.5 467.6 589 467.6 589.5 467.6 590 467.8 590.5 467.7 591 467.7 591.5 467.6 592 467.6 592.5 467.7 593 467.6 593.5 467.7 594 467.8 594.5 467.8 595 467.9 595.5 467.9 596 467.8 596.5 467.9 597 468 597.5 467.9 598 467.8 598.5 467.9 599 467.9 599.5 467.9 600 467.8 600.5 467.5 601 467.3 601.5 466.9 602 466.4 602.5 465.8 603 465.1 603.5 464.2 604 463.4 604.5 462.3 605 461.2 605.5 460.2 606 459.6 606.5 459.1 607 459 607.5 459.1 608 459.6 608.5 460.1 609 461 609.5 461.9 610 462.9 610.5 463.8 611 464.4 611.5 464.9 612 465.4 612.5 465.8 613 466 613.5 466.1 614 466.3 614.5 466.2 615 466.3 615.5 466.4 616 466.6 616.5 466.9 617 467.1 617.5 467.2 618 467.3 618.5 467.5 619 467.6 619.5 467.6 620 467.7 620.5 467.6 621 467.8 621.5 467.7 622 467.7 622.5 467.6 623 467.7 623.5 467.8 624 467.8 624.5 468 625 468.1 625.5 468.1 626 467.9 626.5 467.7 627 467 627.5 466.5 628 465.9 628.5 465 629 464.2 629.5 462.9 630 461.4 630.5 460 631 458.6 631.5 457.3 632 455.9 632.5 454.9 633 454.4 633.5 454.1 634 454.3 634.5 454.8 635 455.9 635.5 457.2 636 458.6 636.5 460.1 637 461.6 637.5 462.9 638 464.1 638.5 465.1 639 466 639.5 466.7 640 467.2 640.5 467.6 641 467.7 641.5 467.7 642 468 642.5 468 643 468 643.5 467.9 644 467.7 644.5 467.3 645 466.9 645.5 466.8 646 467 646.5 468 647 468.9 647.5 469.7 648 469.6 648.5 468.6 649 467.1 649.5 466 650 465.6 650.5 466.1 651 467.1 651.5 468.2 652 468.7 652.5 468.7 653 468.4 653.5 467.9 654 467.5 654.5 467.4 655 467.6 655.5 467.7 656 467.7 656.5 467.8" stroke="#8bb0e0" stroke-width="0.9" fill="none" stroke-linejoin="round"/>
<path d="M471 489 471.5 489 472 489 472.5 489.1 473 489.1 473.5 489.1 474 489 474.5 489.1 475 489 475.5 489.1 476 489.1 476.5 489.1 477 489.1 477.5 489.3 478 489.6 478.5 490.1 479 490.6 479.5 490.5 480 490.3 480.5 489.9 481 489.4 481.5 489.1 482 488.9 482.5 488.7 483 488.4 483.5 488 484 487.8 484.5 487.5 485 487.3 485.5 486.9 486 486.4 486.5 485.9 487 485.6 487.5 485 488 484.5 488.5 484.1 489 483.5 489.5 483.1 490 482.4 490.5 481.8 491 481.4 491.5 480.7 492 480.2 492.5 479.9 493 479.4 493.5 478.9 494 478.4 494.5 477.9 495 477.5 495.5 477.1 496 476.8 496.5 476.4 497 476.2 497.5 475.9 498 475.5 498.5 475.3 499 475.3 499.5 475.2 500 475.4 500.5 475.4 501 475.5 501.5 475.5 502 475.5 502.5 475.5 503 475.8 503.5 475.8 504 476 504.5 476 505 476.2 505.5 476.4 506 476.6 506.5 476.7 507 477 507.5 477.2 508 477.3 508.5 477.6 509 477.8 509.5 477.8 510 478 510.5 478.1 511 478.2 511.5 478.5 512 478.7 512.5 478.9 513 479.2 513.5 479.2 514 479.4 514.5 479.8 515 480 515.5 480.2 516 480.3 516.5 480.4 517 480.6 517.5 481.1 518 481.2 518.5 481.3 519 481.6 519.5 481.7 520 482 520.5 482.3 521 482.5 521.5 482.7 522 482.8 522.5 483.1 523 483.3 523.5 483.5 524 483.8 524.5 484 525 484.2 525.5 484.3 526 484.5 526.5 484.8 527 485.2 527.5 485.6 528 486 528.5 486.4 529 486.8 529.5 487.2 530 487.6 530.5 487.9 531 488.4 531.5 488.6 532 488.8 532.5 488.9 533 488.9 533.5 488.9 534 488.8 534.5 488.9 535 488.8 535.5 488.8 536 488.8 536.5 488.7 537 488.9 537.5 489 538 489 538.5 489.1 539 489.1 539.5 488.9 540 488.9 540.5 488.9 541 488.8 541.5 488.9 542 489 542.5 489 543 488.9 543.5 488.9 544 488.9 544.5 489 545 489 545.5 488.9 546 488.9 546.5 488.8 547 488.8 547.5 489 548 488.8 548.5 488.9 549 488.9 549.5 489 550 488.9 550.5 489 551 489.1 551.5 489.2 552 489 552.5 489 553 489 553.5 489 554 488.9 554.5 489 555 489.2 555.5 489.2 556 489.1 556.5 489 557 489 557.5 489 558 489 558.5 489.1 559 489.1 559.5 489.1 560 489.1" stroke="#f6a468" stroke-width="0.9" fill="none" stroke-linejoin="round"/>
<path d="M564 489.1 564.5 489 565 488.9 565.5 489 566 488.9 566.5 489 567 489.1 567.5 488.9 568 489 568.5 489 569 489 569.5 489 570 489 570.5 489 571 489 571.5 489 572 488.9 572.5 488.9 573 489 573.5 488.9 574 489 574.5 489 575 488.9 575.5 489 576 489 576.5 489.1 577 489 577.5 489 578 489.1 578.5 488.9 579 489.1 579.5 489.1 580 489 580.5 489 581 489.1 581.5 489 582 489 582.5 488.9 583 488.8 583.5 488.9 584 489 584.5 489 585 489.1 585.5 489.1 586 489.1 586.5 489 587 489.1 587.5 489.2 588 489.1 588.5 489 589 489 589.5 489.1 590 489.1 590.5 489.2 591 489 591.5 489 592 489.1 592.5 489.1 593 489 593.5 489 594 489 594.5 489 595 489.1 595.5 489.1 596 489 596.5 489.1 597 489.2 597.5 489.2 598 488.8 598.5 488.7 599 488.4 599.5 488 600 487.8 600.5 487.3 601 486.7 601.5 486 602 485.5 602.5 484.6 603 483.7 603.5 482.7 604 481.9 604.5 481.1 605 480.2 605.5 479.5 606 478.9 606.5 478.5 607 478.5 607.5 478.7 608 478.8 608.5 479.2 609 479.6 609.5 480.3 610 480.7 610.5 481.1 611 481.5 611.5 481.9 612 482 612.5 482.1 613 482.2 613.5 482.3 614 482.3 614.5 482.4 615 482.7 615.5 482.9 616 483.4 616.5 483.8 617 484.2 617.5 484.7 618 485.3 618.5 485.8 619 486.2 619.5 486.6 620 487.1 620.5 487.5 621 487.8 621.5 488.1 622 488.4 622.5 488.7 623 488.9 623.5 489.2 624 489.6 624.5 489.8 625 490.3 625.5 490.3 626 490.4 626.5 490.1 627 489.3 627.5 488.2 628 487.1 628.5 485.7 629 484.4 629.5 482.9 630 481.1 630.5 479.2 631 477.3 631.5 475.5 632 473.8 632.5 472.7 633 471.8 633.5 471.5 634 471.7 634.5 472.5 635 473.8 635.5 475.5 636 477.2 636.5 479.1 637 480.9 637.5 482.7 638 484.3 638.5 485.7 639 487.1 639.5 487.9 640 488.9 640.5 489.4 641 489.7 641.5 490 642 489.9 642.5 489.7 643 489.4 643.5 489.2 644 489 644.5 489 645 488.9 645.5 488.9 646 488.9 646.5 488.9 647 488.9 647.5 488.8 648 488.7 648.5 488.8 649 488.9 649.5 489 650 489 650.5 488.9 651 488.8 651.5 489 652 488.9 652.5 489 653 489 653.5 489 654 488.9 654.5 488.9 655 489 655.5 488.9 656 489 656.5 488.9" stroke="#f6a468" stroke-width="0.9" fill="none" stroke-linejoin="round"/>
<line x1="470.2" y1="370.6" x2="561.2" y2="370.6" stroke="#000" stroke-width="1.3"/>
<line x1="563.6" y1="370.6" x2="657.3" y2="370.6" stroke="#000" stroke-width="1.3"/>
<line x1="470.2" y1="505.1" x2="561.2" y2="505.1" stroke="#000" stroke-width="1.3"/>
<line x1="563.6" y1="505.1" x2="657.3" y2="505.1" stroke="#000" stroke-width="1.3"/>
<line x1="470.2" y1="369.95" x2="470.2" y2="505.75" stroke="#000" stroke-width="1.3"/>
<line x1="657.3" y1="369.95" x2="657.3" y2="505.75" stroke="#000" stroke-width="1.3"/>
<line x1="559.2" y1="372.2" x2="562.2" y2="369.4" stroke="#000" stroke-width="0.9"/>
<line x1="562.6" y1="371.8" x2="565.6" y2="369" stroke="#000" stroke-width="0.9"/>
<line x1="559.2" y1="506.7" x2="562.2" y2="503.9" stroke="#000" stroke-width="0.9"/>
<line x1="562.6" y1="506.3" x2="565.6" y2="503.5" stroke="#000" stroke-width="0.9"/>
<line x1="479.6" y1="505.1" x2="479.6" y2="503.5" stroke="#000" stroke-width="1"/>
<line x1="495.8" y1="505.1" x2="495.8" y2="502.7" stroke="#000" stroke-width="1"/>
<text x="495.8" y="516.6" font-size="10.6" text-anchor="middle" fill="#000" font-weight="bold" font-family="Liberation Serif">3500</text>
<line x1="512" y1="505.1" x2="512" y2="503.5" stroke="#000" stroke-width="1"/>
<line x1="528.2" y1="505.1" x2="528.2" y2="502.7" stroke="#000" stroke-width="1"/>
<text x="528.2" y="516.6" font-size="10.6" text-anchor="middle" fill="#000" font-weight="bold" font-family="Liberation Serif">3000</text>
<line x1="544.4" y1="505.1" x2="544.4" y2="503.5" stroke="#000" stroke-width="1"/>
<line x1="564.82" y1="505.1" x2="564.82" y2="503.5" stroke="#000" stroke-width="1"/>
<line x1="580.8" y1="505.1" x2="580.8" y2="502.7" stroke="#000" stroke-width="1"/>
<text x="580.8" y="516.6" font-size="10.6" text-anchor="middle" fill="#000" font-weight="bold" font-family="Liberation Serif">2000</text>
<line x1="596.77" y1="505.1" x2="596.77" y2="503.5" stroke="#000" stroke-width="1"/>
<line x1="612.75" y1="505.1" x2="612.75" y2="502.7" stroke="#000" stroke-width="1"/>
<text x="612.75" y="516.6" font-size="10.6" text-anchor="middle" fill="#000" font-weight="bold" font-family="Liberation Serif">1500</text>
<line x1="628.73" y1="505.1" x2="628.73" y2="503.5" stroke="#000" stroke-width="1"/>
<line x1="644.7" y1="505.1" x2="644.7" y2="502.7" stroke="#000" stroke-width="1"/>
<text x="644.7" y="516.6" font-size="10.6" text-anchor="middle" fill="#000" font-weight="bold" font-family="Liberation Serif">1000</text>
<text x="476.5" y="379.9" font-size="8.2" text-anchor="start" fill="#000" font-weight="bold" font-family="Liberation Serif" textLength="84.4" lengthAdjust="spacingAndGlyphs">*O-H stretching bonds</text>
<text x="596.2" y="379" font-size="8.6" text-anchor="start" fill="#000" font-weight="bold" font-family="Liberation Serif">*H<tspan dy="1.8" font-size="70%">2</tspan><tspan dy="-1.8">O</tspan></text>
<text x="620.7" y="379" font-size="8.6" text-anchor="start" fill="#000" font-weight="bold" font-family="Liberation Serif" textLength="22.8" lengthAdjust="spacingAndGlyphs">*OOH</text>
<text x="658.2" y="392.7" font-size="7.8" text-anchor="start" fill="#000" font-weight="bold" font-family="Liberation Serif">OCP</text>
<text x="658" y="409.7" font-size="7.8" text-anchor="start" fill="#000" font-weight="bold" font-family="Liberation Serif">0.5 V</text>
<text x="661" y="438.6" font-size="7.8" text-anchor="start" fill="#000" font-weight="bold" font-family="Liberation Serif">&#916;E=</text>
<text x="659" y="448.2" font-size="7.8" text-anchor="start" fill="#000" font-weight="bold" font-family="Liberation Serif">-0.2 V</text>
<text x="659.6" y="489.4" font-size="7.8" text-anchor="start" fill="#000" font-weight="bold" font-family="Liberation Serif">-0.3 V</text>
<line x1="666.2" y1="413.3" x2="666.2" y2="428.5" stroke="#000" stroke-width="1.1" stroke-dasharray="2.6 3.4"/>
<line x1="666.2" y1="451.5" x2="666.2" y2="469.4" stroke="#000" stroke-width="1.1" stroke-dasharray="2.6 3.4"/>
<line x1="666.2" y1="470.4" x2="666.2" y2="475.4" stroke="#000" stroke-width="1.1"/>
<path d="M664.3 474.2 668.1 474.2 666.2 479.4Z" stroke="none" stroke-width="0" fill="#000"/>
<text x="473" y="498.3" font-size="9.6" text-anchor="start" fill="#1a1a1a" font-weight="bold" font-family="Liberation Serif">0.9SCNT</text>
<text x="455.9" y="382" font-size="18.3" text-anchor="start" fill="#000" font-weight="bold" font-family="Liberation Serif">h</text>
<text x="466.2" y="432.9" font-size="12.8" text-anchor="middle" fill="#000" font-weight="bold" font-family="Liberation Serif" textLength="86.8" lengthAdjust="spacingAndGlyphs" transform="rotate(-90 466.2 432.9)">Absorbance (a.u.)</text>
<text x="568.85" y="527.8" font-size="11.4" text-anchor="middle" fill="#000" font-weight="bold" font-family="Liberation Serif">Wavenumber <tspan font-size="8.6">(</tspan>cm<tspan dy="-4" font-size="70%">-1</tspan><tspan dy="4"><tspan font-size="8.6">)</tspan></tspan></text>
</svg></body></html>
